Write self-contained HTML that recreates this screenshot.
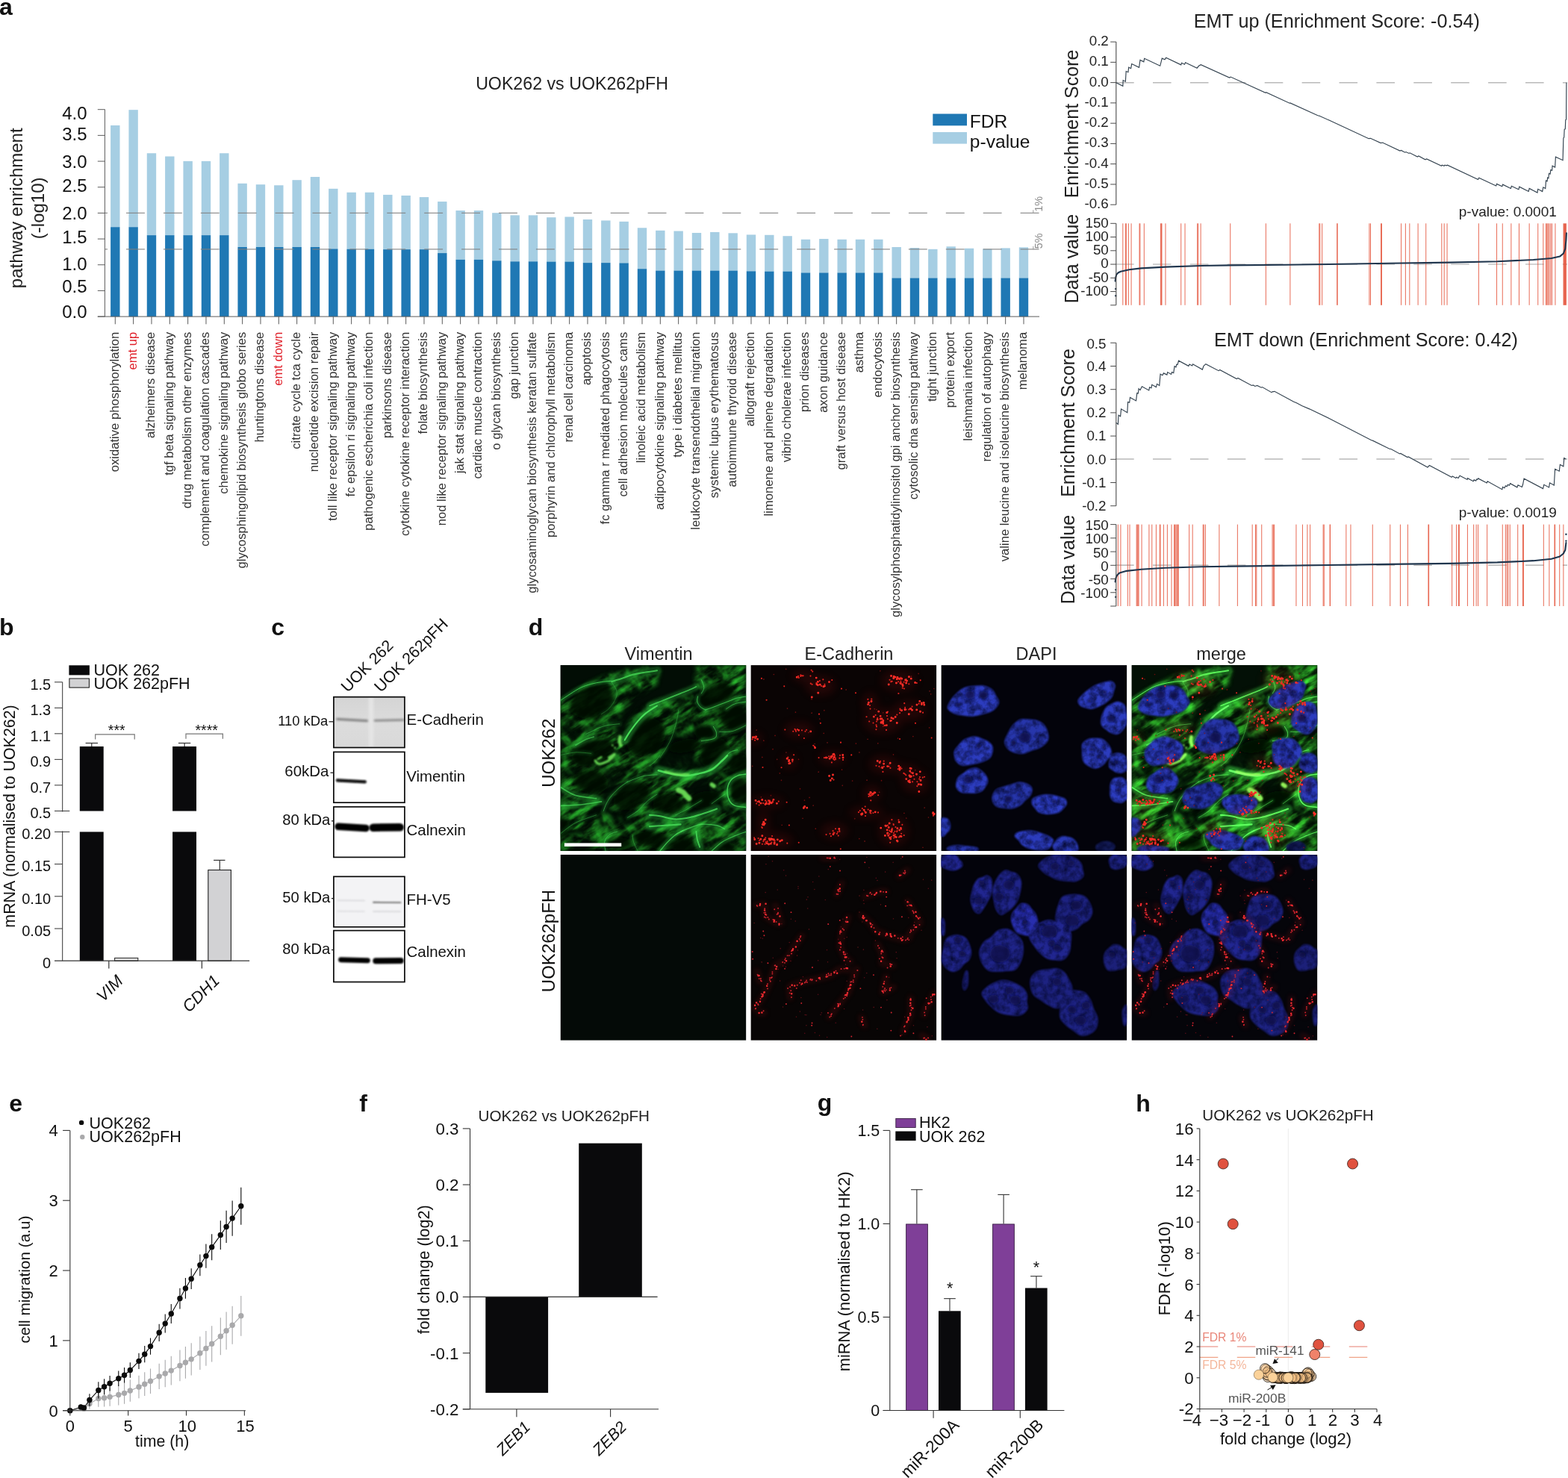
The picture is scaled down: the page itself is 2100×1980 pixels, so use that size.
<!DOCTYPE html>
<html lang="en">
<head>
<meta charset="utf-8">
<title>Figure</title>
<style>
html,body{margin:0;padding:0;background:#fff;}
body{width:2100px;height:1980px;overflow:hidden;font-family:"Liberation Sans",Arial,Helvetica,sans-serif;}
svg{display:block;}
svg text{font-family:"Liberation Sans",Arial,Helvetica,sans-serif;}
</style>
</head>
<body>
<svg width="2100" height="1980" viewBox="0 0 2100 1980">
<rect x="0" y="0" width="2100" height="1980" fill="#ffffff"/>
<!-- panel_a -->
<g>
<defs><clipPath id="aclip"><rect x="140.4" y="100" width="1300" height="300"/></clipPath></defs>
<text x="-1" y="20" font-size="32" fill="#111" font-weight="bold" >a</text>
<text x="766" y="119.7" font-size="23.2" fill="#222" text-anchor="middle" >UOK262 vs UOK262pFH</text>
<text transform="translate(30 278.8) rotate(-90)" font-size="24" fill="#222" text-anchor="middle" >pathway enrichment</text>
<text transform="translate(58.8 278.8) rotate(-90)" font-size="24" fill="#222" text-anchor="middle" >(-log10)</text>
<text x="116.6" y="160" font-size="24" fill="#111" text-anchor="end" >4.0</text>
<text x="116.6" y="187.7" font-size="24" fill="#111" text-anchor="end" >3.5</text>
<text x="116.6" y="225" font-size="24" fill="#111" text-anchor="end" >3.0</text>
<text x="116.6" y="256.8" font-size="24" fill="#111" text-anchor="end" >2.5</text>
<text x="116.6" y="294.2" font-size="24" fill="#111" text-anchor="end" >2.0</text>
<text x="116.6" y="326" font-size="24" fill="#111" text-anchor="end" >1.5</text>
<text x="116.6" y="361.5" font-size="24" fill="#111" text-anchor="end" >1.0</text>
<text x="116.6" y="391.7" font-size="24" fill="#111" text-anchor="end" >0.5</text>
<text x="116.6" y="426" font-size="24" fill="#111" text-anchor="end" >0.0</text>
<rect x="148.1" y="167.96" width="12.4" height="136.57" fill="#a6cee3" />
<rect x="148.1" y="304.23" width="12.4" height="119.87" fill="#1f78b4" />
<rect x="172.43" y="147.18" width="12.4" height="157.34" fill="#a6cee3" />
<rect x="172.43" y="304.23" width="12.4" height="119.87" fill="#1f78b4" />
<rect x="196.77" y="205.28" width="12.4" height="110.16" fill="#a6cee3" />
<rect x="196.77" y="315.14" width="12.4" height="108.96" fill="#1f78b4" />
<rect x="221.1" y="209.51" width="12.4" height="105.93" fill="#a6cee3" />
<rect x="221.1" y="315.14" width="12.4" height="108.96" fill="#1f78b4" />
<rect x="245.44" y="215.85" width="12.4" height="99.6" fill="#a6cee3" />
<rect x="245.44" y="315.14" width="12.4" height="108.96" fill="#1f78b4" />
<rect x="269.77" y="215.85" width="12.4" height="99.6" fill="#a6cee3" />
<rect x="269.77" y="315.14" width="12.4" height="108.96" fill="#1f78b4" />
<rect x="294.1" y="205.28" width="12.4" height="110.16" fill="#a6cee3" />
<rect x="294.1" y="315.14" width="12.4" height="108.96" fill="#1f78b4" />
<rect x="318.44" y="245.77" width="12.4" height="85.51" fill="#a6cee3" />
<rect x="318.44" y="330.99" width="12.4" height="93.11" fill="#1f78b4" />
<rect x="342.77" y="247.18" width="12.4" height="84.1" fill="#a6cee3" />
<rect x="342.77" y="330.99" width="12.4" height="93.11" fill="#1f78b4" />
<rect x="367.11" y="248.24" width="12.4" height="83.05" fill="#a6cee3" />
<rect x="367.11" y="330.99" width="12.4" height="93.11" fill="#1f78b4" />
<rect x="391.44" y="241.2" width="12.4" height="90.09" fill="#a6cee3" />
<rect x="391.44" y="330.99" width="12.4" height="93.11" fill="#1f78b4" />
<rect x="415.77" y="236.97" width="12.4" height="94.31" fill="#a6cee3" />
<rect x="415.77" y="330.99" width="12.4" height="93.11" fill="#1f78b4" />
<rect x="440.11" y="252.82" width="12.4" height="80.93" fill="#a6cee3" />
<rect x="440.11" y="333.45" width="12.4" height="90.65" fill="#1f78b4" />
<rect x="464.44" y="257.75" width="12.4" height="76.36" fill="#a6cee3" />
<rect x="464.44" y="333.8" width="12.4" height="90.3" fill="#1f78b4" />
<rect x="488.78" y="257.75" width="12.4" height="76.36" fill="#a6cee3" />
<rect x="488.78" y="333.8" width="12.4" height="90.3" fill="#1f78b4" />
<rect x="513.11" y="260.92" width="12.4" height="73.54" fill="#a6cee3" />
<rect x="513.11" y="334.15" width="12.4" height="89.95" fill="#1f78b4" />
<rect x="537.44" y="261.97" width="12.4" height="72.48" fill="#a6cee3" />
<rect x="537.44" y="334.15" width="12.4" height="89.95" fill="#1f78b4" />
<rect x="561.78" y="264.08" width="12.4" height="70.37" fill="#a6cee3" />
<rect x="561.78" y="334.15" width="12.4" height="89.95" fill="#1f78b4" />
<rect x="586.11" y="270.07" width="12.4" height="69.31" fill="#a6cee3" />
<rect x="586.11" y="339.08" width="12.4" height="85.02" fill="#1f78b4" />
<rect x="610.45" y="282.04" width="12.4" height="66.15" fill="#a6cee3" />
<rect x="610.45" y="347.89" width="12.4" height="76.21" fill="#1f78b4" />
<rect x="634.78" y="282.04" width="12.4" height="66.15" fill="#a6cee3" />
<rect x="634.78" y="347.89" width="12.4" height="76.21" fill="#1f78b4" />
<rect x="659.11" y="285.21" width="12.4" height="64.38" fill="#a6cee3" />
<rect x="659.11" y="349.3" width="12.4" height="74.8" fill="#1f78b4" />
<rect x="683.45" y="288.38" width="12.4" height="62.27" fill="#a6cee3" />
<rect x="683.45" y="350.35" width="12.4" height="73.75" fill="#1f78b4" />
<rect x="707.78" y="288.38" width="12.4" height="62.27" fill="#a6cee3" />
<rect x="707.78" y="350.35" width="12.4" height="73.75" fill="#1f78b4" />
<rect x="732.12" y="291.2" width="12.4" height="59.81" fill="#a6cee3" />
<rect x="732.12" y="350.7" width="12.4" height="73.4" fill="#1f78b4" />
<rect x="756.45" y="290.49" width="12.4" height="60.51" fill="#a6cee3" />
<rect x="756.45" y="350.7" width="12.4" height="73.4" fill="#1f78b4" />
<rect x="780.78" y="294.01" width="12.4" height="58.4" fill="#a6cee3" />
<rect x="780.78" y="352.11" width="12.4" height="71.99" fill="#1f78b4" />
<rect x="805.12" y="295.42" width="12.4" height="56.99" fill="#a6cee3" />
<rect x="805.12" y="352.11" width="12.4" height="71.99" fill="#1f78b4" />
<rect x="829.45" y="296.83" width="12.4" height="55.93" fill="#a6cee3" />
<rect x="829.45" y="352.46" width="12.4" height="71.64" fill="#1f78b4" />
<rect x="853.79" y="305.28" width="12.4" height="55.23" fill="#a6cee3" />
<rect x="853.79" y="360.21" width="12.4" height="63.89" fill="#1f78b4" />
<rect x="878.12" y="308.8" width="12.4" height="54.17" fill="#a6cee3" />
<rect x="878.12" y="362.68" width="12.4" height="61.42" fill="#1f78b4" />
<rect x="902.45" y="309.51" width="12.4" height="53.47" fill="#a6cee3" />
<rect x="902.45" y="362.68" width="12.4" height="61.42" fill="#1f78b4" />
<rect x="926.79" y="311.97" width="12.4" height="51" fill="#a6cee3" />
<rect x="926.79" y="362.68" width="12.4" height="61.42" fill="#1f78b4" />
<rect x="951.12" y="310.92" width="12.4" height="52.06" fill="#a6cee3" />
<rect x="951.12" y="362.68" width="12.4" height="61.42" fill="#1f78b4" />
<rect x="975.46" y="312.32" width="12.4" height="50.65" fill="#a6cee3" />
<rect x="975.46" y="362.68" width="12.4" height="61.42" fill="#1f78b4" />
<rect x="999.79" y="314.44" width="12.4" height="49.24" fill="#a6cee3" />
<rect x="999.79" y="363.38" width="12.4" height="60.72" fill="#1f78b4" />
<rect x="1024.12" y="314.79" width="12.4" height="49.24" fill="#a6cee3" />
<rect x="1024.12" y="363.73" width="12.4" height="60.37" fill="#1f78b4" />
<rect x="1048.46" y="316.2" width="12.4" height="47.84" fill="#a6cee3" />
<rect x="1048.46" y="363.73" width="12.4" height="60.37" fill="#1f78b4" />
<rect x="1072.79" y="320.77" width="12.4" height="45.02" fill="#a6cee3" />
<rect x="1072.79" y="365.49" width="12.4" height="58.61" fill="#1f78b4" />
<rect x="1097.13" y="320.07" width="12.4" height="45.72" fill="#a6cee3" />
<rect x="1097.13" y="365.49" width="12.4" height="58.61" fill="#1f78b4" />
<rect x="1121.46" y="320.77" width="12.4" height="45.02" fill="#a6cee3" />
<rect x="1121.46" y="365.49" width="12.4" height="58.61" fill="#1f78b4" />
<rect x="1145.79" y="320.77" width="12.4" height="45.02" fill="#a6cee3" />
<rect x="1145.79" y="365.49" width="12.4" height="58.61" fill="#1f78b4" />
<rect x="1170.13" y="320.77" width="12.4" height="45.02" fill="#a6cee3" />
<rect x="1170.13" y="365.49" width="12.4" height="58.61" fill="#1f78b4" />
<rect x="1194.46" y="330.99" width="12.4" height="41.85" fill="#a6cee3" />
<rect x="1194.46" y="372.54" width="12.4" height="51.56" fill="#1f78b4" />
<rect x="1218.8" y="332.04" width="12.4" height="40.79" fill="#a6cee3" />
<rect x="1218.8" y="372.54" width="12.4" height="51.56" fill="#1f78b4" />
<rect x="1243.13" y="333.8" width="12.4" height="39.03" fill="#a6cee3" />
<rect x="1243.13" y="372.54" width="12.4" height="51.56" fill="#1f78b4" />
<rect x="1267.46" y="330.28" width="12.4" height="42.55" fill="#a6cee3" />
<rect x="1267.46" y="372.54" width="12.4" height="51.56" fill="#1f78b4" />
<rect x="1291.8" y="332.75" width="12.4" height="40.09" fill="#a6cee3" />
<rect x="1291.8" y="372.54" width="12.4" height="51.56" fill="#1f78b4" />
<rect x="1316.13" y="333.45" width="12.4" height="39.38" fill="#a6cee3" />
<rect x="1316.13" y="372.54" width="12.4" height="51.56" fill="#1f78b4" />
<rect x="1340.47" y="332.39" width="12.4" height="40.44" fill="#a6cee3" />
<rect x="1340.47" y="372.54" width="12.4" height="51.56" fill="#1f78b4" />
<rect x="1364.8" y="331.34" width="12.4" height="41.5" fill="#a6cee3" />
<rect x="1364.8" y="372.54" width="12.4" height="51.56" fill="#1f78b4" />
<line x1="119.1" y1="285.4" x2="1392.6" y2="285.4" stroke="#808080" stroke-width="1.1" stroke-dasharray="24.9 25" opacity="0.85" clip-path="url(#aclip)"/>
<line x1="1383.8" y1="281.4" x2="1383.8" y2="285.9" stroke="#999" stroke-width="1" />
<line x1="119.1" y1="333.88" x2="1392.6" y2="333.88" stroke="#808080" stroke-width="1.1" stroke-dasharray="24.9 25" opacity="0.85" clip-path="url(#aclip)"/>
<line x1="1383.8" y1="329.88" x2="1383.8" y2="334.38" stroke="#999" stroke-width="1" />
<line x1="140.4" y1="146.5" x2="140.4" y2="424.1" stroke="#5c5c5c" stroke-width="1" />
<line x1="130.8" y1="424.1" x2="140.4" y2="424.1" stroke="#5c5c5c" stroke-width="1" />
<line x1="130.8" y1="389.43" x2="140.4" y2="389.43" stroke="#5c5c5c" stroke-width="1" />
<line x1="130.8" y1="354.75" x2="140.4" y2="354.75" stroke="#5c5c5c" stroke-width="1" />
<line x1="130.8" y1="320.08" x2="140.4" y2="320.08" stroke="#5c5c5c" stroke-width="1" />
<line x1="130.8" y1="285.4" x2="140.4" y2="285.4" stroke="#5c5c5c" stroke-width="1" />
<line x1="130.8" y1="250.73" x2="140.4" y2="250.73" stroke="#5c5c5c" stroke-width="1" />
<line x1="130.8" y1="216.05" x2="140.4" y2="216.05" stroke="#5c5c5c" stroke-width="1" />
<line x1="130.8" y1="181.38" x2="140.4" y2="181.38" stroke="#5c5c5c" stroke-width="1" />
<line x1="130.8" y1="146.7" x2="140.4" y2="146.7" stroke="#5c5c5c" stroke-width="1" />
<line x1="130.8" y1="424.1" x2="1392" y2="424.1" stroke="#5c5c5c" stroke-width="1" />
<line x1="154.3" y1="424.1" x2="154.3" y2="434.3" stroke="#5c5c5c" stroke-width="1" />
<line x1="178.63" y1="424.1" x2="178.63" y2="434.3" stroke="#5c5c5c" stroke-width="1" />
<line x1="202.97" y1="424.1" x2="202.97" y2="434.3" stroke="#5c5c5c" stroke-width="1" />
<line x1="227.3" y1="424.1" x2="227.3" y2="434.3" stroke="#5c5c5c" stroke-width="1" />
<line x1="251.64" y1="424.1" x2="251.64" y2="434.3" stroke="#5c5c5c" stroke-width="1" />
<line x1="275.97" y1="424.1" x2="275.97" y2="434.3" stroke="#5c5c5c" stroke-width="1" />
<line x1="300.3" y1="424.1" x2="300.3" y2="434.3" stroke="#5c5c5c" stroke-width="1" />
<line x1="324.64" y1="424.1" x2="324.64" y2="434.3" stroke="#5c5c5c" stroke-width="1" />
<line x1="348.97" y1="424.1" x2="348.97" y2="434.3" stroke="#5c5c5c" stroke-width="1" />
<line x1="373.31" y1="424.1" x2="373.31" y2="434.3" stroke="#5c5c5c" stroke-width="1" />
<line x1="397.64" y1="424.1" x2="397.64" y2="434.3" stroke="#5c5c5c" stroke-width="1" />
<line x1="421.97" y1="424.1" x2="421.97" y2="434.3" stroke="#5c5c5c" stroke-width="1" />
<line x1="446.31" y1="424.1" x2="446.31" y2="434.3" stroke="#5c5c5c" stroke-width="1" />
<line x1="470.64" y1="424.1" x2="470.64" y2="434.3" stroke="#5c5c5c" stroke-width="1" />
<line x1="494.98" y1="424.1" x2="494.98" y2="434.3" stroke="#5c5c5c" stroke-width="1" />
<line x1="519.31" y1="424.1" x2="519.31" y2="434.3" stroke="#5c5c5c" stroke-width="1" />
<line x1="543.64" y1="424.1" x2="543.64" y2="434.3" stroke="#5c5c5c" stroke-width="1" />
<line x1="567.98" y1="424.1" x2="567.98" y2="434.3" stroke="#5c5c5c" stroke-width="1" />
<line x1="592.31" y1="424.1" x2="592.31" y2="434.3" stroke="#5c5c5c" stroke-width="1" />
<line x1="616.65" y1="424.1" x2="616.65" y2="434.3" stroke="#5c5c5c" stroke-width="1" />
<line x1="640.98" y1="424.1" x2="640.98" y2="434.3" stroke="#5c5c5c" stroke-width="1" />
<line x1="665.31" y1="424.1" x2="665.31" y2="434.3" stroke="#5c5c5c" stroke-width="1" />
<line x1="689.65" y1="424.1" x2="689.65" y2="434.3" stroke="#5c5c5c" stroke-width="1" />
<line x1="713.98" y1="424.1" x2="713.98" y2="434.3" stroke="#5c5c5c" stroke-width="1" />
<line x1="738.32" y1="424.1" x2="738.32" y2="434.3" stroke="#5c5c5c" stroke-width="1" />
<line x1="762.65" y1="424.1" x2="762.65" y2="434.3" stroke="#5c5c5c" stroke-width="1" />
<line x1="786.98" y1="424.1" x2="786.98" y2="434.3" stroke="#5c5c5c" stroke-width="1" />
<line x1="811.32" y1="424.1" x2="811.32" y2="434.3" stroke="#5c5c5c" stroke-width="1" />
<line x1="835.65" y1="424.1" x2="835.65" y2="434.3" stroke="#5c5c5c" stroke-width="1" />
<line x1="859.99" y1="424.1" x2="859.99" y2="434.3" stroke="#5c5c5c" stroke-width="1" />
<line x1="884.32" y1="424.1" x2="884.32" y2="434.3" stroke="#5c5c5c" stroke-width="1" />
<line x1="908.65" y1="424.1" x2="908.65" y2="434.3" stroke="#5c5c5c" stroke-width="1" />
<line x1="932.99" y1="424.1" x2="932.99" y2="434.3" stroke="#5c5c5c" stroke-width="1" />
<line x1="957.32" y1="424.1" x2="957.32" y2="434.3" stroke="#5c5c5c" stroke-width="1" />
<line x1="981.66" y1="424.1" x2="981.66" y2="434.3" stroke="#5c5c5c" stroke-width="1" />
<line x1="1005.99" y1="424.1" x2="1005.99" y2="434.3" stroke="#5c5c5c" stroke-width="1" />
<line x1="1030.32" y1="424.1" x2="1030.32" y2="434.3" stroke="#5c5c5c" stroke-width="1" />
<line x1="1054.66" y1="424.1" x2="1054.66" y2="434.3" stroke="#5c5c5c" stroke-width="1" />
<line x1="1078.99" y1="424.1" x2="1078.99" y2="434.3" stroke="#5c5c5c" stroke-width="1" />
<line x1="1103.33" y1="424.1" x2="1103.33" y2="434.3" stroke="#5c5c5c" stroke-width="1" />
<line x1="1127.66" y1="424.1" x2="1127.66" y2="434.3" stroke="#5c5c5c" stroke-width="1" />
<line x1="1151.99" y1="424.1" x2="1151.99" y2="434.3" stroke="#5c5c5c" stroke-width="1" />
<line x1="1176.33" y1="424.1" x2="1176.33" y2="434.3" stroke="#5c5c5c" stroke-width="1" />
<line x1="1200.66" y1="424.1" x2="1200.66" y2="434.3" stroke="#5c5c5c" stroke-width="1" />
<line x1="1225" y1="424.1" x2="1225" y2="434.3" stroke="#5c5c5c" stroke-width="1" />
<line x1="1249.33" y1="424.1" x2="1249.33" y2="434.3" stroke="#5c5c5c" stroke-width="1" />
<line x1="1273.66" y1="424.1" x2="1273.66" y2="434.3" stroke="#5c5c5c" stroke-width="1" />
<line x1="1298" y1="424.1" x2="1298" y2="434.3" stroke="#5c5c5c" stroke-width="1" />
<line x1="1322.33" y1="424.1" x2="1322.33" y2="434.3" stroke="#5c5c5c" stroke-width="1" />
<line x1="1346.67" y1="424.1" x2="1346.67" y2="434.3" stroke="#5c5c5c" stroke-width="1" />
<line x1="1371" y1="424.1" x2="1371" y2="434.3" stroke="#5c5c5c" stroke-width="1" />
<rect x="1249.3" y="152.5" width="45.7" height="15.8" fill="#1f78b4" />
<rect x="1249.3" y="177" width="45.7" height="15.6" fill="#a6cee3" />
<text x="1298.8" y="171.2" font-size="24.6" fill="#111" >FDR</text>
<text x="1298.8" y="197.5" font-size="24.6" fill="#111" >p-value</text>
<text transform="translate(1396 283.6) rotate(-90)" font-size="14.3" fill="#8c8c8c" >1%</text>
<text transform="translate(1396 333.2) rotate(-90)" font-size="14.3" fill="#8c8c8c" >5%</text>
<text transform="translate(158.6 444.8) rotate(-90)" font-size="16.63" fill="#333" text-anchor="end" >oxidative phosphorylation</text>
<text transform="translate(182.93 444.8) rotate(-90)" font-size="16.63" fill="#e0202a" text-anchor="end" >emt up</text>
<text transform="translate(207.27 444.8) rotate(-90)" font-size="16.63" fill="#333" text-anchor="end" >alzheimers disease</text>
<text transform="translate(231.6 444.8) rotate(-90)" font-size="16.63" fill="#333" text-anchor="end" >tgf beta signaling pathway</text>
<text transform="translate(255.94 444.8) rotate(-90)" font-size="16.63" fill="#333" text-anchor="end" >drug metabolism other enzymes</text>
<text transform="translate(280.27 444.8) rotate(-90)" font-size="16.63" fill="#333" text-anchor="end" >complement and coagulation cascades</text>
<text transform="translate(304.6 444.8) rotate(-90)" font-size="16.63" fill="#333" text-anchor="end" >chemokine signaling pathway</text>
<text transform="translate(328.94 444.8) rotate(-90)" font-size="16.63" fill="#333" text-anchor="end" >glycosphingolipid biosynthesis globo series</text>
<text transform="translate(353.27 444.8) rotate(-90)" font-size="16.63" fill="#333" text-anchor="end" >huntingtons disease</text>
<text transform="translate(377.61 444.8) rotate(-90)" font-size="16.63" fill="#e0202a" text-anchor="end" >emt down</text>
<text transform="translate(401.94 444.8) rotate(-90)" font-size="16.63" fill="#333" text-anchor="end" >citrate cycle tca cycle</text>
<text transform="translate(426.27 444.8) rotate(-90)" font-size="16.63" fill="#333" text-anchor="end" >nucleotide excision repair</text>
<text transform="translate(450.61 444.8) rotate(-90)" font-size="16.63" fill="#333" text-anchor="end" >toll like receptor signaling pathway</text>
<text transform="translate(474.94 444.8) rotate(-90)" font-size="16.63" fill="#333" text-anchor="end" >fc epsilon ri signaling pathway</text>
<text transform="translate(499.28 444.8) rotate(-90)" font-size="16.63" fill="#333" text-anchor="end" >pathogenic escherichia coli infection</text>
<text transform="translate(523.61 444.8) rotate(-90)" font-size="16.63" fill="#333" text-anchor="end" >parkinsons disease</text>
<text transform="translate(547.94 444.8) rotate(-90)" font-size="16.63" fill="#333" text-anchor="end" >cytokine cytokine receptor interaction</text>
<text transform="translate(572.28 444.8) rotate(-90)" font-size="16.63" fill="#333" text-anchor="end" >folate biosynthesis</text>
<text transform="translate(596.61 444.8) rotate(-90)" font-size="16.63" fill="#333" text-anchor="end" >nod like receptor signaling pathway</text>
<text transform="translate(620.95 444.8) rotate(-90)" font-size="16.63" fill="#333" text-anchor="end" >jak stat signaling pathway</text>
<text transform="translate(645.28 444.8) rotate(-90)" font-size="16.63" fill="#333" text-anchor="end" >cardiac muscle contraction</text>
<text transform="translate(669.61 444.8) rotate(-90)" font-size="16.63" fill="#333" text-anchor="end" >o glycan biosynthesis</text>
<text transform="translate(693.95 444.8) rotate(-90)" font-size="16.63" fill="#333" text-anchor="end" >gap junction</text>
<text transform="translate(718.28 444.8) rotate(-90)" font-size="16.63" fill="#333" text-anchor="end" >glycosaminoglycan biosynthesis keratan sulfate</text>
<text transform="translate(742.62 444.8) rotate(-90)" font-size="16.63" fill="#333" text-anchor="end" >porphyrin and chlorophyll metabolism</text>
<text transform="translate(766.95 444.8) rotate(-90)" font-size="16.63" fill="#333" text-anchor="end" >renal cell carcinoma</text>
<text transform="translate(791.28 444.8) rotate(-90)" font-size="16.63" fill="#333" text-anchor="end" >apoptosis</text>
<text transform="translate(815.62 444.8) rotate(-90)" font-size="16.63" fill="#333" text-anchor="end" >fc gamma r mediated phagocytosis</text>
<text transform="translate(839.95 444.8) rotate(-90)" font-size="16.63" fill="#333" text-anchor="end" >cell adhesion molecules cams</text>
<text transform="translate(864.29 444.8) rotate(-90)" font-size="16.63" fill="#333" text-anchor="end" >linoleic acid metabolism</text>
<text transform="translate(888.62 444.8) rotate(-90)" font-size="16.63" fill="#333" text-anchor="end" >adipocytokine signaling pathway</text>
<text transform="translate(912.95 444.8) rotate(-90)" font-size="16.63" fill="#333" text-anchor="end" >type i diabetes mellitus</text>
<text transform="translate(937.29 444.8) rotate(-90)" font-size="16.63" fill="#333" text-anchor="end" >leukocyte transendothelial migration</text>
<text transform="translate(961.62 444.8) rotate(-90)" font-size="16.63" fill="#333" text-anchor="end" >systemic lupus erythematosus</text>
<text transform="translate(985.96 444.8) rotate(-90)" font-size="16.63" fill="#333" text-anchor="end" >autoimmune thyroid disease</text>
<text transform="translate(1010.29 444.8) rotate(-90)" font-size="16.63" fill="#333" text-anchor="end" >allograft rejection</text>
<text transform="translate(1034.62 444.8) rotate(-90)" font-size="16.63" fill="#333" text-anchor="end" >limonene and pinene degradation</text>
<text transform="translate(1058.96 444.8) rotate(-90)" font-size="16.63" fill="#333" text-anchor="end" >vibrio cholerae infection</text>
<text transform="translate(1083.29 444.8) rotate(-90)" font-size="16.63" fill="#333" text-anchor="end" >prion diseases</text>
<text transform="translate(1107.63 444.8) rotate(-90)" font-size="16.63" fill="#333" text-anchor="end" >axon guidance</text>
<text transform="translate(1131.96 444.8) rotate(-90)" font-size="16.63" fill="#333" text-anchor="end" >graft versus host disease</text>
<text transform="translate(1156.29 444.8) rotate(-90)" font-size="16.63" fill="#333" text-anchor="end" >asthma</text>
<text transform="translate(1180.63 444.8) rotate(-90)" font-size="16.63" fill="#333" text-anchor="end" >endocytosis</text>
<text transform="translate(1204.96 444.8) rotate(-90)" font-size="16.63" fill="#333" text-anchor="end" >glycosylphosphatidylinositol gpi anchor biosynthesis</text>
<text transform="translate(1229.3 444.8) rotate(-90)" font-size="16.63" fill="#333" text-anchor="end" >cytosolic dna sensing pathway</text>
<text transform="translate(1253.63 444.8) rotate(-90)" font-size="16.63" fill="#333" text-anchor="end" >tight junction</text>
<text transform="translate(1277.96 444.8) rotate(-90)" font-size="16.63" fill="#333" text-anchor="end" >protein export</text>
<text transform="translate(1302.3 444.8) rotate(-90)" font-size="16.63" fill="#333" text-anchor="end" >leishmania infection</text>
<text transform="translate(1326.63 444.8) rotate(-90)" font-size="16.63" fill="#333" text-anchor="end" >regulation of autophagy</text>
<text transform="translate(1350.97 444.8) rotate(-90)" font-size="16.63" fill="#333" text-anchor="end" >valine leucine and isoleucine biosynthesis</text>
<text transform="translate(1375.3 444.8) rotate(-90)" font-size="16.63" fill="#333" text-anchor="end" >melanoma</text>
</g>
<!-- panel_gsea -->
<g>
<text x="1790.3" y="37.3" font-size="25.2" fill="#222" text-anchor="middle" >EMT up (Enrichment Score: -0.54)</text>
<line x1="1494.1" y1="110.66" x2="2099" y2="110.66" stroke="#b9b9b9" stroke-width="1.5" stroke-dasharray="24.6 25.3"/>
<line x1="1494.8" y1="56.1" x2="1494.8" y2="274.2" stroke="#4a4a4a" stroke-width="1.1" />
<line x1="1487.2" y1="56.1" x2="1494.8" y2="56.1" stroke="#4a4a4a" stroke-width="1" />
<text x="1484.8" y="61.1" font-size="18.8" fill="#222" text-anchor="end" >0.2</text>
<line x1="1487.2" y1="83.36" x2="1494.8" y2="83.36" stroke="#4a4a4a" stroke-width="1" />
<text x="1484.8" y="88.36" font-size="18.8" fill="#222" text-anchor="end" >0.1</text>
<line x1="1487.2" y1="110.62" x2="1494.8" y2="110.62" stroke="#4a4a4a" stroke-width="1" />
<text x="1484.8" y="115.62" font-size="18.8" fill="#222" text-anchor="end" >0.0</text>
<line x1="1487.2" y1="137.89" x2="1494.8" y2="137.89" stroke="#4a4a4a" stroke-width="1" />
<text x="1484.8" y="142.89" font-size="18.8" fill="#222" text-anchor="end" >-0.1</text>
<line x1="1487.2" y1="165.15" x2="1494.8" y2="165.15" stroke="#4a4a4a" stroke-width="1" />
<text x="1484.8" y="170.15" font-size="18.8" fill="#222" text-anchor="end" >-0.2</text>
<line x1="1487.2" y1="192.41" x2="1494.8" y2="192.41" stroke="#4a4a4a" stroke-width="1" />
<text x="1484.8" y="197.41" font-size="18.8" fill="#222" text-anchor="end" >-0.3</text>
<line x1="1487.2" y1="219.67" x2="1494.8" y2="219.67" stroke="#4a4a4a" stroke-width="1" />
<text x="1484.8" y="224.67" font-size="18.8" fill="#222" text-anchor="end" >-0.4</text>
<line x1="1487.2" y1="246.94" x2="1494.8" y2="246.94" stroke="#4a4a4a" stroke-width="1" />
<text x="1484.8" y="251.94" font-size="18.8" fill="#222" text-anchor="end" >-0.5</text>
<line x1="1487.2" y1="274.2" x2="1494.8" y2="274.2" stroke="#4a4a4a" stroke-width="1" />
<text x="1484.8" y="279.2" font-size="18.8" fill="#222" text-anchor="end" >-0.6</text>
<text transform="translate(1444.3 166) rotate(-90)" font-size="25" fill="#222" text-anchor="middle" >Enrichment Score</text>
<path d="M1494.81 110.66 L1503.82 115.33 L1504.14 107.61 L1507.36 109.22 L1508.17 95.53 L1510.91 96.66 L1511.71 90.22 L1514.61 91.67 L1515.73 85.55 L1525.55 90.38 L1527 80.4 L1531.83 82.82 L1532.64 78.31 L1553.72 88.29 L1556.3 78.15 L1560 79.76 L1561.61 77.34 L1581.73 86.84 L1582.54 84.27 L1586.56 86.2 L1587.53 83.78 L1603.14 91.19 L1605.55 88.29 L1608.29 86.68 L1646.6 104.06 L1648.21 103.1 L1694.89 124.35 L1695.69 123.7 L1727.08 138.19 L1727.89 137.87 L1764.91 154.77 L1766.52 155.09 L1780.04 161.05 L1833.12 185.67 L1835.53 185.35 L1849.22 191.63 L1851.63 190.99 L1874.97 202.09 L1876.58 201.45 L1881.73 204.19 L1883.02 203.54 L1887.04 205.47 L1888.17 204.83 L1898.31 209.98 L1899.92 209.01 L1908.77 213.84 L1910.7 212.88 L1930.5 222.37 L1931.31 221.09 L1934.21 222.21 L1935.01 221.09 L1936.94 221.89 L1938.55 221.25 L1979.6 240.4 L1980.72 238.31 L2003.74 248.93 L2004.55 246.36 L2011.79 249.74 L2012.6 247.16 L2023.38 252.47 L2024.35 249.26 L2034 253.76 L2034.81 250.22 L2047.2 256.5 L2048.17 252.47 L2058.95 258.11 L2059.76 253.28 L2065.71 256.5 L2066.84 250.87 L2069.74 252.47 L2070.54 242.01 L2072.15 242.82 L2072.64 237.99 L2073.92 238.79 L2074.57 232.35 L2076.18 233.16 L2076.82 227.53 L2078.59 228.33 L2079.07 222.21 L2082.62 223.98 L2083.42 210.14 L2093.08 214.65 L2093.88 184.87 L2094.69 184.06 L2095.17 173.28 L2096.3 172.8 L2096.78 160.72 L2097.59 159.92 L2097.91 110.82" fill="none" stroke="#33424f" stroke-width="1.15" stroke-linejoin="miter"/>
<text x="2084.8" y="289.5" font-size="19" fill="#222" text-anchor="end" >p-value: 0.0001</text>
<line x1="1494.1" y1="354" x2="2099" y2="354" stroke="#a8a8a8" stroke-width="1.1" stroke-dasharray="24.6 25.3"/>
<rect x="2075.37" y="299.3" width="4.02" height="109.5" fill="#e34a31" opacity="0.5"/>
<rect x="2093.56" y="299.3" width="4.35" height="109.5" fill="#e34a31" opacity="0.85"/>
<path d="M1503.82 299.3V408.8M1507.36 299.3V408.8M1508.33 299.3V408.8M1511.39 299.3V408.8M1515.09 299.3V408.8M1526.04 299.3V408.8M1526.84 299.3V408.8M1532.31 299.3V408.8M1554.37 299.3V408.8M1555.33 299.3V408.8M1555.98 299.3V408.8M1560.97 299.3V408.8M1581.73 299.3V408.8M1587.04 299.3V408.8M1603.62 299.3V408.8M1604.75 299.3V408.8M1608.13 299.3V408.8M1647.73 299.3V408.8M1695.37 299.3V408.8M1727.89 299.3V408.8M1766.84 299.3V408.8M1767.81 299.3V408.8M1770.7 299.3V408.8M1790.99 299.3V408.8M1790.95 299.3V408.8M1833.92 299.3V408.8M1835.53 299.3V408.8M1849.54 299.3V408.8M1850.5 299.3V408.8M1876.58 299.3V408.8M1882.37 299.3V408.8M1887.85 299.3V408.8M1899.11 299.3V408.8M1909.74 299.3V408.8M1930.82 299.3V408.8M1934.21 299.3V408.8M1938.07 299.3V408.8M1980.4 299.3V408.8M2004.55 299.3V408.8M2012.27 299.3V408.8M2023.86 299.3V408.8M2034.49 299.3V408.8M2048.17 299.3V408.8M2059.76 299.3V408.8M2066.84 299.3V408.8M2070.54 299.3V408.8M2071.83 299.3V408.8M2072.96 299.3V408.8M2074.25 299.3V408.8M2082.94 299.3V408.8" fill="none" stroke="#e34a31" stroke-width="0.85" opacity="0.97"/>
<path d="M1493.68 376.58 L1494.16 371.75 L1495.29 367.73 L1497.71 365.31 L1500.93 363.7 L1512.19 361.29 L1528.29 359.36 L1560.48 357.59 L1608.77 355.98 L1647.4 355.33 L1721.45 354.69 L1780.04 354.04 L1860.48 352.76 L1940.97 351.63 L2005.35 350.18 L2053.64 347.93 L2077.79 346 L2089.05 343.58 L2093.88 339.56 L2096.3 333.12 L2097.42 321.85 L2097.91 312.19" fill="none" stroke="#20364e" stroke-width="2.1" stroke-linejoin="round" stroke-linecap="round"/>
<circle cx="1494.2" cy="387.04" r="1.2" fill="#20364e" />
<circle cx="1494.2" cy="396.22" r="1.2" fill="#20364e" />
<line x1="1494.8" y1="299.3" x2="1494.8" y2="408.8" stroke="#4a4a4a" stroke-width="1.1" />
<line x1="1487.2" y1="299.3" x2="1494.8" y2="299.3" stroke="#4a4a4a" stroke-width="1" />
<text x="1484.8" y="304.6" font-size="18.8" fill="#222" text-anchor="end" >150</text>
<line x1="1487.2" y1="317.55" x2="1494.8" y2="317.55" stroke="#4a4a4a" stroke-width="1" />
<text x="1484.8" y="322.85" font-size="18.8" fill="#222" text-anchor="end" >100</text>
<line x1="1487.2" y1="335.8" x2="1494.8" y2="335.8" stroke="#4a4a4a" stroke-width="1" />
<text x="1484.8" y="341.1" font-size="18.8" fill="#222" text-anchor="end" >50</text>
<line x1="1487.2" y1="354.05" x2="1494.8" y2="354.05" stroke="#4a4a4a" stroke-width="1" />
<text x="1484.8" y="359.35" font-size="18.8" fill="#222" text-anchor="end" >0</text>
<line x1="1487.2" y1="372.3" x2="1494.8" y2="372.3" stroke="#4a4a4a" stroke-width="1" />
<text x="1484.8" y="377.6" font-size="18.8" fill="#222" text-anchor="end" >-50</text>
<line x1="1487.2" y1="390.55" x2="1494.8" y2="390.55" stroke="#4a4a4a" stroke-width="1" />
<text x="1484.8" y="395.85" font-size="18.8" fill="#222" text-anchor="end" >-100</text>
<line x1="1487.2" y1="408.8" x2="1494.8" y2="408.8" stroke="#4a4a4a" stroke-width="1" />
<text transform="translate(1444.3 346.5) rotate(-90)" font-size="25" fill="#222" text-anchor="middle" >Data value</text>
<text x="1829.5" y="464.3" font-size="25.2" fill="#222" text-anchor="middle" >EMT down (Enrichment Score: 0.42)</text>
<line x1="1494.1" y1="615" x2="2099" y2="615" stroke="#b9b9b9" stroke-width="1.5" stroke-dasharray="24.6 25.3"/>
<line x1="1494.8" y1="459.3" x2="1494.8" y2="677.7" stroke="#4a4a4a" stroke-width="1.1" />
<line x1="1487.2" y1="459.3" x2="1494.8" y2="459.3" stroke="#4a4a4a" stroke-width="1" />
<text x="1481.5" y="467.3" font-size="18.8" fill="#222" text-anchor="end" >0.5</text>
<line x1="1487.2" y1="490.5" x2="1494.8" y2="490.5" stroke="#4a4a4a" stroke-width="1" />
<text x="1481.5" y="496.8" font-size="18.8" fill="#222" text-anchor="end" >0.4</text>
<line x1="1487.2" y1="521.7" x2="1494.8" y2="521.7" stroke="#4a4a4a" stroke-width="1" />
<text x="1481.5" y="528" font-size="18.8" fill="#222" text-anchor="end" >0.3</text>
<line x1="1487.2" y1="552.9" x2="1494.8" y2="552.9" stroke="#4a4a4a" stroke-width="1" />
<text x="1481.5" y="559.2" font-size="18.8" fill="#222" text-anchor="end" >0.2</text>
<line x1="1487.2" y1="584.1" x2="1494.8" y2="584.1" stroke="#4a4a4a" stroke-width="1" />
<text x="1481.5" y="590.4" font-size="18.8" fill="#222" text-anchor="end" >0.1</text>
<line x1="1487.2" y1="615.3" x2="1494.8" y2="615.3" stroke="#4a4a4a" stroke-width="1" />
<text x="1481.5" y="621.6" font-size="18.8" fill="#222" text-anchor="end" >0.0</text>
<line x1="1487.2" y1="646.5" x2="1494.8" y2="646.5" stroke="#4a4a4a" stroke-width="1" />
<text x="1481.5" y="652.8" font-size="18.8" fill="#222" text-anchor="end" >-0.1</text>
<line x1="1487.2" y1="677.7" x2="1494.8" y2="677.7" stroke="#4a4a4a" stroke-width="1" />
<text x="1481.5" y="684" font-size="18.8" fill="#222" text-anchor="end" >-0.2</text>
<text transform="translate(1438.6 566.5) rotate(-90)" font-size="25" fill="#222" text-anchor="middle" >Enrichment Score</text>
<path d="M1494.81 566.36 L1497.38 568.29 L1498.03 556.22 L1500.6 557.83 L1501.57 547.85 L1509.78 552.68 L1510.58 538.51 L1512.68 539.32 L1513.48 532.39 L1521.53 536.9 L1522.82 526.6 L1524.27 527.08 L1525.07 520.8 L1527 522.58 L1529.42 517.75 L1538.75 522.9 L1539.56 518.87 L1541.97 519.68 L1542.78 515.33 L1548.41 518.55 L1549.54 514.37 L1552.76 516.46 L1554.04 501.17 L1556.94 502.78 L1558.39 499.88 L1562.9 502.13 L1563.7 498.59 L1568.53 501.49 L1569.5 498.59 L1571.75 499.56 L1573.04 490.7 L1574.97 491.83 L1575.77 488.29 L1577.06 488.61 L1578.51 483.14 L1591.87 490.38 L1593 487.97 L1596.7 489.9 L1597.51 487.81 L1610.38 495.05 L1611.99 490.22 L1614.89 487.65 L1632.11 496.66 L1633.72 495.53 L1656.26 507.61 L1657.87 506.48 L1676.38 516.46 L1678.31 515.98 L1680.89 517.42 L1683.62 516.46 L1689.26 519.2 L1690.54 518.55 L1702.94 525.63 L1704.06 524.83 L1706.96 524.35 L1732.72 538.19 L1735.94 539.48 L1743.98 543.82 L1753.64 547.85 L1780.04 560.4 L1837.14 590.02 L1838.27 590.18 L1861.29 601.45 L1862.9 601.45 L1874.65 607.89 L1875.77 607.4 L1884.95 612.56 L1886.24 611.91 L1911.99 625.92 L1914.41 623.5 L1944.19 639.28 L1945.31 637.99 L1949.82 640.56 L1950.62 639.28 L1953.04 640.4 L1955.13 637.18 L1965.11 642.49 L1965.59 640.72 L1973.16 644.75 L1974.12 642.82 L1976.7 644.1 L1977.51 642.01 L1978.79 642.49 L1979.6 640.89 L1991.19 647 L1992.15 644.75 L2011.79 655.69 L2012.6 652.47 L2015.01 653.76 L2016.3 650.87 L2018.23 651.83 L2019.36 649.26 L2021.45 650.22 L2022.58 647.65 L2031.91 652.8 L2033.04 649.74 L2038.35 652.47 L2039.48 649.26 L2041.09 641.21 L2066.52 654.57 L2067.81 649.26 L2074.57 652.96 L2075.53 646.84 L2081.33 650.06 L2082.62 628.33 L2088.25 631.23 L2089.38 622.37 L2093.88 624.79 L2094.85 613.52 L2097.1 614.97" fill="none" stroke="#33424f" stroke-width="1.15" stroke-linejoin="miter"/>
<text x="2084.8" y="692.8" font-size="19" fill="#222" text-anchor="end" >p-value: 0.0019</text>
<line x1="1494.1" y1="757.1" x2="2099" y2="757.1" stroke="#a8a8a8" stroke-width="1.1" stroke-dasharray="24.6 25.3"/>
<path d="M1497.38 702.6V812M1500.93 702.6V812M1510.26 702.6V812M1513 702.6V812M1522.17 702.6V812M1523.14 702.6V812M1524.1 702.6V812M1525.07 702.6V812M1529.09 702.6V812M1538.91 702.6V812M1542.78 702.6V812M1548.41 702.6V812M1553.24 702.6V812M1554.04 702.6V812M1558.39 702.6V812M1563.38 702.6V812M1569.01 702.6V812M1572.56 702.6V812M1573.68 702.6V812M1574.97 702.6V812M1576.1 702.6V812M1577.38 702.6V812M1578.19 702.6V812M1592.68 702.6V812M1597.18 702.6V812M1611.19 702.6V812M1612.31 702.6V812M1614.41 702.6V812M1632.92 702.6V812M1657.38 702.6V812M1677.18 702.6V812M1681.53 702.6V812M1682.82 702.6V812M1689.74 702.6V812M1704.06 702.6V812M1705.35 702.6V812M1706.64 702.6V812M1735.94 702.6V812M1744.47 702.6V812M1750.91 702.6V812M1754.61 702.6V812M1772.15 702.6V812M1773.28 702.6V812M1781.33 702.6V812M1781.29 702.6V812M1802.86 702.6V812M1808.97 702.6V812M1838.27 702.6V812M1861.77 702.6V812M1875.45 702.6V812M1885.43 702.6V812M1912.96 702.6V812M1913.6 702.6V812M1944.67 702.6V812M1950.62 702.6V812M1953.52 702.6V812M1954.33 702.6V812M1965.43 702.6V812M1973.64 702.6V812M1977.18 702.6V812M1979.6 702.6V812M1991.67 702.6V812M2012.27 702.6V812M2016.3 702.6V812M2018.23 702.6V812M2019.84 702.6V812M2022.25 702.6V812M2032.72 702.6V812M2039.48 702.6V812M2040.44 702.6V812M2067.32 702.6V812M2074.89 702.6V812M2081.97 702.6V812M2082.62 702.6V812M2088.73 702.6V812M2093.88 702.6V812" fill="none" stroke="#e34a31" stroke-width="0.85" opacity="0.97"/>
<path d="M1493.68 779.34 L1494.16 775.31 L1495.29 772.09 L1496.9 769.68 L1499.32 767.59 L1508.97 764.85 L1528.29 762.76 L1560.48 760.82 L1608.77 759.22 L1673.16 758.41 L1780.04 756.96 L1860.48 755.84 L1940.97 754.87 L2005.35 753.42 L2053.64 751.17 L2077.79 748.75 L2089.05 745.53 L2093.88 741.51 L2096.3 736.68 L2097.42 727.02" fill="none" stroke="#20364e" stroke-width="2.1" stroke-linejoin="round" stroke-linecap="round"/>
<circle cx="1494.2" cy="790.12" r="1.2" fill="#20364e" />
<circle cx="1494.2" cy="799.78" r="1.2" fill="#20364e" />
<circle cx="2097.42" cy="724.61" r="1.2" fill="#20364e" />
<circle cx="2097.42" cy="715.75" r="1.2" fill="#20364e" />
<line x1="1494.8" y1="702.6" x2="1494.8" y2="812" stroke="#4a4a4a" stroke-width="1.1" />
<line x1="1487.2" y1="702.6" x2="1494.8" y2="702.6" stroke="#4a4a4a" stroke-width="1" />
<text x="1484.8" y="710.2" font-size="18.8" fill="#222" text-anchor="end" >150</text>
<line x1="1487.2" y1="720.83" x2="1494.8" y2="720.83" stroke="#4a4a4a" stroke-width="1" />
<text x="1484.8" y="728.43" font-size="18.8" fill="#222" text-anchor="end" >100</text>
<line x1="1487.2" y1="739.07" x2="1494.8" y2="739.07" stroke="#4a4a4a" stroke-width="1" />
<text x="1484.8" y="746.67" font-size="18.8" fill="#222" text-anchor="end" >50</text>
<line x1="1487.2" y1="757.3" x2="1494.8" y2="757.3" stroke="#4a4a4a" stroke-width="1" />
<text x="1484.8" y="764.9" font-size="18.8" fill="#222" text-anchor="end" >0</text>
<line x1="1487.2" y1="775.53" x2="1494.8" y2="775.53" stroke="#4a4a4a" stroke-width="1" />
<text x="1484.8" y="783.13" font-size="18.8" fill="#222" text-anchor="end" >-50</text>
<line x1="1487.2" y1="793.77" x2="1494.8" y2="793.77" stroke="#4a4a4a" stroke-width="1" />
<text x="1484.8" y="801.37" font-size="18.8" fill="#222" text-anchor="end" >-100</text>
<line x1="1487.2" y1="812" x2="1494.8" y2="812" stroke="#4a4a4a" stroke-width="1" />
<text transform="translate(1438.6 749.5) rotate(-90)" font-size="25" fill="#222" text-anchor="middle" >Data value</text>
</g>
<!-- panel_b -->
<g>
<text x="-1" y="851" font-size="32" fill="#111" font-weight="bold" >b</text>
<rect x="92.4" y="891.3" width="27.5" height="13.1" fill="#0a0a0c" />
<rect x="92.9" y="909" width="26.5" height="12.1" fill="#d2d2d4" stroke="#111" stroke-width="1" />
<text x="125.6" y="904.6" font-size="21.5" fill="#111" >UOK 262</text>
<text x="125.6" y="923.2" font-size="21.5" fill="#111" >UOK 262pFH</text>
<line x1="83.7" y1="913.8" x2="83.7" y2="1087.5" stroke="#333" stroke-width="1" />
<line x1="73" y1="913.8" x2="83.7" y2="913.8" stroke="#333" stroke-width="1" />
<text x="68.2" y="923.5" font-size="20" fill="#111" text-anchor="end" >1.5</text>
<line x1="73" y1="948.32" x2="83.7" y2="948.32" stroke="#333" stroke-width="1" />
<text x="68.2" y="958.02" font-size="20" fill="#111" text-anchor="end" >1.3</text>
<line x1="73" y1="982.84" x2="83.7" y2="982.84" stroke="#333" stroke-width="1" />
<text x="68.2" y="992.54" font-size="20" fill="#111" text-anchor="end" >1.1</text>
<line x1="73" y1="1017.36" x2="83.7" y2="1017.36" stroke="#333" stroke-width="1" />
<text x="68.2" y="1027.06" font-size="20" fill="#111" text-anchor="end" >0.9</text>
<line x1="73" y1="1051.88" x2="83.7" y2="1051.88" stroke="#333" stroke-width="1" />
<text x="68.2" y="1061.58" font-size="20" fill="#111" text-anchor="end" >0.7</text>
<line x1="73" y1="1086.4" x2="93.3" y2="1086.4" stroke="#333" stroke-width="1" />
<text x="68.2" y="1096.1" font-size="20" fill="#111" text-anchor="end" >0.5</text>
<line x1="83.7" y1="1113.4" x2="83.7" y2="1287.2" stroke="#333" stroke-width="1" />
<line x1="73" y1="1114.4" x2="93.3" y2="1114.4" stroke="#333" stroke-width="1" />
<text x="68.2" y="1124.1" font-size="20" fill="#111" text-anchor="end" >0.20</text>
<line x1="73" y1="1157.6" x2="83.7" y2="1157.6" stroke="#333" stroke-width="1" />
<text x="68.2" y="1167.3" font-size="20" fill="#111" text-anchor="end" >0.15</text>
<line x1="73" y1="1200.8" x2="83.7" y2="1200.8" stroke="#333" stroke-width="1" />
<text x="68.2" y="1210.5" font-size="20" fill="#111" text-anchor="end" >0.10</text>
<line x1="73" y1="1244" x2="83.7" y2="1244" stroke="#333" stroke-width="1" />
<text x="68.2" y="1253.7" font-size="20" fill="#111" text-anchor="end" >0.05</text>
<text x="68.2" y="1296.9" font-size="20" fill="#111" text-anchor="end" >0</text>
<rect x="106.8" y="1000" width="31.9" height="86.5" fill="#0a0a0c" />
<rect x="106.8" y="1114.4" width="31.9" height="172.8" fill="#0a0a0c" />
<line x1="122.8" y1="995.5" x2="122.8" y2="1000" stroke="#333" stroke-width="1.2" />
<line x1="114.6" y1="995.5" x2="131" y2="995.5" stroke="#333" stroke-width="1.2" />
<rect x="231.1" y="1000" width="31.9" height="86.5" fill="#0a0a0c" />
<rect x="231.1" y="1114.4" width="31.9" height="172.8" fill="#0a0a0c" />
<line x1="247.1" y1="995.5" x2="247.1" y2="1000" stroke="#333" stroke-width="1.2" />
<line x1="238.9" y1="995.5" x2="255.3" y2="995.5" stroke="#333" stroke-width="1.2" />
<rect x="153.6" y="1283.4" width="31.2" height="3.8" fill="#e4e4e4" stroke="#222" stroke-width="1" />
<line x1="294.3" y1="1152.4" x2="294.3" y2="1165" stroke="#333" stroke-width="1.2" />
<line x1="286.1" y1="1152.4" x2="301.5" y2="1152.4" stroke="#333" stroke-width="1.2" />
<rect x="278.8" y="1165.5" width="30.6" height="121.7" fill="#d2d2d4" stroke="#222" stroke-width="1.1" />
<line x1="73" y1="1287.2" x2="334.1" y2="1287.2" stroke="#333" stroke-width="1.2" />
<line x1="145.8" y1="1287.2" x2="145.8" y2="1297.5" stroke="#333" stroke-width="1.2" />
<line x1="270.4" y1="1287.2" x2="270.4" y2="1297.5" stroke="#333" stroke-width="1.2" />
<path d="M127.7 990.4V983.9H180.2V990.4" fill="none" stroke="#777" stroke-width="1.2" />
<path d="M249 989.7V983.1H298.4V989.7" fill="none" stroke="#777" stroke-width="1.2" />
<text x="156.2" y="985.3" font-size="19.5" fill="#111" text-anchor="middle" >***</text>
<text x="276.7" y="985.3" font-size="19.5" fill="#111" text-anchor="middle" >****</text>
<text transform="translate(166 1315.5) rotate(-45)" font-size="22" fill="#111" text-anchor="end" font-style="italic" >VIM</text>
<text transform="translate(295.5 1315) rotate(-45)" font-size="22" fill="#111" text-anchor="end" font-style="italic" >CDH1</text>
<text transform="translate(20.3 1093.5) rotate(-90)" font-size="21.4" fill="#111" text-anchor="middle" >mRNA (normalised to UOK262)</text>
</g>
<!-- panel_c -->
<g>
<defs><filter id="bl1" filterUnits="userSpaceOnUse" x="440" y="925" width="110" height="400"><feGaussianBlur stdDeviation="0.9"/></filter><filter id="bl2" filterUnits="userSpaceOnUse" x="440" y="925" width="110" height="400"><feGaussianBlur stdDeviation="1.4"/></filter><linearGradient id="gbox1" x1="0" y1="0" x2="0" y2="1"><stop offset="0" stop-color="#d4d4d4"/><stop offset="0.5" stop-color="#dcdcdc"/><stop offset="1" stop-color="#d9d9d9"/></linearGradient></defs>
<text x="363.2" y="851" font-size="32" fill="#111" font-weight="bold" >c</text>
<text transform="translate(465.5 928.5) rotate(-45)" font-size="21.5" fill="#111" >UOK 262</text>
<text transform="translate(510 928.5) rotate(-45)" font-size="21.5" fill="#111" >UOK 262pFH</text>
<rect x="446.9" y="933.7" width="95" height="67.8" fill="url(#gbox1)" />
<rect x="446.9" y="1007.4" width="95" height="67.8" fill="#fff" />
<rect x="446.9" y="1080.9" width="95" height="67.5" fill="#fff" />
<rect x="446.9" y="1174.3" width="95" height="67.5" fill="#f3f3f5" />
<rect x="446.9" y="1246.6" width="95" height="68.9" fill="#fff" />
<rect x="493.6" y="934" width="6.5" height="67" fill="#e6e6e6" filter="url(#bl2)" opacity="0.9"/>
<path d="M451.43 963.3 L491.67 965.55" fill="none" stroke="#727272" stroke-width="2.8" filter="url(#bl2)" stroke-linecap="round"/>
<path d="M501.97 965.23 L540.6 964.43" fill="none" stroke="#7c7c7c" stroke-width="2.6" filter="url(#bl2)" stroke-linecap="round"/>
<path d="M451.75 1045.39 L488.77 1047.32" fill="none" stroke="#080808" stroke-width="4.2" filter="url(#bl1)" stroke-linecap="round"/>
<path d="M453.04 1107.34 L490.06 1109.44" fill="none" stroke="#050505" stroke-width="9.5" filter="url(#bl1)" stroke-linecap="round"/>
<path d="M499.72 1108.63 L535.77 1108.31" fill="none" stroke="#050505" stroke-width="10.5" filter="url(#bl1)" stroke-linecap="round"/>
<path d="M500.04 1208.75 L536.74 1209.07" fill="none" stroke="#6a6a6a" stroke-width="1.8" filter="url(#bl1)" stroke-linecap="round"/>
<path d="M451.75 1206.18 L488.77 1206.5" fill="none" stroke="#d5d5d8" stroke-width="1.6" filter="url(#bl1)"/>
<path d="M451.75 1220.66 L488.77 1220.99" fill="none" stroke="#dcdcdf" stroke-width="1.6" filter="url(#bl1)"/>
<path d="M499.24 1220.99 L536.74 1221.31" fill="none" stroke="#d4d4d7" stroke-width="1.6" filter="url(#bl1)"/>
<path d="M456.58 1285.69 L492.31 1286.66" fill="none" stroke="#050505" stroke-width="7" filter="url(#bl1)" stroke-linecap="round"/>
<path d="M503.26 1287.3 L536.74 1286.98" fill="none" stroke="#050505" stroke-width="8" filter="url(#bl1)" stroke-linecap="round"/>
<rect x="446.9" y="933.7" width="95" height="67.8" fill="none" stroke="#0a0a0a" stroke-width="1.7" />
<rect x="446.9" y="1007.4" width="95" height="67.8" fill="none" stroke="#0a0a0a" stroke-width="1.7" />
<rect x="446.9" y="1080.9" width="95" height="67.5" fill="none" stroke="#0a0a0a" stroke-width="1.7" />
<rect x="446.9" y="1174.3" width="95" height="67.5" fill="none" stroke="#0a0a0a" stroke-width="1.7" />
<rect x="446.9" y="1246.6" width="95" height="68.9" fill="none" stroke="#0a0a0a" stroke-width="1.7" />
<text x="439.3" y="971.6" font-size="18.4" fill="#111" text-anchor="end" >110 kDa</text>
<text x="440.3" y="1040.3" font-size="20.4" fill="#111" text-anchor="end" >60kDa</text>
<text x="442.3" y="1105.4" font-size="20.2" fill="#111" text-anchor="end" >80 kDa</text>
<text x="442.3" y="1209.2" font-size="20.2" fill="#111" text-anchor="end" >50 kDa</text>
<text x="442.3" y="1278.1" font-size="20.2" fill="#111" text-anchor="end" >80 kDa</text>
<line x1="440.5" y1="966.8" x2="446.5" y2="966.8" stroke="#222" stroke-width="1.3" />
<line x1="442.5" y1="1035.2" x2="446.5" y2="1035.2" stroke="#222" stroke-width="1.3" />
<line x1="444" y1="1099.8" x2="446.5" y2="1099.8" stroke="#222" stroke-width="1.3" />
<line x1="444" y1="1203.6" x2="446.5" y2="1203.6" stroke="#222" stroke-width="1.3" />
<line x1="444" y1="1272.5" x2="446.5" y2="1272.5" stroke="#222" stroke-width="1.3" />
<text x="544.6" y="970.5" font-size="20.4" fill="#111" >E-Cadherin</text>
<text x="544.2" y="1046.9" font-size="20.4" fill="#111" >Vimentin</text>
<text x="544.6" y="1119" font-size="20.4" fill="#111" >Calnexin</text>
<text x="544.6" y="1212" font-size="20.4" fill="#111" >FH-V5</text>
<text x="544.6" y="1282.4" font-size="20.4" fill="#111" >Calnexin</text>
</g>
<!-- panel_d -->
<g>
<defs><filter id="dblur05" x="-5%" y="-5%" width="110%" height="110%"><feGaussianBlur stdDeviation="0.45"/></filter><filter id="dblur1" x="-10%" y="-10%" width="120%" height="120%"><feGaussianBlur stdDeviation="1"/></filter><filter id="gbright" x="0" y="0" width="100%" height="100%" color-interpolation-filters="sRGB"><feComponentTransfer><feFuncR type="linear" slope="1.5"/><feFuncG type="linear" slope="1.3"/><feFuncB type="linear" slope="1.2"/></feComponentTransfer></filter><filter id="dblur05b" x="-10%" y="-10%" width="120%" height="120%"><feGaussianBlur stdDeviation="0.7"/></filter><filter id="dblur2" x="-10%" y="-10%" width="120%" height="120%"><feGaussianBlur stdDeviation="1.6"/></filter><filter id="dblur3" x="-10%" y="-10%" width="120%" height="120%"><feGaussianBlur stdDeviation="3"/></filter><filter id="dblur6" x="-10%" y="-10%" width="120%" height="120%"><feGaussianBlur stdDeviation="6"/></filter><filter id="fib" x="-10%" y="-10%" width="120%" height="120%" color-interpolation-filters="sRGB"><feGaussianBlur in="SourceAlpha" stdDeviation="3" result="a"/><feTurbulence type="fractalNoise" baseFrequency="0.03 0.1" numOctaves="4" seed="7" result="n"/><feColorMatrix in="n" type="matrix" values="0 0.45 0 0 -0.14  0 1.9 0 0 -0.58  0 0.5 0 0 -0.16  0 2.8 0 0 -0.7" result="g"/><feComposite in="g" in2="a" operator="in"/></filter><filter id="fib2" x="-10%" y="-10%" width="120%" height="120%" color-interpolation-filters="sRGB"><feGaussianBlur in="SourceAlpha" stdDeviation="3" result="a"/><feTurbulence type="fractalNoise" baseFrequency="0.05 0.07" numOctaves="3" seed="21" result="n"/><feColorMatrix in="n" type="matrix" values="0 0.3 0 0 -0.08  0 1.5 0 0 -0.45  0 0.35 0 0 -0.1  0 2.4 0 0 -0.7" result="g"/><feComposite in="g" in2="a" operator="in"/></filter><filter id="nucf" x="-5%" y="-5%" width="110%" height="110%" color-interpolation-filters="sRGB"><feGaussianBlur in="SourceGraphic" stdDeviation="1.1" result="b"/><feTurbulence type="fractalNoise" baseFrequency="0.11" numOctaves="3" seed="4" result="t"/><feColorMatrix in="t" type="matrix" values="0 0 0 0 0  0 0 0 0 0  0 0 0 0 0  1.6 0 0 0 -0.55" result="ta"/><feFlood flood-color="#05082e" result="fl"/><feComposite in="fl" in2="ta" operator="in" result="sh"/><feComposite in="sh" in2="b" operator="in" result="sh2"/><feMerge><feMergeNode in="b"/><feMergeNode in="sh2"/></feMerge></filter><clipPath id="imgclip"><rect x="0" y="0" width="248.9" height="248.9"/></clipPath><g id="grn"><rect x="0" y="0" width="248.9" height="248.9" fill="#020d05"/><g transform="rotate(-32 124 124)" opacity="0.72"><g filter="url(#fib)"><g transform="rotate(32 124 124)" fill="#fff"><path d="M0 49.27 L25.65 29.1 L64.55 13.26 L104.89 4.61 L133.7 1.73 L127.94 24.78 L102.01 43.51 L81.84 63.68 L61.66 78.09 L32.85 80.97 L0 75.21Z"/><path d="M81.84 101.14 L93.36 75.21 L109.21 56.48 L133.7 46.39 L159.64 49.27 L155.31 82.41 L140.91 111.23 L126.5 132.84 L112.09 144.36 L90.48 150.13 L70.31 147.25 L58.78 132.84 L70.31 118.43Z"/><path d="M181.25 0.29 L248.96 0.29 L248.96 98.26 L220.15 95.38 L205.74 80.97 L181.25 80.97 L155.31 95.38 L156.76 63.68 L181.25 36.31Z"/><path d="M0 78.09 L32.85 80.97 L70.31 80.97 L81.84 101.14 L70.31 118.43 L50.14 132.84 L18.44 125.64 L0 118.43Z"/><path d="M176.93 104.02 L198.54 95.38 L248.96 101.14 L248.96 147.25 L205.74 141.48 L184.13 132.84Z"/><path d="M0 140.04 L25.65 135.72 L58.78 135.72 L64.55 161.65 L51.58 178.94 L18.44 180.38 L0 173.18Z"/><path d="M70.31 161.65 L90.48 150.13 L133.7 141.48 L205.74 138.6 L205.74 150.13 L174.04 161.65 L176.93 183.27 L169.72 197.67 L133.7 204.88 L90.48 202 L64.55 190.47Z"/><path d="M208.62 144.36 L248.96 144.36 L248.96 204.88 L227.35 197.67 L214.39 176.06Z"/><path d="M0 178.94 L50.14 180.38 L51.58 219.28 L90.48 204.88 L169.72 199.11 L212.95 193.35 L248.96 207.76 L248.96 248.1 L0 248.1Z"/><path d="M0 118.43 L18.44 125.64 L25.65 135.72 L0 140.04Z"/></g></g></g><g transform="rotate(50 124 124)" opacity="0.8"><g filter="url(#fib2)"><g transform="rotate(-50 124 124)" fill="#fff"><path d="M48.06 18.32 L68.87 9.31 L96.62 3.06 L129.5 0.98 L129.5 28.04 L103.56 32.2 L86.21 37.75 L75.81 33.59 L68.87 23.18Z" fill-opacity="0.8"/><path d="M0.89 68.27 L27.25 68.27 L55 68.27 L82.74 59.25 L86.21 68.27 L68.87 82.14 L48.06 92.55 L27.25 96.02 L0.89 89.08Z" fill-opacity="0.45"/><path d="M0.89 93.94 L13.37 96.02 L22.39 102.96 L20.31 113.36 L9.91 118.22 L0.89 109.89Z" fill-opacity="1"/><path d="M0.89 116.83 L27.25 109.89 L61.93 116.83 L61.93 128.9 L0.89 128.9Z" fill-opacity="0.35"/><path d="M68.87 113.36 L86.21 109.89 L129.5 120.3 L129.5 128.9 L65.4 128.9Z" fill-opacity="0.5"/><path d="M103.56 61.33 L129.5 50.93 L129.5 64.8 L110.49 75.21 L96.62 89.08 L89.68 89.08Z" fill-opacity="0.9"/><path d="M180.55 0.98 L223.56 0.98 L227.72 12.77 L216.62 21.1 L206.21 33.59 L188.87 37.75 L181.93 32.2 L180.55 16.24Z" fill-opacity="0.9"/><path d="M119.5 58.56 L147.25 43.99 L175 32.2 L181.93 28.73 L181.93 40.52 L161.12 54.4 L140.31 64.8 L119.5 68.27Z" fill-opacity="0.6"/><path d="M161.12 68.27 L181.93 61.33 L194.42 59.95 L220.09 53.01 L249.5 43.99 L249.5 48.85 L223.56 57.86 L215.23 68.27 L209.68 78.68 L208.99 92.55 L202.74 82.14 L181.93 84.23 L177.08 96.02 L152.8 94.63 L155.57 78.68Z" fill-opacity="0.7"/><path d="M240.9 101.57 L249.5 100.18 L249.5 118.22 L242.98 116.83 L238.82 109.89Z" fill-opacity="0.9"/><path d="M119.5 0.98 L131.99 0.98 L126.44 16.24 L119.5 19.71Z" fill-opacity="0.5"/><path d="M68.87 118.9 L129.5 118.9 L129.5 143.18 L89.68 148.04 L68.87 139.71Z" fill-opacity="0.55"/><path d="M0.89 118.9 L41.12 118.9 L44.59 136.24 L20.31 146.65 L0.89 143.18Z" fill-opacity="0.4"/><path d="M0.89 160.52 L20.31 173.01 L49.45 177.86 L55 184.8 L27.25 188.27 L0.89 192.43Z" fill-opacity="0.7"/><path d="M0.89 192.43 L27.25 195.21 L51.53 198.68 L20.31 212.55 L0.89 222.96Z" fill-opacity="0.35"/><path d="M52.22 198.68 L65.4 198.68 L68.87 209.08 L82.74 204.23 L75.81 217.41 L55 219.49 L49.45 214.63Z" fill-opacity="0.9"/><path d="M96.62 200.76 L129.5 196.59 L129.5 204.23 L96.62 206.31Z" fill-opacity="0.9"/><path d="M79.28 216.02 L129.5 211.86 L129.5 219.49 L82.74 222.96Z" fill-opacity="1"/><path d="M0.89 228.51 L58.46 220.87 L61.93 227.12 L58.46 236.83 L27.25 236.83 L0.89 240.99Z" fill-opacity="0.7"/><path d="M61.93 222.96 L96.62 222.96 L95.23 229.89 L65.4 233.36Z" fill-opacity="0.5"/><path d="M140.31 122.37 L188.87 122.37 L188.87 136.24 L140.31 136.24Z" fill-opacity="0.3"/><path d="M206.21 139.71 L223.56 146.65 L222.17 167.46 L227.02 184.8 L249.5 191.74 L249.5 202.14 L223.56 195.21 L209.68 181.33 L202.74 167.46Z" fill-opacity="0.5"/><path d="M119.5 198.68 L154.19 204.23 L195.81 195.21 L209.68 191.74 L195.81 205.61 L161.12 216.02 L119.5 219.49Z" fill-opacity="0.8"/><path d="M181.93 219.49 L209.68 214.63 L223.56 219.49 L223.56 248.9 L188.87 248.9 L181.93 233.36Z" fill-opacity="0.6"/><path d="M233.96 204.23 L249.5 204.23 L249.5 211.86 L237.43 211.16Z" fill-opacity="0.9"/><path d="M223.56 226.42 L249.5 221.57 L249.5 248.9 L209.68 248.9Z" fill-opacity="0.5"/></g></g></g><g fill="#020d03" opacity="0.9" filter="url(#dblur3)"><path d="M71.95 40.97C72.54 44.07 73.8 47.01 73.08 50.19C72.36 53.36 70.41 57.07 67.64 60.01C64.86 62.95 60.66 65.78 56.42 67.84C52.18 69.89 46.82 71.91 42.2 72.33C37.57 72.76 32.72 71.54 28.67 70.38C24.63 69.22 20.76 67.59 17.92 65.38C15.09 63.17 12.18 60.19 11.67 57.12C11.17 54.05 13.33 50.18 14.9 46.96C16.47 43.73 18.39 40.69 21.07 37.77C23.76 34.85 27 31.58 31 29.44C35.01 27.31 40.27 25.74 45.1 24.97C49.93 24.19 55.9 23.68 59.97 24.78C64.05 25.89 67.57 28.92 69.57 31.61C71.56 34.31 71.37 37.88 71.95 40.97Z"/><path d="M230.18 28.6C231.63 30.31 233.65 32.17 233.7 34.61C233.75 37.04 232.34 40.41 230.48 43.21C228.62 46.01 225.65 49.19 222.55 51.39C219.46 53.6 215.28 55.47 211.9 56.45C208.52 57.43 205.38 57.11 202.26 57.28C199.14 57.45 195.8 58.03 193.16 57.46C190.52 56.89 187.67 55.69 186.43 53.86C185.18 52.03 185.3 49.11 185.67 46.48C186.05 43.85 186.83 40.8 188.67 38.11C190.51 35.41 193.67 32.54 196.69 30.32C199.71 28.11 203.35 26.22 206.79 24.81C210.23 23.41 214.28 21.97 217.32 21.89C220.35 21.81 222.86 23.23 225.01 24.34C227.15 25.46 228.73 26.89 230.18 28.6Z"/><path d="M251.65 70.89C251.79 73.9 251.45 77.45 250.23 80.14C249.01 82.83 246.59 85.1 244.35 87.03C242.11 88.95 239.52 90.98 236.81 91.7C234.09 92.42 230.62 92.35 228.06 91.34C225.5 90.33 223.46 87.64 221.47 85.64C219.48 83.64 217.52 81.78 216.13 79.32C214.73 76.86 213.4 73.86 213.1 70.89C212.79 67.91 213.23 64.41 214.29 61.49C215.34 58.58 217.11 55.12 219.43 53.38C221.75 51.64 225.38 51.21 228.19 51.05C231.01 50.89 233.66 51.74 236.31 52.41C238.96 53.08 241.92 53.47 244.1 55.08C246.29 56.68 248.17 59.42 249.42 62.05C250.68 64.69 251.52 67.87 251.65 70.89Z"/><path d="M137.26 79.27C139.27 81.85 140.86 85.25 141.23 88.69C141.61 92.12 140.82 96.16 139.52 99.88C138.22 103.59 136.34 107.92 133.44 110.96C130.54 113.99 126.06 116.34 122.1 118.08C118.15 119.82 113.8 121.03 109.71 121.38C105.62 121.74 100.65 121.85 97.54 120.23C94.43 118.6 92.5 114.72 91.05 111.63C89.59 108.54 89.08 105.14 88.81 101.69C88.54 98.25 88.3 94.54 89.43 90.96C90.55 87.38 92.84 83.56 95.56 80.2C98.28 76.84 101.85 72.79 105.76 70.81C109.66 68.83 115.08 67.9 118.98 68.31C122.88 68.71 126.11 71.4 129.16 73.23C132.2 75.05 135.25 76.69 137.26 79.27Z"/><path d="M72.4 107.65C72.58 110.25 70.98 113.32 69.4 115.95C67.83 118.58 65.7 121.23 62.95 123.43C60.2 125.64 56.56 127.4 52.89 129.18C49.22 130.96 45.2 133.11 40.94 134.1C36.68 135.1 30.99 135.87 27.33 135.16C23.67 134.46 21.01 131.9 18.97 129.87C16.92 127.85 15.54 125.47 15.07 123.02C14.6 120.56 14.87 117.72 16.13 115.15C17.4 112.57 19.98 109.96 22.65 107.56C25.32 105.17 28.44 102.44 32.15 100.78C35.85 99.12 40.72 98.09 44.87 97.6C49.01 97.12 53.1 97.39 57.01 97.86C60.92 98.32 65.76 98.74 68.33 100.38C70.89 102.01 72.22 105.06 72.4 107.65Z"/><path d="M228.58 111.26C229.29 113.84 228.78 117.08 227.97 119.78C227.16 122.48 225.58 125.15 223.7 127.46C221.82 129.77 219.44 132.2 216.7 133.65C213.96 135.09 210.52 135.72 207.26 136.14C204 136.56 200.21 137.01 197.15 136.17C194.08 135.34 190.59 133.4 188.89 131.11C187.19 128.81 187.2 125.21 186.95 122.41C186.7 119.62 186.77 116.97 187.4 114.33C188.03 111.69 189.04 108.92 190.74 106.56C192.43 104.2 194.84 101.92 197.57 100.18C200.3 98.43 203.87 96.38 207.09 96.1C210.31 95.81 214.11 97.1 216.88 98.46C219.64 99.82 221.73 102.13 223.68 104.26C225.63 106.39 227.87 108.67 228.58 111.26Z"/><path d="M252.95 131.4C253.06 133.39 253.2 135.77 252.28 137.52C251.36 139.26 249.29 140.91 247.43 141.86C245.58 142.82 243.22 142.94 241.16 143.23C239.1 143.53 237.07 143.9 235.06 143.63C233.05 143.36 230.93 142.64 229.11 141.61C227.29 140.58 225.32 139.17 224.15 137.47C222.99 135.77 221.95 133.35 222.12 131.4C222.29 129.45 223.95 127.41 225.18 125.77C226.4 124.14 227.85 122.78 229.47 121.6C231.1 120.41 232.96 119.14 234.94 118.69C236.91 118.23 239.26 118.5 241.33 118.88C243.41 119.26 245.68 119.85 247.4 120.97C249.12 122.08 250.71 123.82 251.64 125.56C252.56 127.29 252.85 129.4 252.95 131.4Z"/><path d="M64.15 155.89C64.44 158.35 63.77 161.32 62.36 163.59C60.94 165.87 58.32 168.03 55.67 169.52C53.02 171.01 49.56 172.31 46.45 172.55C43.34 172.78 39.97 171.64 37.02 170.91C34.07 170.17 31.47 169.37 28.75 168.14C26.03 166.92 22.45 165.61 20.7 163.57C18.94 161.53 18.2 158.45 18.21 155.89C18.22 153.34 19.17 150.44 20.76 148.23C22.34 146.03 25.03 143.94 27.72 142.65C30.41 141.35 33.8 140.97 36.9 140.46C40 139.95 43.29 139.22 46.35 139.59C49.41 139.95 52.88 141.12 55.26 142.66C57.64 144.2 59.14 146.62 60.63 148.83C62.11 151.03 63.86 153.43 64.15 155.89Z"/><path d="M119.45 165.65C120.42 167.97 120.75 171.03 119.79 173.66C118.83 176.3 115.98 178.97 113.7 181.46C111.42 183.96 109.2 186.58 106.11 188.63C103.02 190.68 98.95 192.83 95.17 193.76C91.39 194.69 86.96 194.71 83.45 194.19C79.95 193.68 76.12 192.51 74.11 190.67C72.11 188.82 71.72 185.67 71.41 183.14C71.1 180.61 71.76 178.14 72.26 175.49C72.76 172.84 72.65 169.84 74.43 167.25C76.21 164.66 79.62 161.86 82.96 159.94C86.29 158.02 90.61 156.5 94.44 155.74C98.27 154.98 102.7 154.71 105.96 155.38C109.22 156.05 111.74 158.03 113.99 159.74C116.24 161.45 118.49 163.33 119.45 165.65Z"/><path d="M167.04 186.15C167.3 188.21 166.02 190.66 164.56 192.58C163.11 194.51 160.8 196.27 158.31 197.69C155.82 199.11 152.76 200.61 149.63 201.1C146.5 201.6 142.71 201.21 139.54 200.65C136.38 200.09 133.03 199.12 130.64 197.74C128.26 196.35 126.24 194.27 125.23 192.34C124.21 190.41 124.64 188.24 124.55 186.15C124.45 184.05 123.81 181.84 124.66 179.78C125.52 177.71 127.23 175.2 129.68 173.75C132.13 172.3 136.04 171.46 139.35 171.09C142.66 170.71 146.51 170.78 149.53 171.49C152.54 172.2 155.18 173.89 157.43 175.35C159.67 176.8 161.38 178.42 162.98 180.22C164.58 182.02 166.78 184.09 167.04 186.15Z"/><path d="M253.47 167.42C253.71 170.11 253.34 173.29 252.6 175.99C251.86 178.68 250.66 181.79 249.03 183.6C247.4 185.41 244.89 186.66 242.84 186.83C240.79 187 238.65 185.5 236.73 184.63C234.81 183.77 232.93 183.13 231.31 181.64C229.7 180.15 227.99 178.05 227.05 175.68C226.12 173.31 225.79 170.23 225.7 167.42C225.62 164.61 225.71 161.35 226.55 158.82C227.4 156.29 229.11 153.95 230.76 152.24C232.41 150.54 234.45 149.3 236.46 148.59C238.47 147.89 240.93 147.23 242.84 148C244.75 148.76 246.52 151.21 247.9 153.17C249.28 155.14 250.22 157.43 251.15 159.81C252.08 162.18 253.23 164.72 253.47 167.42Z"/><path d="M11.75 216.4C11.74 218.33 11.7 220.32 11.27 222.15C10.83 223.97 10.12 226.08 9.13 227.35C8.15 228.63 6.66 229.42 5.35 229.8C4.05 230.18 2.5 230.25 1.3 229.64C0.1 229.02 -0.99 227.45 -1.85 226.11C-2.7 224.76 -3.2 223.19 -3.84 221.57C-4.48 219.96 -5.46 218.28 -5.67 216.4C-5.88 214.53 -5.65 212.12 -5.11 210.32C-4.56 208.53 -3.48 206.82 -2.41 205.64C-1.34 204.45 0.04 203.44 1.3 203.19C2.57 202.93 3.96 203.59 5.18 204.11C6.41 204.64 7.63 205.27 8.66 206.35C9.68 207.44 10.81 208.94 11.32 210.62C11.84 212.29 11.76 214.48 11.75 216.4Z"/><path d="M152.89 239.32C152.87 241.12 152.73 243.25 150.79 244.53C148.86 245.81 144.93 246.79 141.27 247C137.61 247.21 132.82 246.3 128.86 245.79C124.89 245.29 121.18 244.86 117.48 243.95C113.78 243.04 109.8 241.81 106.65 240.33C103.5 238.86 100.48 236.95 98.58 235.09C96.68 233.23 94.84 230.84 95.25 229.16C95.67 227.47 98.59 226.04 101.06 224.98C103.53 223.92 106.77 223.28 110.08 222.78C113.39 222.28 117.1 221.69 120.91 221.98C124.71 222.27 129.18 223.44 132.9 224.54C136.62 225.64 140.23 227.03 143.22 228.57C146.22 230.11 149.26 231.96 150.87 233.75C152.48 235.55 152.9 237.52 152.89 239.32Z"/><path d="M182.87 241.62C183.16 243.48 182.74 245.68 181.89 247.54C181.03 249.41 179.64 251.57 177.76 252.82C175.88 254.07 172.96 254.91 170.59 255.04C168.21 255.17 165.74 254.17 163.5 253.59C161.27 253.01 159.03 252.58 157.17 251.54C155.31 250.5 153.39 248.99 152.34 247.33C151.29 245.68 150.96 243.55 150.88 241.62C150.79 239.68 150.88 237.45 151.83 235.7C152.78 233.95 154.71 232.31 156.6 231.11C158.49 229.9 160.83 228.96 163.17 228.46C165.51 227.96 168.4 227.55 170.61 228.1C172.82 228.66 174.82 230.42 176.41 231.8C178 233.17 179.09 234.73 180.16 236.37C181.24 238 182.59 239.75 182.87 241.62Z"/><path d="M50.92 246.66C50.94 247.53 49.24 248.56 47.48 249.27C45.71 249.97 42.78 250.43 40.35 250.89C37.91 251.36 35.56 251.84 32.85 252.07C30.13 252.29 27.03 252.34 24.07 252.24C21.11 252.14 17.7 251.94 15.09 251.47C12.49 251 9.59 250.23 8.44 249.42C7.29 248.62 7.86 247.53 8.2 246.66C8.53 245.78 9.2 244.94 10.45 244.17C11.7 243.41 13.43 242.57 15.71 242.07C17.99 241.57 21.25 241.34 24.13 241.16C27.02 240.98 30.17 240.86 33.04 241.01C35.91 241.16 38.95 241.56 41.33 242.07C43.72 242.58 45.73 243.31 47.33 244.07C48.93 244.84 50.89 245.79 50.92 246.66Z"/><path d="M235.4 243.06C235.45 244.04 234.87 245.15 233.9 246.04C232.93 246.92 231.34 247.83 229.57 248.37C227.81 248.92 225.43 249.11 223.31 249.3C221.2 249.48 218.93 249.67 216.89 249.48C214.85 249.3 212.58 248.81 211.06 248.19C209.54 247.56 208.73 246.59 207.79 245.74C206.85 244.88 205.7 244.01 205.43 243.06C205.15 242.11 205.3 240.93 206.14 240.02C206.99 239.12 208.74 238.22 210.51 237.62C212.28 237.01 214.65 236.47 216.76 236.38C218.87 236.29 221.23 236.75 223.18 237.08C225.14 237.41 226.74 237.84 228.48 238.35C230.23 238.86 232.5 239.35 233.65 240.13C234.8 240.92 235.36 242.07 235.4 243.06Z"/><ellipse cx="192.77" cy="89.62" rx="13.69" ry="8.64" transform="rotate(0 192.77 89.62)"/><ellipse cx="194.22" cy="180.38" rx="21.61" ry="11.53" transform="rotate(-10 194.22 180.38)"/><ellipse cx="78.95" cy="239.46" rx="18.73" ry="8.64" transform="rotate(0 78.95 239.46)"/><ellipse cx="166.84" cy="108.35" rx="21.61" ry="8.64" transform="rotate(-10 166.84 108.35)"/></g><g fill="none" stroke="#2fc944" stroke-linecap="round" stroke-linejoin="round" filter="url(#dblur2)"><path d="M0.89 46.77C2.97 45.38 8.98 41.22 13.37 38.44C17.77 35.67 22.62 32.31 27.25 30.12C31.87 27.92 36.5 26.53 41.12 25.26C45.75 23.99 50.37 23.18 55 22.49C59.62 21.79 66.56 21.33 68.87 21.1" stroke-width="6.18" opacity="0.34"/><path d="M68.87 21.79C71.18 21.1 78.12 19.13 82.74 17.63C87.37 16.13 91.99 14.05 96.62 12.77C101.24 11.5 105.01 10.92 110.49 10C115.97 9.07 126.33 7.69 129.5 7.22" stroke-width="11.5" opacity="0.29"/><path d="M68.87 23.18C69.91 24.91 74.19 30.12 75.11 33.59C76.04 37.05 76.04 39.94 74.42 43.99C72.8 48.04 68.64 54.28 65.4 57.86C62.16 61.45 56.73 64.22 55 65.5" stroke-width="4.47" opacity="0.13"/><path d="M34.19 92.55C36.5 91.39 43.43 87.58 48.06 85.61C52.68 83.65 56.73 81.91 61.93 80.76C67.14 79.6 76.39 79.02 79.28 78.68" stroke-width="6.75" opacity="0.17"/><path d="M20.31 107.12C22.62 105.85 30.14 101.34 34.19 99.49C38.23 97.64 42.86 96.6 44.59 96.02" stroke-width="9.6" opacity="0.23"/><path d="M86.21 100.18C87.37 98.33 90.26 93.24 93.15 89.08C96.04 84.92 100.09 79.25 103.56 75.21C107.02 71.16 109.64 68.27 113.96 64.8C118.29 61.33 126.91 56.13 129.5 54.4" stroke-width="11.5" opacity="0.38"/><path d="M0.89 120.3C4.12 119.72 13.61 117.18 20.31 116.83C27.02 116.48 37.65 117.99 41.12 118.22" stroke-width="5.8" opacity="0.15"/><path d="M119.5 54.4C121.81 53.47 128.75 50.7 133.37 48.85C138 47 142.62 45.15 147.25 43.3C151.87 41.45 156.5 39.6 161.12 37.75C165.75 35.9 171.53 33.7 175 32.2C178.46 30.69 180.78 29.31 181.93 28.73" stroke-width="9.6" opacity="0.29"/><path d="M184.01 41.91C183.9 43.07 182.74 46.53 183.32 48.85C183.9 51.16 185.63 53.93 187.48 55.78C189.33 57.63 193.26 59.25 194.42 59.95" stroke-width="5.8" opacity="0.3"/><path d="M194.42 59.95C196.96 59.02 204.83 56.25 209.68 54.4C214.54 52.55 218.93 50.58 223.56 48.85C228.18 47.11 233.11 45.15 237.43 43.99C241.75 42.83 247.49 42.26 249.5 41.91" stroke-width="6.75" opacity="0.27"/><path d="M222.17 58.56C224.13 57.4 229.41 53.24 233.96 51.62C238.52 50 246.91 49.31 249.5 48.85" stroke-width="5.8" opacity="0.27"/><path d="M204.83 82.14C205.52 83.53 208.76 87.81 208.99 90.47C209.22 93.13 209.57 96.25 206.21 98.1C202.86 99.95 191.76 100.99 188.87 101.57" stroke-width="5.8" opacity="0.29"/><path d="M213.15 89.08C216.04 88.97 224.43 89.89 230.49 88.39C236.55 86.88 246.33 81.45 249.5 80.06" stroke-width="5.8" opacity="0.23"/><path d="M158.35 59.95C157.88 62.49 157.08 69.2 155.57 75.21C154.07 81.22 151.53 90.24 149.33 96.02C147.13 101.8 145.05 105.27 142.39 109.89C139.73 114.52 134.88 121.45 133.37 123.77" stroke-width="4.47" opacity="0.15"/><path d="M216.62 128.9C218.35 126.89 223.56 119.42 227.02 116.83C230.49 114.24 235.7 113.94 237.43 113.36" stroke-width="6.75" opacity="0.23"/><path d="M188.87 19.71C189.45 21.45 192.34 27.11 192.34 30.12C192.34 33.12 189.45 36.48 188.87 37.75" stroke-width="5.8" opacity="0.27"/><path d="M89.68 156.36C93.15 155.09 103.86 150.35 110.49 148.73C117.13 147.11 126.33 146.99 129.5 146.65" stroke-width="5.42" opacity="0.23"/><path d="M57.77 195.21C58.46 193.47 60.08 188.27 61.93 184.8C63.78 181.33 65.98 177.86 68.87 174.4C71.76 170.93 75.81 167 79.28 163.99C82.74 160.98 87.95 157.63 89.68 156.36" stroke-width="5.42" opacity="0.23"/><path d="M129.5 173.01C127.49 174.4 121.75 177.63 117.43 181.33C113.11 185.03 108.18 191.39 103.56 195.21C98.93 199.02 91.99 202.72 89.68 204.23" stroke-width="4.85" opacity="0.19"/><path d="M0.89 163.99C4.12 165.72 12.45 171.97 20.31 174.4C28.17 176.82 43.43 177.86 48.06 178.56" stroke-width="9.6" opacity="0.27"/><path d="M0.89 188.27C5.28 188.04 18.23 187.81 27.25 186.88C36.27 185.96 50.37 183.41 55 182.72" stroke-width="9.6" opacity="0.27"/><path d="M0.89 225.04C4.12 222.72 12.45 215.21 20.31 211.16C28.17 207.12 43.43 202.49 48.06 200.76" stroke-width="4.47" opacity="0.17"/><path d="M60.55 248.9C60.31 246.89 58.35 240.46 59.16 236.83C59.97 233.2 62.63 229.43 65.4 227.12C68.18 224.81 74.07 223.65 75.81 222.96" stroke-width="5.42" opacity="0.23"/><path d="M96.62 227.12C96.85 228.74 96.85 233.2 98.01 236.83C99.16 240.46 102.63 246.89 103.56 248.9" stroke-width="4.47" opacity="0.15"/><path d="M131.29 141.1C133.95 141.79 141.12 144.1 147.25 145.26C153.38 146.42 161.7 148.04 168.06 148.04C174.42 148.04 179.62 146.65 185.4 145.26C191.18 143.87 197.54 142.6 202.74 139.71C207.95 136.82 213.15 131.04 216.62 127.92C220.09 124.8 222.4 122.14 223.56 120.98" stroke-width="13.4" opacity="0.36"/><path d="M249.5 145.95C247.49 146.3 241.06 146.53 237.43 148.04C233.8 149.54 230.03 151.74 227.72 154.97C225.41 158.21 223.79 163.07 223.56 167.46C223.32 171.85 224.6 177.86 226.33 181.33C228.06 184.8 230.1 186.77 233.96 188.27C237.82 189.77 246.91 190 249.5 190.35" stroke-width="8.65" opacity="0.32"/><path d="M119.5 200.76C121.81 200.99 127.59 201.22 133.37 202.14C139.15 203.07 147.25 206.08 154.19 206.31C161.12 206.54 168.06 205.03 175 203.53C181.93 202.03 190.03 199.14 195.81 197.29C201.59 195.44 207.37 193.24 209.68 192.43" stroke-width="11.5" opacity="0.3"/><path d="M119.5 216.02C122.97 215.79 133.37 215.09 140.31 214.63C147.25 214.17 157.65 213.47 161.12 213.24" stroke-width="11.5" opacity="0.3"/><path d="M161.12 222.96C163.43 222.03 170.37 219.02 175 217.41C179.62 215.79 183.09 213.71 188.87 213.24C194.65 212.78 204.48 213.59 209.68 214.63C214.88 215.67 218.35 218.68 220.09 219.49" stroke-width="8.65" opacity="0.27"/><path d="M133.37 248.9C135.11 246.89 140.31 240.46 143.78 236.83C147.25 233.2 150.72 229.66 154.19 227.12C157.65 224.57 162.86 222.49 164.59 221.57" stroke-width="7.7" opacity="0.3"/><path d="M181.93 222.96C182.16 224.69 182.51 229.89 183.32 233.36C184.13 236.83 186.21 242.03 186.79 243.77" stroke-width="10.55" opacity="0.3"/><path d="M202.74 248.9C205.06 246.89 211.42 240.23 216.62 236.83C221.82 233.43 228.48 230.82 233.96 228.51C239.44 226.19 246.91 223.88 249.5 222.96" stroke-width="7.7" opacity="0.27"/><path d="M154.19 200.76C156.5 199.6 163.43 196.36 168.06 193.82C172.68 191.28 178.46 187.58 181.93 185.5C185.4 183.41 187.71 182.03 188.87 181.33" stroke-width="4.47" opacity="0.19"/><path d="M202.74 185.5C204.48 184.22 210.26 179.95 213.15 177.86C216.04 175.78 218.93 173.82 220.09 173.01" stroke-width="4.47" opacity="0.19"/><path d="M119.5 134.86C120.66 133.93 124.12 131.62 126.44 129.31C128.75 126.99 132.22 122.37 133.37 120.98" stroke-width="4.47" opacity="0.15"/></g><g fill="none" stroke="#4be35c" stroke-linecap="round" stroke-linejoin="round" filter="url(#dblur05b)"><path d="M0.89 46.77C2.97 45.38 8.98 41.22 13.37 38.44C17.77 35.67 22.62 32.31 27.25 30.12C31.87 27.92 36.5 26.53 41.12 25.26C45.75 23.99 50.37 23.18 55 22.49C59.62 21.79 66.56 21.33 68.87 21.1" stroke-width="0.92" opacity="0.85"/><path d="M68.87 21.79C71.18 21.1 78.12 19.13 82.74 17.63C87.37 16.13 91.99 14.05 96.62 12.77C101.24 11.5 105.01 10.92 110.49 10C115.97 9.07 126.33 7.69 129.5 7.22" stroke-width="2.1" opacity="0.71"/><path d="M68.87 23.18C69.91 24.91 74.19 30.12 75.11 33.59C76.04 37.05 76.04 39.94 74.42 43.99C72.8 48.04 68.64 54.28 65.4 57.86C62.16 61.45 56.73 64.22 55 65.5" stroke-width="0.9" opacity="0.33"/><path d="M34.19 92.55C36.5 91.39 43.43 87.58 48.06 85.61C52.68 83.65 56.73 81.91 61.93 80.76C67.14 79.6 76.39 79.02 79.28 78.68" stroke-width="1.05" opacity="0.43"/><path d="M20.31 107.12C22.62 105.85 30.14 101.34 34.19 99.49C38.23 97.64 42.86 96.6 44.59 96.02" stroke-width="1.68" opacity="0.57"/><path d="M86.21 100.18C87.37 98.33 90.26 93.24 93.15 89.08C96.04 84.92 100.09 79.25 103.56 75.21C107.02 71.16 109.64 68.27 113.96 64.8C118.29 61.33 126.91 56.13 129.5 54.4" stroke-width="2.1" opacity="0.95"/><path d="M0.89 120.3C4.12 119.72 13.61 117.18 20.31 116.83C27.02 116.48 37.65 117.99 41.12 118.22" stroke-width="0.9" opacity="0.38"/><path d="M119.5 54.4C121.81 53.47 128.75 50.7 133.37 48.85C138 47 142.62 45.15 147.25 43.3C151.87 41.45 156.5 39.6 161.12 37.75C165.75 35.9 171.53 33.7 175 32.2C178.46 30.69 180.78 29.31 181.93 28.73" stroke-width="1.68" opacity="0.71"/><path d="M184.01 41.91C183.9 43.07 182.74 46.53 183.32 48.85C183.9 51.16 185.63 53.93 187.48 55.78C189.33 57.63 193.26 59.25 194.42 59.95" stroke-width="0.9" opacity="0.76"/><path d="M194.42 59.95C196.96 59.02 204.83 56.25 209.68 54.4C214.54 52.55 218.93 50.58 223.56 48.85C228.18 47.11 233.11 45.15 237.43 43.99C241.75 42.83 247.49 42.26 249.5 41.91" stroke-width="1.05" opacity="0.66"/><path d="M222.17 58.56C224.13 57.4 229.41 53.24 233.96 51.62C238.52 50 246.91 49.31 249.5 48.85" stroke-width="0.9" opacity="0.66"/><path d="M204.83 82.14C205.52 83.53 208.76 87.81 208.99 90.47C209.22 93.13 209.57 96.25 206.21 98.1C202.86 99.95 191.76 100.99 188.87 101.57" stroke-width="0.9" opacity="0.71"/><path d="M213.15 89.08C216.04 88.97 224.43 89.89 230.49 88.39C236.55 86.88 246.33 81.45 249.5 80.06" stroke-width="0.9" opacity="0.57"/><path d="M158.35 59.95C157.88 62.49 157.08 69.2 155.57 75.21C154.07 81.22 151.53 90.24 149.33 96.02C147.13 101.8 145.05 105.27 142.39 109.89C139.73 114.52 134.88 121.45 133.37 123.77" stroke-width="0.9" opacity="0.38"/><path d="M216.62 128.9C218.35 126.89 223.56 119.42 227.02 116.83C230.49 114.24 235.7 113.94 237.43 113.36" stroke-width="1.05" opacity="0.57"/><path d="M188.87 19.71C189.45 21.45 192.34 27.11 192.34 30.12C192.34 33.12 189.45 36.48 188.87 37.75" stroke-width="0.9" opacity="0.66"/><path d="M89.68 156.36C93.15 155.09 103.86 150.35 110.49 148.73C117.13 147.11 126.33 146.99 129.5 146.65" stroke-width="0.9" opacity="0.57"/><path d="M57.77 195.21C58.46 193.47 60.08 188.27 61.93 184.8C63.78 181.33 65.98 177.86 68.87 174.4C71.76 170.93 75.81 167 79.28 163.99C82.74 160.98 87.95 157.63 89.68 156.36" stroke-width="0.9" opacity="0.57"/><path d="M129.5 173.01C127.49 174.4 121.75 177.63 117.43 181.33C113.11 185.03 108.18 191.39 103.56 195.21C98.93 199.02 91.99 202.72 89.68 204.23" stroke-width="0.9" opacity="0.47"/><path d="M0.89 163.99C4.12 165.72 12.45 171.97 20.31 174.4C28.17 176.82 43.43 177.86 48.06 178.56" stroke-width="1.68" opacity="0.66"/><path d="M0.89 188.27C5.28 188.04 18.23 187.81 27.25 186.88C36.27 185.96 50.37 183.41 55 182.72" stroke-width="1.68" opacity="0.66"/><path d="M0.89 225.04C4.12 222.72 12.45 215.21 20.31 211.16C28.17 207.12 43.43 202.49 48.06 200.76" stroke-width="0.9" opacity="0.43"/><path d="M60.55 248.9C60.31 246.89 58.35 240.46 59.16 236.83C59.97 233.2 62.63 229.43 65.4 227.12C68.18 224.81 74.07 223.65 75.81 222.96" stroke-width="0.9" opacity="0.57"/><path d="M96.62 227.12C96.85 228.74 96.85 233.2 98.01 236.83C99.16 240.46 102.63 246.89 103.56 248.9" stroke-width="0.9" opacity="0.38"/><path d="M131.29 141.1C133.95 141.79 141.12 144.1 147.25 145.26C153.38 146.42 161.7 148.04 168.06 148.04C174.42 148.04 179.62 146.65 185.4 145.26C191.18 143.87 197.54 142.6 202.74 139.71C207.95 136.82 213.15 131.04 216.62 127.92C220.09 124.8 222.4 122.14 223.56 120.98" stroke-width="2.52" opacity="0.9"/><path d="M249.5 145.95C247.49 146.3 241.06 146.53 237.43 148.04C233.8 149.54 230.03 151.74 227.72 154.97C225.41 158.21 223.79 163.07 223.56 167.46C223.32 171.85 224.6 177.86 226.33 181.33C228.06 184.8 230.1 186.77 233.96 188.27C237.82 189.77 246.91 190 249.5 190.35" stroke-width="1.47" opacity="0.81"/><path d="M119.5 200.76C121.81 200.99 127.59 201.22 133.37 202.14C139.15 203.07 147.25 206.08 154.19 206.31C161.12 206.54 168.06 205.03 175 203.53C181.93 202.03 190.03 199.14 195.81 197.29C201.59 195.44 207.37 193.24 209.68 192.43" stroke-width="2.1" opacity="0.76"/><path d="M119.5 216.02C122.97 215.79 133.37 215.09 140.31 214.63C147.25 214.17 157.65 213.47 161.12 213.24" stroke-width="2.1" opacity="0.76"/><path d="M161.12 222.96C163.43 222.03 170.37 219.02 175 217.41C179.62 215.79 183.09 213.71 188.87 213.24C194.65 212.78 204.48 213.59 209.68 214.63C214.88 215.67 218.35 218.68 220.09 219.49" stroke-width="1.47" opacity="0.66"/><path d="M133.37 248.9C135.11 246.89 140.31 240.46 143.78 236.83C147.25 233.2 150.72 229.66 154.19 227.12C157.65 224.57 162.86 222.49 164.59 221.57" stroke-width="1.26" opacity="0.76"/><path d="M181.93 222.96C182.16 224.69 182.51 229.89 183.32 233.36C184.13 236.83 186.21 242.03 186.79 243.77" stroke-width="1.89" opacity="0.76"/><path d="M202.74 248.9C205.06 246.89 211.42 240.23 216.62 236.83C221.82 233.43 228.48 230.82 233.96 228.51C239.44 226.19 246.91 223.88 249.5 222.96" stroke-width="1.26" opacity="0.66"/><path d="M154.19 200.76C156.5 199.6 163.43 196.36 168.06 193.82C172.68 191.28 178.46 187.58 181.93 185.5C185.4 183.41 187.71 182.03 188.87 181.33" stroke-width="0.9" opacity="0.47"/><path d="M202.74 185.5C204.48 184.22 210.26 179.95 213.15 177.86C216.04 175.78 218.93 173.82 220.09 173.01" stroke-width="0.9" opacity="0.47"/><path d="M119.5 134.86C120.66 133.93 124.12 131.62 126.44 129.31C128.75 126.99 132.22 122.37 133.37 120.98" stroke-width="0.9" opacity="0.38"/></g><g fill="none" stroke="#6fe85a" stroke-linecap="round" stroke-linejoin="round" filter="url(#dblur1)" opacity="0.9"><path d="M79.97 96.02C79.85 96.94 79.16 99.72 79.28 101.57C79.39 103.42 80.43 106.19 80.66 107.12" stroke-width="4.8"/><path d="M69.56 107.12L69.91 107.46" stroke-width="2.4"/><path d="M73.03 110.59L73.38 110.93" stroke-width="2.4"/><path d="M65.4 123.77L72.34 119.6" stroke-width="4"/><path d="M46.67 127.92C47.48 128.67 48.98 132.2 51.53 132.43C54.07 132.66 59.04 130.64 61.93 129.31C64.82 127.98 67.25 125.95 68.87 124.45C70.49 122.95 71.18 120.98 71.65 120.29" stroke-width="3.2"/><path d="M50.14 125.84L55 123.06" stroke-width="2.4"/><path d="M140.31 142.49C142.62 143.06 148.98 145.26 154.19 145.95C159.39 146.65 168.64 146.53 171.53 146.65" stroke-width="3.2"/><path d="M158.35 167.46C159.39 167.92 162.97 169.08 164.59 170.23C166.21 171.39 166.79 173.01 168.06 174.4C169.33 175.78 171.53 177.86 172.22 178.56" stroke-width="7.2"/><path d="M202.74 159.83L205.52 161.91" stroke-width="5.6"/></g></g><g id="blu1"><g filter="url(#nucf)"><path d="M73.48 40.56C75.03 43.55 78.17 47.05 77.5 50.43C76.82 53.82 73.17 58.29 69.45 60.87C65.72 63.46 59.67 64.64 55.16 65.94C50.66 67.23 46.54 68.36 42.42 68.66C38.31 68.96 34.53 68.31 30.48 67.75C26.43 67.18 21.77 66.88 18.12 65.25C14.47 63.62 9.48 61.02 8.58 57.95C7.69 54.88 10.72 50.23 12.74 46.84C14.76 43.45 17.61 40.4 20.71 37.6C23.82 34.8 27.35 31.67 31.39 30.02C35.42 28.38 40.5 28.11 44.93 27.72C49.37 27.33 54.11 26.87 58 27.67C61.88 28.46 65.64 30.35 68.22 32.49C70.8 34.64 71.93 37.57 73.48 40.56Z" fill="rgb(44,60,190)"/><path d="M233.23 26.84C233.81 29.14 232.06 32.51 231.29 35.2C230.53 37.9 230.33 40.48 228.64 42.98C226.95 45.49 223.96 48.18 221.14 50.24C218.32 52.31 214.98 53.95 211.72 55.37C208.47 56.79 204.69 58.45 201.63 58.76C198.57 59.08 195.96 58.03 193.36 57.25C190.77 56.46 187.77 55.76 186.07 54.07C184.37 52.38 182.47 49.72 183.18 47.1C183.9 44.47 187.83 40.87 190.38 38.32C192.92 35.76 195.69 33.75 198.46 31.77C201.24 29.78 203.99 27.86 207.05 26.42C210.1 24.98 213.33 23.95 216.8 23.11C220.26 22.27 225.1 20.77 227.84 21.39C230.58 22.01 232.66 24.54 233.23 26.84Z" fill="rgb(44,60,190)"/><path d="M249.3 70.89C249.32 73.61 249.09 76.49 248.2 79.08C247.3 81.67 245.79 84.22 243.92 86.45C242.05 88.67 239.6 91.67 236.97 92.45C234.33 93.23 230.79 92.11 228.11 91.12C225.42 90.12 223.11 88.31 220.84 86.48C218.58 84.66 215.59 82.77 214.5 80.17C213.4 77.57 213.86 73.76 214.29 70.89C214.71 68.01 215.88 65.42 217.04 62.92C218.21 60.42 219.4 57.76 221.28 55.88C223.16 53.99 225.67 52.8 228.31 51.6C230.94 50.4 234.22 48.44 237.1 48.69C239.98 48.93 243.76 50.72 245.6 53.06C247.43 55.4 247.48 59.77 248.1 62.74C248.72 65.71 249.29 68.16 249.3 70.89Z" fill="rgb(44,60,190)"/><path d="M137.44 79.14C139.77 81.54 141.59 84.78 142.58 88.35C143.56 91.92 144.96 96.86 143.35 100.56C141.74 104.25 136.64 108.18 132.9 110.52C129.16 112.86 124.68 113.24 120.9 114.6C117.11 115.95 113.8 118.13 110.19 118.65C106.57 119.17 102.66 118.72 99.22 117.72C95.79 116.72 91.98 115.17 89.57 112.66C87.16 110.16 84.77 106.31 84.77 102.69C84.77 99.08 87.71 94.69 89.55 90.98C91.4 87.27 93.04 83.51 95.84 80.43C98.64 77.35 102.6 73.81 106.34 72.49C110.07 71.18 114.53 72.28 118.25 72.52C121.96 72.77 125.45 72.88 128.65 73.98C131.85 75.09 135.12 76.75 137.44 79.14Z" fill="rgb(39,54,171)"/><path d="M68.94 108.58C69.79 110.75 69.75 113.31 69.17 115.94C68.58 118.58 67.99 122.01 65.42 124.4C62.84 126.79 57.75 128.81 53.69 130.27C49.63 131.74 45.33 132.49 41.04 133.17C36.75 133.86 31.42 135.05 27.96 134.38C24.49 133.7 21.96 131.11 20.26 129.1C18.55 127.09 18.16 124.63 17.72 122.31C17.28 119.98 16.76 117.61 17.62 115.17C18.47 112.72 20.58 110.26 22.84 107.64C25.1 105.01 27.45 101.48 31.16 99.43C34.87 97.39 40.95 95.46 45.11 95.39C49.27 95.31 52.95 97.73 56.11 98.99C59.27 100.24 61.93 101.32 64.07 102.92C66.2 104.52 68.09 106.41 68.94 108.58Z" fill="rgb(44,60,190)"/><path d="M227.29 111.6C228.13 114.1 228.8 117.26 228.04 119.79C227.27 122.33 224.57 124.49 222.7 126.83C220.83 129.17 219.39 131.92 216.82 133.85C214.25 135.78 210.49 138.15 207.27 138.41C204.06 138.67 200.28 136.88 197.54 135.41C194.8 133.95 192.3 131.85 190.85 129.6C189.39 127.34 189.18 124.42 188.83 121.91C188.48 119.39 188.71 117.26 188.73 114.51C188.75 111.77 187.61 108.03 188.96 105.44C190.32 102.84 193.84 100.23 196.86 98.94C199.89 97.66 203.82 97.72 207.1 97.73C210.38 97.75 213.92 97.87 216.57 99.04C219.22 100.22 221.2 102.7 222.99 104.8C224.77 106.89 226.45 109.1 227.29 111.6Z" fill="rgb(44,60,190)"/><path d="M252.14 131.4C252.73 133.22 253.26 135.84 252.5 137.61C251.74 139.39 249.41 140.86 247.57 142.02C245.74 143.19 243.6 144.28 241.5 144.59C239.41 144.9 236.96 144.5 234.99 143.9C233.02 143.29 231.33 142.1 229.69 140.96C228.04 139.82 225.93 138.65 225.1 137.06C224.26 135.47 224.52 133.22 224.67 131.4C224.81 129.57 225.37 127.97 225.97 126.11C226.57 124.26 226.84 121.68 228.28 120.25C229.73 118.82 232.44 117.86 234.64 117.53C236.84 117.2 239.48 117.56 241.49 118.27C243.5 118.97 245.45 120.36 246.7 121.76C247.95 123.17 248.08 125.1 248.99 126.71C249.89 128.31 251.56 129.58 252.14 131.4Z" fill="rgb(41,57,180)"/><path d="M62.8 155.89C62.58 158.2 60.98 160.45 59.66 162.6C58.34 164.74 57.13 167.27 54.88 168.76C52.63 170.25 49.16 171.1 46.15 171.55C43.15 171.99 40.16 171.61 36.87 171.42C33.58 171.22 29.21 171.65 26.42 170.38C23.64 169.1 21.13 166.19 20.14 163.78C19.14 161.36 19.89 158.31 20.46 155.89C21.03 153.47 22.01 151.14 23.57 149.27C25.13 147.4 27.65 146.27 29.84 144.68C32.02 143.09 33.82 140.93 36.68 139.72C39.54 138.51 43.85 136.98 46.99 137.43C50.13 137.87 53.2 140.52 55.53 142.4C57.85 144.28 59.72 146.47 60.93 148.71C62.14 150.96 63.01 153.58 62.8 155.89Z" fill="rgb(44,60,190)"/><path d="M121.9 164.76C122.76 167.24 121.94 170.9 120.45 173.64C118.95 176.37 115.35 178.74 112.91 181.17C110.47 183.61 108.76 186.4 105.8 188.24C102.83 190.09 98.61 191.66 95.14 192.22C91.67 192.78 88.29 191.99 84.95 191.61C81.61 191.23 77.68 191.2 75.08 189.92C72.48 188.63 70.46 186.27 69.34 183.89C68.23 181.51 67.71 178.48 68.37 175.64C69.03 172.8 70.58 169.08 73.32 166.85C76.07 164.62 81.3 163.52 84.84 162.27C88.37 161.02 91.08 160.34 94.51 159.36C97.93 158.38 101.93 156.47 105.38 156.37C108.84 156.27 112.5 157.36 115.25 158.76C118 160.16 121.03 162.28 121.9 164.76Z" fill="rgb(39,54,171)"/><path d="M168.31 186.15C167.85 188.34 165.37 190.42 163.64 192.29C161.9 194.15 160.32 196.15 157.89 197.34C155.46 198.53 152.06 199.06 149.06 199.44C146.06 199.81 142.91 199.94 139.9 199.61C136.89 199.28 133.29 198.72 130.97 197.46C128.65 196.21 127.52 193.99 125.97 192.1C124.42 190.21 122.28 188.32 121.68 186.15C121.08 183.97 120.79 180.91 122.35 179.03C123.92 177.16 128.09 175.87 131.05 174.89C134 173.91 137.11 173.36 140.06 173.16C143.02 172.96 145.94 173.27 148.78 173.68C151.61 174.09 154.14 174.73 157.08 175.64C160.01 176.55 164.52 177.37 166.39 179.12C168.26 180.87 168.76 183.95 168.31 186.15Z" fill="rgb(46,63,199)"/><path d="M255.67 167.42C255.75 170.23 253.99 173.74 252.63 176.01C251.27 178.27 249.21 179.59 247.51 180.99C245.81 182.39 244.22 183.87 242.43 184.41C240.65 184.96 238.73 184.58 236.79 184.26C234.86 183.93 232.55 183.83 230.83 182.47C229.1 181.11 227.22 178.6 226.43 176.09C225.65 173.58 226.1 170.29 226.12 167.42C226.15 164.54 225.83 161.41 226.58 158.84C227.33 156.27 228.91 153.39 230.6 151.98C232.3 150.57 234.79 150.63 236.76 150.38C238.73 150.13 240.64 149.89 242.42 150.49C244.21 151.08 245.83 152.5 247.45 153.95C249.07 155.39 250.79 156.9 252.16 159.14C253.53 161.39 255.59 164.61 255.67 167.42Z" fill="rgb(44,60,190)"/><path d="M12.65 216.4C12.54 218.32 11.75 220.51 10.93 221.91C10.12 223.3 8.73 223.69 7.76 224.77C6.8 225.85 6.22 227.51 5.14 228.38C4.05 229.24 2.52 230.14 1.25 229.96C-0.02 229.78 -1.43 228.56 -2.49 227.32C-3.55 226.07 -4.7 224.31 -5.11 222.49C-5.53 220.67 -5.19 218.29 -4.99 216.4C-4.79 214.52 -4.37 212.91 -3.9 211.19C-3.42 209.48 -3.05 207.25 -2.16 206.12C-1.26 204.98 0.27 204.71 1.49 204.4C2.71 204.1 3.9 204.09 5.16 204.29C6.42 204.49 7.98 204.58 9.06 205.6C10.13 206.62 11 208.62 11.6 210.42C12.2 212.22 12.76 214.49 12.65 216.4Z" fill="rgb(41,57,180)"/><path d="M148.81 238.6C148.22 240.14 148.16 241.58 146.95 243.02C145.74 244.45 144.46 246.45 141.55 247.22C138.64 248 133.68 247.99 129.49 247.67C125.29 247.36 120.05 246.59 116.4 245.32C112.75 244.04 109.65 241.77 107.58 240.04C105.5 238.31 105.46 236.67 103.95 234.95C102.45 233.24 99.14 231.44 98.57 229.74C98.01 228.05 98.77 226.04 100.56 224.78C102.36 223.53 106 222.77 109.36 222.22C112.72 221.67 116.81 221.13 120.75 221.5C124.68 221.86 129.21 223.26 132.99 224.43C136.76 225.6 140.46 226.96 143.38 228.52C146.3 230.07 149.58 232.08 150.48 233.76C151.39 235.44 149.4 237.06 148.81 238.6Z" fill="rgb(44,60,190)"/><path d="M183.33 241.62C183.8 243.61 184.52 246.43 183.45 248.16C182.39 249.89 179.19 251.21 176.95 251.99C174.7 252.77 172.2 252.65 169.97 252.85C167.75 253.05 165.69 253.44 163.62 253.17C161.54 252.89 159.55 252.09 157.52 251.18C155.49 250.26 152.83 249.27 151.46 247.68C150.09 246.08 149.06 243.54 149.3 241.62C149.53 239.69 151.62 237.82 152.89 236.12C154.15 234.42 155.17 232.63 156.9 231.42C158.64 230.22 161.09 229.15 163.29 228.9C165.49 228.64 167.93 229.41 170.11 229.9C172.29 230.4 174.6 230.81 176.36 231.86C178.11 232.9 179.47 234.56 180.63 236.18C181.79 237.81 182.85 239.62 183.33 241.62Z" fill="rgb(41,57,180)"/><path d="M50 246.66C50.07 247.55 49.67 248.61 48.2 249.37C46.72 250.12 43.74 250.77 41.16 251.18C38.57 251.6 35.55 251.68 32.69 251.88C29.83 252.07 26.7 252.48 24 252.33C21.29 252.18 18.47 251.55 16.44 250.99C14.41 250.43 13.29 249.68 11.79 248.96C10.29 248.24 7.9 247.49 7.43 246.66C6.96 245.83 7.71 244.78 8.95 243.97C10.2 243.15 12.39 242.28 14.89 241.77C17.39 241.26 21.04 240.89 23.94 240.91C26.84 240.94 29.65 241.65 32.3 241.94C34.96 242.22 37.29 242.25 39.86 242.6C42.43 242.95 46.05 243.34 47.74 244.02C49.43 244.69 49.92 245.77 50 246.66Z" fill="rgb(39,54,171)"/><path d="M233.4 243.06C233.43 243.93 232.99 244.8 232.39 245.71C231.78 246.61 231.25 247.83 229.77 248.48C228.28 249.13 225.61 249.47 223.47 249.61C221.34 249.75 219.14 249.51 216.97 249.33C214.8 249.15 212.12 249.09 210.47 248.52C208.82 247.95 207.7 246.8 207.09 245.89C206.48 244.98 206.65 243.97 206.82 243.06C206.98 242.15 207.24 241.22 208.07 240.44C208.91 239.66 210.4 239.07 211.83 238.36C213.26 237.65 214.66 236.63 216.67 236.19C218.67 235.74 221.81 235.39 223.88 235.7C225.95 236 227.7 237.22 229.09 238.02C230.47 238.81 231.47 239.61 232.19 240.45C232.91 241.29 233.36 242.18 233.4 243.06Z" fill="rgb(19,27,85)"/></g><g filter="url(#dblur2)"><ellipse cx="38.61" cy="39.91" rx="6.81" ry="5.84" fill="#0b0f4a" opacity="0.8"/><ellipse cx="56.62" cy="39.91" rx="6.05" ry="5.19" fill="#0b0f4a" opacity="0.8"/><ellipse cx="22.76" cy="53.6" rx="3.78" ry="3.24" fill="#0b0f4a" opacity="0.8"/><ellipse cx="218.71" cy="36.31" rx="3.33" ry="2.85" fill="#0b0f4a" opacity="0.8"/><ellipse cx="198.54" cy="47.83" rx="3.03" ry="2.59" fill="#0b0f4a" opacity="0.8"/><ellipse cx="227.35" cy="72.33" rx="5.29" ry="4.54" fill="#0b0f4a" opacity="0.8"/><ellipse cx="112.09" cy="96.82" rx="8.32" ry="7.13" fill="#0b0f4a" opacity="0.8"/><ellipse cx="96.96" cy="104.02" rx="3.78" ry="3.24" fill="#0b0f4a" opacity="0.8"/><ellipse cx="50.14" cy="108.35" rx="3.78" ry="3.24" fill="#0b0f4a" opacity="0.8"/><ellipse cx="40.05" cy="118.43" rx="2.72" ry="2.33" fill="#0b0f4a" opacity="0.8"/><ellipse cx="201.42" cy="112.67" rx="3.33" ry="2.85" fill="#0b0f4a" opacity="0.8"/><ellipse cx="211.5" cy="122.75" rx="3.33" ry="2.85" fill="#0b0f4a" opacity="0.8"/><ellipse cx="217.27" cy="109.79" rx="2.72" ry="2.33" fill="#0b0f4a" opacity="0.8"/><ellipse cx="234.56" cy="129.96" rx="3.03" ry="2.59" fill="#0b0f4a" opacity="0.8"/><ellipse cx="35.73" cy="153.01" rx="6.05" ry="5.19" fill="#0b0f4a" opacity="0.8"/><ellipse cx="51.58" cy="151.57" rx="2.72" ry="2.33" fill="#0b0f4a" opacity="0.8"/><ellipse cx="90.48" cy="178.94" rx="5.29" ry="4.54" fill="#0b0f4a" opacity="0.8"/><ellipse cx="104.89" cy="173.18" rx="2.72" ry="2.33" fill="#0b0f4a" opacity="0.8"/><ellipse cx="135.14" cy="180.38" rx="2.72" ry="2.33" fill="#0b0f4a" opacity="0.8"/><ellipse cx="150.99" cy="182.55" rx="3.33" ry="2.85" fill="#0b0f4a" opacity="0.8"/><ellipse cx="237.44" cy="167.42" rx="3.33" ry="2.85" fill="#0b0f4a" opacity="0.8"/><ellipse cx="119.3" cy="236.57" rx="2.72" ry="2.33" fill="#0b0f4a" opacity="0.8"/><ellipse cx="161.08" cy="246.66" rx="3.78" ry="3.24" fill="#0b0f4a" opacity="0.8"/></g></g><g id="blu2"><g filter="url(#nucf)"><path d="M28.12 10.37C28.79 11.9 29.39 14.08 28.6 15.6C27.8 17.12 25.38 18.52 23.35 19.49C21.31 20.47 18.72 21.33 16.39 21.45C14.06 21.58 11.48 20.82 9.37 20.25C7.27 19.67 5.63 18.85 3.75 18C1.88 17.15 -0.78 16.43 -1.88 15.16C-2.99 13.88 -2.99 11.93 -2.89 10.37C-2.79 8.81 -2.11 7.31 -1.29 5.79C-0.47 4.27 0.3 2.33 2 1.25C3.71 0.16 6.57 -0.44 8.96 -0.73C11.35 -1.03 14.13 -1.04 16.33 -0.53C18.52 -0.03 20.76 1.13 22.13 2.29C23.5 3.46 23.57 5.12 24.57 6.47C25.56 7.82 27.44 8.85 28.12 10.37Z" fill="rgb(33,38,144)"/><path d="M189.87 19.97C190.3 22.83 192.09 26.53 190.66 29.16C189.22 31.8 185.16 34.69 181.24 35.77C177.32 36.85 171.48 35.98 167.14 35.64C162.8 35.3 158.82 34.8 155.21 33.72C151.61 32.63 148.64 30.87 145.5 29.13C142.37 27.4 138.98 25.71 136.41 23.31C133.85 20.91 130.13 17.49 130.12 14.74C130.11 11.99 133.7 9 136.36 6.81C139.02 4.61 142.52 2.99 146.06 1.58C149.6 0.18 153.6 -1.47 157.61 -1.61C161.62 -1.74 166.22 -0.31 170.11 0.8C174 1.91 177.94 3.21 180.93 5.07C183.92 6.94 186.55 9.49 188.04 11.98C189.53 14.46 189.43 17.11 189.87 19.97Z" fill="rgb(29,34,129)"/><path d="M251.23 8.93C250.91 10.37 250.1 11.65 249.24 12.91C248.37 14.17 247.48 15.52 246.05 16.49C244.61 17.45 242.67 18.1 240.62 18.7C238.58 19.3 236 20.27 233.79 20.11C231.59 19.95 228.78 18.93 227.41 17.74C226.03 16.54 226.05 14.41 225.56 12.94C225.06 11.47 224.5 10.29 224.44 8.93C224.38 7.58 224.52 6.12 225.2 4.81C225.87 3.49 227.02 2.18 228.48 1.07C229.93 -0.05 231.87 -1.51 233.91 -1.88C235.95 -2.24 238.65 -1.63 240.72 -1.13C242.79 -0.63 244.59 0.22 246.33 1.13C248.07 2.03 250.35 3 251.17 4.3C251.99 5.6 251.56 7.5 251.23 8.93Z" fill="rgb(29,34,129)"/><path d="M66.55 54.88C65.53 58.07 63.7 60.62 62.24 63.33C60.78 66.04 59.56 68.53 57.78 71.12C55.99 73.7 53.62 77.95 51.53 78.85C49.44 79.75 46.93 78.11 45.22 76.52C43.51 74.94 42.25 72.06 41.26 69.33C40.26 66.59 39.29 63.41 39.26 60.1C39.24 56.79 40.29 52.9 41.1 49.47C41.91 46.03 42.71 42.37 44.11 39.49C45.51 36.6 47.57 33.74 49.48 32.16C51.39 30.58 53.44 30.75 55.57 30.02C57.7 29.29 60.23 27.31 62.25 27.8C64.27 28.29 66.68 30.24 67.69 32.96C68.71 35.69 68.51 40.5 68.32 44.16C68.13 47.81 67.56 51.68 66.55 54.88Z" fill="rgb(33,38,144)"/><path d="M106.06 50.89C105.09 55.43 103.57 59.66 101.85 63.02C100.12 66.38 97.85 68.81 95.69 71.04C93.53 73.27 91.44 74.76 88.9 76.4C86.36 78.05 83.03 81.39 80.45 80.91C77.86 80.43 75.07 76.85 73.38 73.51C71.7 70.18 71.07 65.22 70.34 60.91C69.6 56.59 68.54 51.95 68.97 47.64C69.39 43.34 71.23 38.71 72.88 35.07C74.53 31.43 76.64 28.2 78.87 25.79C81.09 23.38 83.78 21.12 86.23 20.61C88.68 20.11 91.03 21.97 93.59 22.78C96.14 23.59 99.21 23.32 101.55 25.49C103.89 27.65 106.89 31.53 107.64 35.77C108.4 40 107.03 46.35 106.06 50.89Z" fill="rgb(31,36,136)"/><path d="M129.54 88.18C130 91.3 130.45 95.1 129.71 98.35C128.96 101.61 127.37 105.99 125.09 107.73C122.81 109.47 118.79 108.89 116.02 108.82C113.25 108.75 110.91 108.04 108.45 107.31C105.99 106.59 103.23 106.18 101.26 104.48C99.28 102.78 97.87 99.84 96.6 97.13C95.33 94.41 93.84 91.29 93.62 88.18C93.4 85.06 94.07 81.27 95.28 78.46C96.49 75.64 98.79 73.51 100.87 71.28C102.94 69.06 105.15 65.91 107.71 65.12C110.26 64.33 113.83 65.17 116.21 66.54C118.59 67.9 120.18 71.13 121.98 73.3C123.77 75.47 125.71 77.1 126.97 79.58C128.23 82.06 129.09 85.05 129.54 88.18Z" fill="rgb(40,46,174)"/><path d="M202.88 76.65C202.63 80.38 200.39 84.75 198.11 87.47C195.83 90.19 191.9 90.92 189.19 92.96C186.49 95.01 184.87 98.1 181.89 99.71C178.91 101.32 174.83 102.92 171.34 102.62C167.84 102.32 163.91 100.25 160.94 97.91C157.97 95.58 154.66 92.15 153.51 88.61C152.36 85.06 153.45 80.33 154.04 76.65C154.64 72.97 155.76 69.84 157.07 66.51C158.38 63.18 159.43 58.86 161.9 56.67C164.38 54.48 168.56 53.96 171.91 53.36C175.26 52.75 178.56 52.65 182 53.06C185.45 53.47 189.65 53.83 192.58 55.83C195.51 57.83 197.88 61.6 199.59 65.07C201.31 68.54 203.13 72.92 202.88 76.65Z" fill="rgb(29,34,129)"/><path d="M174 104.69C175.37 108.57 174.24 113.51 173.92 117.81C173.6 122.11 173.68 126.7 172.09 130.49C170.5 134.28 167.71 138.72 164.38 140.55C161.06 142.38 156.02 141.71 152.15 141.45C148.27 141.19 144.46 140.58 141.13 138.99C137.81 137.39 134.95 134.61 132.19 131.89C129.43 129.17 126.99 126.36 124.59 122.67C122.19 118.98 118.05 114.06 117.77 109.76C117.5 105.47 120.27 100.09 122.91 96.9C125.56 93.71 130.12 92.22 133.66 90.63C137.2 89.04 140.62 87.48 144.16 87.35C147.71 87.22 151.33 88.66 154.91 89.85C158.5 91.05 162.49 92.03 165.67 94.5C168.85 96.97 172.63 100.8 174 104.69Z" fill="rgb(33,38,144)"/><path d="M110.3 129.96C110.01 134.47 108.82 139.01 107.06 143.04C105.29 147.06 103 151.92 99.73 154.12C96.45 156.32 91.33 155.78 87.4 156.22C83.47 156.66 80.2 156.92 76.16 156.76C72.11 156.6 66.79 157.31 63.11 155.24C59.44 153.17 56.13 148.55 54.11 144.33C52.1 140.12 50.55 134.5 51.03 129.96C51.51 125.42 54.33 120.4 57.01 117.08C59.69 113.77 63.98 112.65 67.11 110.08C70.25 107.5 72.29 103.44 75.83 101.63C79.37 99.81 84.38 98.48 88.36 99.18C92.34 99.88 96.31 103.02 99.71 105.82C103.11 108.62 107.01 111.96 108.78 115.99C110.54 120.01 110.59 125.45 110.3 129.96Z" fill="rgb(31,36,136)"/><path d="M40.7 131.4C40.56 134.8 39.17 138.76 37.47 141.38C35.77 144 32.72 145.01 30.52 147.12C28.32 149.24 26.87 152.44 24.27 154.08C21.68 155.71 17.96 157.32 14.94 156.93C11.91 156.54 8.53 154.16 6.12 151.73C3.72 149.31 1.26 145.79 0.5 142.4C-0.26 139.01 0.99 134.74 1.56 131.4C2.12 128.05 3 125.5 3.91 122.33C4.82 119.16 5.12 114.79 7.03 112.4C8.93 110.01 12.44 108.74 15.35 107.98C18.25 107.22 21.46 107.24 24.44 107.85C27.43 108.45 30.96 109.44 33.26 111.62C35.57 113.81 37.04 117.66 38.28 120.95C39.52 124.25 40.84 127.99 40.7 131.4Z" fill="rgb(31,36,136)"/><path d="M252.97 138.6C252.85 141.46 251.36 144.63 249.95 146.98C248.55 149.34 246.58 151.57 244.53 152.75C242.49 153.92 239.91 153.55 237.67 154.04C235.44 154.52 233.55 155.52 231.11 155.66C228.68 155.81 225.15 156.29 223.07 154.89C220.99 153.49 219.57 149.98 218.64 147.27C217.71 144.55 217.3 141.4 217.47 138.6C217.63 135.8 218.38 132.74 219.62 130.47C220.87 128.2 223.06 126.63 224.93 124.96C226.81 123.29 228.69 121.11 230.89 120.44C233.09 119.76 235.92 120.15 238.13 120.91C240.34 121.68 242.05 123.54 244.14 125.02C246.23 126.51 249.2 127.57 250.67 129.83C252.14 132.09 253.09 135.74 252.97 138.6Z" fill="rgb(28,32,121)"/><path d="M175.81 177.5C176.24 181.13 175.28 185.26 173.84 188.94C172.4 192.61 170.28 196.71 167.16 199.56C164.05 202.4 159.3 205.74 155.15 205.98C151.01 206.22 145.98 202.84 142.3 201C138.62 199.15 136.16 197.02 133.08 194.9C130 192.78 126.08 191.19 123.84 188.29C121.6 185.39 120.29 181.38 119.66 177.5C119.03 173.63 118.45 168.65 120.07 165.04C121.69 161.43 125.7 157.74 129.39 155.83C133.08 153.93 138.04 154.24 142.21 153.63C146.37 153.02 150.52 151.51 154.38 152.16C158.24 152.8 162.57 155 165.39 157.51C168.2 160.01 169.54 163.87 171.28 167.2C173.02 170.54 175.38 173.88 175.81 177.5Z" fill="rgb(29,34,129)"/><path d="M114.96 196.73C115.02 199.86 117.26 203.82 115.92 206.84C114.59 209.87 111.06 213.51 106.95 214.89C102.83 216.27 96.26 215.69 91.23 215.12C86.2 214.56 80.82 213.41 76.78 211.51C72.73 209.62 69.82 206.4 66.96 203.77C64.11 201.14 61.76 198.7 59.64 195.74C57.53 192.78 54.1 189.04 54.28 186.03C54.45 183.03 57.95 180.1 60.67 177.71C63.38 175.32 66.69 173.3 70.56 171.68C74.42 170.05 79.16 167.93 83.85 167.96C88.53 167.98 94.26 170.03 98.68 171.84C103.09 173.65 107.54 176.12 110.35 178.83C113.16 181.54 114.8 185.1 115.56 188.08C116.33 191.06 114.9 193.61 114.96 196.73Z" fill="rgb(31,36,136)"/><path d="M204.5 206.62C206.07 210.66 209.52 214.93 210.04 219.39C210.56 223.84 209.65 229.75 207.63 233.36C205.62 236.97 201.44 239.55 197.93 241.04C194.41 242.54 190.09 243.24 186.53 242.34C182.97 241.44 179.7 237.84 176.55 235.62C173.4 233.4 170.51 231.83 167.63 229.01C164.76 226.2 160.65 222.72 159.28 218.74C157.91 214.75 158.82 209.44 159.4 205.11C159.98 200.77 160.94 196.4 162.77 192.74C164.59 189.08 167.19 184.96 170.35 183.15C173.51 181.34 177.99 181.57 181.74 181.87C185.49 182.18 189.71 182.76 192.86 184.97C196 187.19 198.67 191.55 200.61 195.16C202.55 198.77 202.93 202.58 204.5 206.62Z" fill="rgb(29,34,129)"/><path d="M36.61 169.19C36.47 171.36 36.21 174.24 35.78 175.96C35.35 177.68 34.57 178.6 34.02 179.51C33.47 180.41 32.98 180.97 32.47 181.38C31.96 181.79 31.42 182.2 30.95 181.97C30.47 181.74 30.01 181.05 29.59 180.01C29.18 178.97 28.58 177.66 28.48 175.74C28.37 173.83 28.66 170.66 28.98 168.52C29.3 166.38 29.95 164.66 30.4 162.92C30.84 161.18 31.19 159.32 31.66 158.08C32.14 156.84 32.73 155.95 33.26 155.46C33.79 154.97 34.35 154.84 34.84 155.13C35.34 155.42 35.95 155.93 36.25 157.23C36.54 158.52 36.56 160.94 36.62 162.93C36.68 164.92 36.75 167.02 36.61 169.19Z" fill="rgb(28,32,121)"/><path d="M5.38 96.82C5.41 98.8 5.56 101.06 5.38 102.91C5.21 104.76 4.79 106.92 4.33 107.91C3.87 108.91 3.17 108.78 2.64 108.86C2.1 108.94 1.6 108.89 1.14 108.4C0.68 107.9 0.28 106.88 -0.13 105.88C-0.55 104.88 -0.98 103.91 -1.35 102.4C-1.71 100.89 -2.27 98.75 -2.32 96.82C-2.36 94.89 -1.94 92.42 -1.6 90.81C-1.26 89.19 -0.73 88.13 -0.28 87.11C0.17 86.08 0.62 84.98 1.1 84.65C1.58 84.32 2.11 84.78 2.61 85.13C3.11 85.47 3.67 85.76 4.1 86.75C4.54 87.73 4.99 89.37 5.2 91.04C5.42 92.72 5.35 94.84 5.38 96.82Z" fill="rgb(31,36,136)"/><path d="M251.17 214.96C250.99 217.06 250.47 218.58 250.16 220.35C249.86 222.13 249.75 224.19 249.35 225.6C248.95 227 248.34 228.13 247.75 228.78C247.16 229.42 246.45 229.75 245.81 229.48C245.17 229.2 244.38 228.49 243.9 227.1C243.42 225.71 243.2 223.19 242.94 221.16C242.69 219.14 242.39 217.08 242.36 214.96C242.33 212.85 242.42 210.14 242.75 208.46C243.09 206.78 243.86 205.93 244.39 204.87C244.92 203.81 245.36 202.78 245.92 202.12C246.49 201.46 247.14 200.78 247.77 200.92C248.39 201.06 249.09 201.82 249.67 202.96C250.26 204.1 251.05 205.75 251.3 207.75C251.55 209.75 251.36 212.86 251.17 214.96Z" fill="rgb(28,32,121)"/></g><g filter="url(#dblur2)"><ellipse cx="152.43" cy="16.14" rx="6.05" ry="5.19" fill="#0b0f4a" opacity="0.8"/><ellipse cx="174.04" cy="11.81" rx="4.54" ry="3.89" fill="#0b0f4a" opacity="0.8"/><ellipse cx="50.14" cy="62.24" rx="6.05" ry="5.19" fill="#0b0f4a" opacity="0.8"/><ellipse cx="54.46" cy="37.75" rx="3.78" ry="3.24" fill="#0b0f4a" opacity="0.8"/><ellipse cx="90.48" cy="40.63" rx="7.56" ry="6.48" fill="#0b0f4a" opacity="0.8"/><ellipse cx="77.51" cy="56.48" rx="6.81" ry="5.84" fill="#0b0f4a" opacity="0.8"/><ellipse cx="110.65" cy="75.21" rx="3.33" ry="2.85" fill="#0b0f4a" opacity="0.8"/><ellipse cx="112.09" cy="91.06" rx="3.33" ry="2.85" fill="#0b0f4a" opacity="0.8"/><ellipse cx="181.25" cy="68" rx="7.56" ry="6.48" fill="#0b0f4a" opacity="0.8"/><ellipse cx="175.49" cy="88.18" rx="9.08" ry="7.78" fill="#0b0f4a" opacity="0.8"/><ellipse cx="145.23" cy="102.58" rx="10.59" ry="9.08" fill="#0b0f4a" opacity="0.8"/><ellipse cx="148.11" cy="118.43" rx="4.54" ry="3.89" fill="#0b0f4a" opacity="0.8"/><ellipse cx="155.31" cy="125.64" rx="5.29" ry="4.54" fill="#0b0f4a" opacity="0.8"/><ellipse cx="78.95" cy="132.84" rx="13.62" ry="11.67" fill="#0b0f4a" opacity="0.8"/><ellipse cx="22.76" cy="114.11" rx="5.29" ry="4.54" fill="#0b0f4a" opacity="0.8"/><ellipse cx="8.36" cy="119.87" rx="4.54" ry="3.89" fill="#0b0f4a" opacity="0.8"/><ellipse cx="28.53" cy="132.84" rx="4.24" ry="3.63" fill="#0b0f4a" opacity="0.8"/><ellipse cx="228.79" cy="134.28" rx="4.54" ry="3.89" fill="#0b0f4a" opacity="0.8"/><ellipse cx="155.31" cy="170.3" rx="6.05" ry="5.19" fill="#0b0f4a" opacity="0.8"/><ellipse cx="70.31" cy="193.35" rx="6.81" ry="5.84" fill="#0b0f4a" opacity="0.8"/><ellipse cx="91.92" cy="181.82" rx="6.05" ry="5.19" fill="#0b0f4a" opacity="0.8"/><ellipse cx="99.12" cy="194.79" rx="7.56" ry="6.48" fill="#0b0f4a" opacity="0.8"/><ellipse cx="175.49" cy="207.76" rx="6.05" ry="5.19" fill="#0b0f4a" opacity="0.8"/><ellipse cx="194.22" cy="202" rx="6.05" ry="5.19" fill="#0b0f4a" opacity="0.8"/><ellipse cx="187.01" cy="222.17" rx="7.56" ry="6.48" fill="#0b0f4a" opacity="0.8"/></g></g><g id="red1"><g fill="#a01212" opacity="0.17" filter="url(#dblur6)"><ellipse cx="198.54" cy="20.46" rx="23.6" ry="14.24"/><ellipse cx="93.36" cy="27.66" rx="19.86" ry="13.3"/><ellipse cx="70.31" cy="14.7" rx="14.24" ry="7.68"/><ellipse cx="176.93" cy="75.21" rx="25.48" ry="16.11"/><ellipse cx="212.95" cy="60.8" rx="21.73" ry="13.3"/><ellipse cx="159.64" cy="50.72" rx="9.56" ry="14.24"/><ellipse cx="109.21" cy="124.19" rx="17.98" ry="9.56"/><ellipse cx="51.58" cy="128.52" rx="10.49" ry="10.49"/><ellipse cx="64.55" cy="86.73" rx="19.86" ry="10.49"/><ellipse cx="5.47" cy="98.26" rx="10.49" ry="7.68"/><ellipse cx="176.93" cy="132.84" rx="17.98" ry="11.43"/><ellipse cx="198.54" cy="138.6" rx="12.36" ry="6.75"/><ellipse cx="214.39" cy="151.57" rx="12.36" ry="17.98"/><ellipse cx="227.35" cy="157.33" rx="9.56" ry="14.24"/><ellipse cx="162.52" cy="171.74" rx="11.43" ry="10.49"/><ellipse cx="21.32" cy="183.27" rx="23.6" ry="7.68"/><ellipse cx="155.31" cy="197.67" rx="23.6" ry="7.68"/><ellipse cx="191.33" cy="222.17" rx="19.86" ry="19.86"/><ellipse cx="112.09" cy="222.17" rx="17.98" ry="10.49"/><ellipse cx="25.65" cy="235.13" rx="31.09" ry="11.43"/><ellipse cx="17" cy="210.64" rx="7.68" ry="14.24"/></g><g filter="url(#dblur05)"><path d="M85.72 105.42h0M38.93 144.69h0M173.77 137.48h0M173.48 7.64h0M97.85 91.22h0M17.41 101.03h0M15.38 123.36h0M145.48 116.84h0M81.72 64.05h0M7.76 87h0M220.39 140.54h0M66.14 165.61h0M47.55 116.92h0M152.68 235.8h0M90.81 143.1h0M232.79 190.93h0M155.64 154.04h0M102.64 103.77h0M69.63 205.17h0M217.44 95.52h0M224.76 11.34h0M35.27 126.18h0M77.58 90.26h0M241.26 38.7h0M49.13 57.96h0M168.57 59.44h0M2.23 135.18h0M98.47 60.61h0M122.89 161.23h0M136.24 154.91h0M139.33 205.54h0M239.27 83.68h0M86.9 219.06h0M78.74 177.33h0M172.3 170.14h0M238.06 203.89h0M41.05 154.23h0M122.16 140.08h0M92.5 71.97h0M185.42 132.77h0M60.05 63.05h0M81.59 45.54h0M127.82 32.86h0M17.49 18.82h0M27.04 174.6h0M29.62 112.59h0M191.09 119.72h0M41.81 214.15h0M215.02 15.09h0M64.18 126.27h0M197.05 98.07h0M177.34 63.67h0M177.28 82.05h0M83.76 187.94h0M208.38 204.91h0M140.97 105h0M175.13 154.57h0M205.51 198.22h0M32.67 94.32h0M165.93 58.58h0M47.22 5.36h0M145.4 232.45h0M239.66 34.75h0M170.39 104.69h0M156.65 99.16h0M230.58 244.16h0M13.93 176.68h0M30.99 12.38h0M72.05 181.08h0M245.34 31.42h0" stroke="#8c1616" stroke-width="1.7" stroke-linecap="round" fill="none" opacity="0.75"/><path d="M187.87 22.25h0M188.4 21.67h0M202.7 25.68h0M211.91 25.13h0M222.43 23.97h0M189.38 21.61h0M186.16 19.64h0M227.31 20.23h0M197.73 22.22h0M203.33 30.57h0M205.23 22.68h0M201 21.45h0M200.14 24.13h0M200.98 16.64h0M200.67 25.08h0M196.02 18.76h0M200.08 24.04h0M191.78 17.73h0M208.23 19.07h0M203.82 27.71h0M205.57 31.45h0M196.65 16.94h0M80.37 24.56h0M108.86 19.92h0M94.68 27.84h0M88 23.89h0M82.19 25.63h0M92.46 20.89h0M99.08 25.6h0M96.95 19.25h0M67.01 13.32h0M68.8 14.18h0M80.09 14.52h0M64.39 16.78h0M70.31 14.21h0M66.89 14.87h0M63.75 14.74h0M183.5 72.1h0M180.14 80.79h0M158.82 75.44h0M179.13 80.8h0M168.65 75.39h0M174.88 75.56h0M169.81 70.83h0M167.23 66.88h0M174.39 71.82h0M177.53 75.94h0M168.61 82.28h0M164.16 77.45h0M168.11 80.24h0M183.54 62.45h0M173.18 72.15h0M182.6 67.98h0M181.59 86.8h0M188.61 74.23h0M167.99 86.21h0M200.07 58.48h0M200.31 60.08h0M205.83 51.03h0M206.48 60.2h0M206.75 56.74h0M225.27 51.56h0M208.19 59.51h0M216.16 55.48h0M211.89 59.3h0M195.92 66.44h0M199.62 64.04h0M231.48 49.91h0M159.63 53.87h0M156.95 45.73h0M161.9 45.45h0M160.13 58.48h0M161.36 49.16h0M112.49 121.67h0M113.73 126.2h0M113.43 124.4h0M98.54 124.03h0M110.59 124.67h0M110.92 125.91h0M123.64 126.78h0M109.73 121.74h0M102.52 123.91h0M119.03 124.55h0M112.13 126.97h0M108.1 124.16h0M112.37 120.09h0M104.77 122.14h0M91.16 123.98h0M108.49 130.29h0M119.6 120.74h0M49.37 125.04h0M41.19 137.16h0M49.96 123.4h0M55.92 129.14h0M64.46 93.62h0M45.93 86.33h0M74.71 86.6h0M73.09 88.7h0M60.27 87.07h0M62.65 86.03h0M56.88 88.59h0M60.66 88.68h0M59.14 85.77h0M68.56 87.23h0M5.46 97.62h0M6.64 98h0M2.21 99.23h0M5.63 100.67h0M4.87 96.07h0M168.11 134.7h0M178.29 128.52h0M187.04 137.78h0M173.68 128.62h0M177.04 142.8h0M176.05 136.56h0M185.08 135.61h0M172.76 130.31h0M178.35 136.01h0M200.55 136.54h0M199.93 137.19h0M202.05 138.51h0M197.32 139.13h0M199.99 138.91h0M216.71 156.23h0M213.06 153.93h0M206.34 145.58h0M218.03 148.04h0M207.87 147.15h0M219.11 152.63h0M204.98 144.78h0M214.87 149.4h0M212.92 148.93h0M214.85 143.91h0M211.55 155.11h0M225.84 152.43h0M226.56 149.99h0M222.96 162.07h0M230.39 150.48h0M232.69 149.63h0M223.04 156.21h0M226.86 159.52h0M157.95 172.82h0M163.05 174.01h0M162.09 173.65h0M160.82 175.44h0M159.77 172.06h0M165.32 170.25h0M170.76 174.1h0M159.24 174.31h0M160.85 181.27h0M162.56 172.21h0M158.12 175.83h0M161.31 173.95h0M8.98 182.98h0M21.38 183.16h0M11.6 183.54h0M23.54 181.27h0M27.94 184.04h0M19.54 181.44h0M28.19 184.49h0M37.37 182.5h0M29.78 183.42h0M22.21 185.81h0M48.22 183.67h0M16.78 184.95h0M21.09 184.59h0M11.28 187.46h0M20.04 181.51h0M7.75 185.44h0M29.4 182.27h0M146.36 194.97h0M164.09 197.87h0M170.61 197.28h0M147.84 199.32h0M157.26 193.42h0M149.47 192h0M160.97 198.41h0M152.77 196h0M159.96 197.5h0M144.55 196.99h0M153.59 202h0M193.99 216.92h0M191.87 231.46h0M195.74 223.06h0M185.8 221.48h0M189.43 218.66h0M183.57 214.51h0M191.42 213.94h0M182.9 225.88h0M188.99 207.04h0M201.74 225.69h0M191.57 224.84h0M201.66 219.96h0M191.14 212.94h0M205.32 227.97h0M185.99 226.2h0M193.05 222.68h0M188.36 230h0M186.8 237.65h0M187.02 222.92h0M196.12 222.03h0M203 213.73h0M198.62 230.42h0M193.53 226.91h0M113.63 219.2h0M107.53 229.05h0M118.88 221.8h0M110.2 221.98h0M111.05 224.52h0M116.53 223.52h0M112.22 224.73h0M117.35 228.39h0M118.99 222.91h0M101.16 227h0M115.54 225.82h0M106.19 225.75h0M11.61 234.69h0M19.86 231.17h0M28.66 228.93h0M10.2 231.91h0M16.98 236.13h0M48.92 238.56h0M19.13 239.7h0M35.42 239.74h0M20.18 237.01h0M38.95 236.22h0M32.26 234.96h0M64.34 237.67h0M17.27 234.28h0M15.53 239.71h0M4.77 231.12h0M28.02 237.51h0M20.99 238.76h0M22.22 236.06h0M16.27 212.74h0M14.85 216.89h0M16.38 211.96h0M15.45 217.91h0M18.1 211.33h0M243.82 198.88h0M244.48 201.66h0M111.08 153.52h0M83.84 107.61h0M85.5 108.93h0M82.83 8.49h0M134.87 120.3h0M93.45 77.72h0M198.04 207.39h0M71.49 97.92h0M153.29 189.44h0M242.24 97.35h0M171.97 135.7h0M197.96 37.97h0M44.88 28.23h0M230.63 63.56h0M121.58 31.48h0M81.26 6.71h0M140.59 37.18h0M155.13 69.11h0M57.73 120.09h0M91.6 65.57h0M14.55 17.77h0M220.61 77.76h0M21.2 46.69h0M120.39 246.2h0M51.52 214.39h0M120.59 103.53h0M199.64 98.97h0M16.12 136.83h0" stroke="#e3221f" stroke-width="2.1" stroke-linecap="round" fill="none" opacity="1"/><path d="M199.57 18.42h0M191.7 15.05h0M209.18 21.01h0M200.92 23.75h0M193.5 15.98h0M196.55 16.47h0M184.86 25.85h0M214.85 18.06h0M207.24 19.87h0M188.14 14.46h0M198.76 18.08h0M203.44 25.93h0M203.69 27.64h0M195.85 18.6h0M195.06 23.96h0M208.26 23.83h0M202.24 18.21h0M212.03 15.68h0M191.28 17.45h0M220.23 23.39h0M88.48 25.59h0M92.86 26.05h0M90.36 37.22h0M98.98 28.02h0M97.49 28.67h0M89.96 26.65h0M89.95 22.28h0M87.81 17.01h0M81.89 42.83h0M105.09 22.51h0M61.86 16.08h0M176.87 76.04h0M174.13 71.85h0M188.51 70.66h0M193.74 69.34h0M169.74 72.79h0M171.31 62.03h0M181.99 80.51h0M187.3 74.52h0M195.86 77.42h0M173.75 68.24h0M177.41 74.16h0M177.34 78.26h0M175.59 71.81h0M164.91 69.07h0M182.31 63.56h0M190.81 71.56h0M174.63 77.09h0M227.14 62.21h0M214.45 58.25h0M213.97 58.47h0M216.14 60.22h0M206.58 59.41h0M222.54 53.06h0M202.14 60.68h0M222.32 59.8h0M211.87 65.7h0M228.94 50.92h0M226.35 48.28h0M231.8 50.38h0M232.36 53.11h0M228.97 52.45h0M157.15 52.5h0M158.03 50.2h0M161.62 48.34h0M111.8 123.23h0M108.49 122.07h0M123.35 120.34h0M107.6 122.54h0M101.02 123.86h0M123.68 123.81h0M105.75 125.22h0M111.25 119.18h0M110.38 119.5h0M51.37 127.32h0M51.13 128.61h0M48.73 125.12h0M55.99 126.92h0M51.45 131.73h0M52.61 131.41h0M80.34 88.78h0M64.2 87.24h0M7.23 95.8h0M2.99 96.72h0M9.15 99.04h0M176.29 137.54h0M186.79 131.14h0M172.7 130.46h0M169.82 128.41h0M178.23 132.14h0M183.26 135.51h0M199.36 138.07h0M199.49 140.22h0M198.32 135.03h0M208.39 152.48h0M214.64 149.08h0M213.53 149.34h0M213.43 141.93h0M213.22 156.79h0M222.1 146.2h0M211.95 156.19h0M211.28 155.4h0M217.02 144.59h0M214.85 138.51h0M214.78 148.99h0M213.7 138.04h0M212.62 147.74h0M224.8 159.68h0M226.88 142.76h0M228.28 160.13h0M225.44 169.47h0M227.64 154.38h0M164.18 172.08h0M160.42 170.47h0M166.46 170.77h0M160.88 170.59h0M20.21 185.7h0M30.53 180.24h0M19.6 186.39h0M6.61 181.24h0M35.04 185.27h0M11.07 182.61h0M25.03 181.78h0M24.56 185.91h0M13.6 185h0M25.34 183.86h0M15.32 180.47h0M26.6 184.03h0M27.66 184.69h0M149.42 198.84h0M154.01 197.43h0M148.39 200.08h0M160.77 195.25h0M149.15 199.54h0M151.74 194h0M166.83 196.73h0M149.06 199.37h0M160.18 195.22h0M194.87 230.43h0M201.04 218.28h0M185.79 211.9h0M180.55 215.14h0M193.83 229.78h0M184.34 228.23h0M186.29 231.06h0M184.84 217.44h0M198.71 210.25h0M182.75 220.75h0M196.51 218.62h0M181.59 215.32h0M189.08 220.66h0M183.37 224.92h0M191.75 228.25h0M179.97 228.28h0M201.63 229.51h0M174.31 218.07h0M191.56 228.18h0M199.32 221.02h0M195.9 234.98h0M196.61 235.88h0M200.35 229.26h0M188.61 223.14h0M187.39 232.68h0M118.42 219.36h0M110.57 226.63h0M35.16 240.64h0M18.87 233.49h0M26.86 239.25h0M13.4 233.11h0M30.87 233.52h0M39.48 235.6h0M5.37 233.44h0M31.87 237.58h0M24.18 239.87h0M28.77 233.16h0M26.61 233.9h0M25.54 234.13h0M30.71 233.88h0M21.93 238.71h0M24.79 232.57h0M35.95 233.74h0M41.86 234.56h0M11.52 238.09h0M7.75 239.41h0M27.27 232.7h0M31.73 239.25h0M15.45 228.72h0M15.97 213.53h0M17.64 214.02h0M19.79 207.16h0M17.34 210.11h0M18.87 212.25h0M245.99 199.39h0M245.29 199.97h0M244.27 197.54h0M108.9 151.74h0M106.84 154.38h0M110.11 146.97h0M105.22 148.33h0M86.13 110.68h0M75.36 191.04h0M71.27 190.49h0M70.98 191.5h0M72.3 189.46h0" stroke="#ff2d28" stroke-width="2.9" stroke-linecap="round" fill="none" opacity="1"/></g></g><g id="red2"><g fill="none" stroke="#981218" stroke-width="7" stroke-linecap="round" stroke-linejoin="round" opacity="0.22" filter="url(#dblur3)"><path d="M6.92 68 L18.44 66.56 L19.88 82.41 L35.73 92.5 L41.49 91.06"/><path d="M32.85 68 L38.61 83.85"/><path d="M68.87 108.35 L58.78 122.75 L47.26 141.48 L32.85 148.69 L25.65 170.3 L15.56 191.91 L4.03 206.32"/><path d="M53.02 176.06 L71.75 170.3 L90.48 165.98 L107.77 161.65 L119.3 153.01 L130.82 154.45"/><path d="M130.82 83.85 L122.18 102.58 L119.3 122.75 L127.94 140.04 L133.7 142.92"/><path d="M148.11 80.97 L159.64 91.06 L168.28 102.58 L184.13 108.35 L205.74 114.11 L212.95 111.23"/><path d="M152.43 56.48 L174.04 49.27 L181.25 49.27"/><path d="M198.54 29.1 L210.06 20.46"/><path d="M169.72 119.87 L176.93 134.28 L175.49 145.81 L191.33 148.69"/><path d="M142.35 153.01 L130.82 184.71 L119.3 199.11 L104.89 217.84"/><path d="M181.25 163.09 L176.93 184.71 L191.33 177.5"/><path d="M214.39 191.91 L214.39 213.52 L205.74 235.13 L204.3 238.01"/><path d="M246.08 184.71 L234.56 206.32 L231.68 214.96"/><path d="M148.11 217.84 L152.43 229.37"/><path d="M11.24 212.08 L18.44 212.08"/><path d="M8.36 155.89 L12.68 170.3"/><path d="M210.06 62.24 L220.15 79.53 L227.35 91.06 L212.95 105.46"/><path d="M51.58 177.5 L53.02 191.91"/><path d="M96.24 4.61 L113.53 4.61"/><path d="M228.79 242.34 L237.44 246.66"/><path d="M114.97 53.6 L122.18 37.75"/></g><g filter="url(#dblur05)"><path d="M236.56 230.94h0M36.85 153.55h0M54 86.41h0M76.6 56.83h0M145.64 55.22h0M83.27 36.53h0M67.47 191.66h0M72.3 239.38h0M29.11 8.78h0M63 128.07h0M78.04 100.02h0M185.18 164.29h0M61.1 217.37h0M90.33 141.8h0M90.22 187.35h0M143.62 124.04h0M44.27 20.86h0M65.92 210.19h0M228.63 101.35h0M19.78 50.71h0M231.06 33.43h0M103.94 19.75h0M123.49 86.41h0M242.9 242.8h0M125.21 206.58h0M167.03 115.27h0M190.73 10.4h0M43.19 204.08h0M128.75 169.36h0M150.16 208.09h0M63.63 45.34h0M72.82 214.57h0M125.43 188.99h0M191.08 85.9h0M182.51 194.75h0M126.89 130.79h0M117.31 113.41h0M53.58 142.51h0M211.79 64.37h0M104.27 93.41h0M74.56 228.86h0M180.29 23.19h0M128.52 87.56h0M91.47 29.03h0M149.52 90.03h0M167.92 31.45h0M128.8 110.62h0M158.54 17.32h0M194.91 130.75h0M63.61 42.89h0M201.27 5.13h0M145.6 77.19h0M86.01 238.64h0M35.87 47.15h0M4.78 91.56h0M20.56 12.81h0M169.39 233.34h0M43.22 149.14h0M237.93 45.35h0M39.91 125.73h0M14.73 144.02h0M206.23 217.51h0M29.88 138.32h0M125.43 112.44h0M47.03 150.34h0M39.3 169.08h0M23.81 2.24h0M211.4 84.52h0M102.09 127.68h0M119.28 6.29h0M202.52 241.59h0M76.32 72.13h0M70.07 163.69h0M131.11 138.9h0M151.7 65.54h0M129.32 132.39h0M155.34 158.69h0M242.31 34.26h0M127.02 147.22h0M41.47 92.74h0M62.18 135.25h0M174.06 66.94h0M115.25 52.65h0M102.3 244.58h0M219.32 90.64h0M85.45 46.55h0M218.06 228.79h0M13.3 111.6h0M99.96 60.56h0M164.8 204.52h0M92.16 242.39h0M151.12 61.29h0M169.55 34.65h0M103.11 143.84h0M47.2 28.13h0M94.88 211.86h0M51.84 117.69h0M151.42 47.5h0M93.66 214.31h0M195.65 138.84h0M155.4 3.58h0M59.85 89.1h0M15.98 112.3h0M152.24 164.91h0M150.99 127.27h0M207.21 61.23h0M74.9 60.24h0M74.45 214.81h0M113.89 225.34h0M120.99 96.86h0" stroke="#7c1620" stroke-width="1.6" stroke-linecap="round" fill="none" opacity="0.7"/><path d="M8.27 68.04h0M8.95 69.02h0M17.96 77.97h0M18.42 83.61h0M18.78 72.38h0M19.7 77.48h0M20.23 84.47h0M24.39 86.53h0M30.04 87.06h0M22.97 84.03h0M20.98 80.81h0M34.17 90.02h0M38.05 94.31h0M36.68 77.81h0M31.85 73.33h0M36.68 71.95h0M35.11 79.94h0M36.61 79.22h0M35.76 79.66h0M66.98 109.05h0M62.28 116.2h0M65.22 113.08h0M66.48 110.55h0M66.36 115.42h0M49.24 135.26h0M55.79 128h0M46.58 138.96h0M51.51 135.19h0M56.45 128.12h0M54.55 129.26h0M54.66 132.57h0M32.85 148.28h0M42.81 144.03h0M45.86 140.84h0M45.57 144.95h0M32.17 148.64h0M29.04 157.19h0M25.55 165.4h0M29.04 159.55h0M25.53 167.73h0M28.48 164.28h0M26.46 169.82h0M27.45 165.09h0M22.6 179.5h0M14.34 186.5h0M17.77 184.54h0M22.58 173.27h0M10.21 201.26h0M9.66 200.06h0M13.18 193.14h0M6.73 206.1h0M6.31 206.52h0M67.74 174.11h0M67.31 168.28h0M62.37 174.79h0M65.74 171.73h0M73.66 170.44h0M80.33 166.82h0M74.71 168.54h0M82.45 167.32h0M72.39 171.66h0M87.95 168.96h0M75.52 171h0M81.86 168.32h0M79.84 167.64h0M104.86 161.65h0M104.08 159.29h0M92.92 166.88h0M102.97 163.29h0M107.82 159.64h0M114.08 155.77h0M107.5 161.5h0M111.79 157.07h0M127.99 152.26h0M121.18 153.15h0M125.32 152.68h0M127.24 89.6h0M128 90.36h0M129.53 90.21h0M123.18 99.31h0M124.76 100.88h0M120.6 124.1h0M119.2 118.72h0M120.92 120.13h0M119.46 105.95h0M121.32 103.6h0M118 118.24h0M119.94 116.98h0M119.51 127.57h0M126.94 133.36h0M126.25 134.23h0M126.33 137.64h0M124.65 133.36h0M133.15 142.9h0M125.18 141.89h0M152.37 84.42h0M163.01 93.98h0M159.95 91.45h0M165.07 98.22h0M172.95 104.22h0M181.62 107.52h0M181.99 105.49h0M182.93 107.42h0M180.72 108.62h0M203.74 114.11h0M197.36 111.94h0M203.4 110.3h0M209.7 113.47h0M210.54 111.94h0M211.81 114.2h0M160.38 50.68h0M159.87 51.48h0M162.11 53.09h0M156.95 55.34h0M168.71 51.49h0M155.48 54.87h0M167.38 52.66h0M177.69 49.97h0M206.26 25.51h0M206.48 21.57h0M201.26 27.61h0M207.08 23.9h0M204.75 24.63h0M174.86 132.61h0M174.94 130.14h0M172.09 125.1h0M170.59 122.11h0M177.03 130.38h0M176.56 137.7h0M177.23 138.14h0M176 137.33h0M176.92 138.33h0M189.01 147.25h0M187.33 146.98h0M186.71 146.38h0M183.18 151.64h0M188.65 147.01h0M138.68 161.37h0M137.49 170.71h0M133.84 170.53h0M133.41 173.97h0M142.9 155.08h0M137.37 168.38h0M138.9 163.72h0M143.06 155.06h0M132.76 175.65h0M130.57 181.82h0M135.37 170.19h0M128.8 189.39h0M124.37 192.88h0M119.78 200.6h0M126.5 191.5h0M119.8 199.62h0M105.82 217.53h0M107.58 216.43h0M108.5 213.23h0M112.4 205.95h0M107.78 214.36h0M116.98 203.6h0M117.62 200.05h0M116.67 199.69h0M117.42 201.64h0M179.65 179.05h0M176.85 176.95h0M181.91 163.56h0M176.86 183.65h0M175.81 182.58h0M178.98 181.39h0M178.99 169.98h0M188.1 178.19h0M186.32 179.14h0M180.1 182.95h0M181.41 181.18h0M177.7 184.99h0M214.52 201.61h0M214.24 192.76h0M215.39 204.71h0M213.87 193.97h0M213.23 202.58h0M215.09 208.42h0M206.32 229.56h0M214.35 214.79h0M205.55 230.66h0M209.81 222.96h0M213.27 215.57h0M206.47 235.75h0M241.63 194.08h0M240 198.95h0M234.43 206.65h0M238.54 199.92h0M241.3 190.7h0M243.48 188.9h0M234.39 204.13h0M233.22 215.36h0M232.73 211.48h0M149.99 220.93h0M150.55 227.8h0M150.35 228.32h0M149.58 217.94h0M17.14 209.3h0M14.51 169.5h0M13.42 168.6h0M11.35 166.19h0M9.12 160.72h0M209.8 68.43h0M212.48 67.58h0M216.92 75.27h0M218.35 78.38h0M218 76.74h0M215.68 68.55h0M223.27 83.95h0M226.68 84.35h0M213.44 104.2h0M218.85 94.61h0M214.89 102.59h0M214.51 101.07h0M220.03 97.28h0M217.86 100.76h0M226.18 93.95h0M53.85 182.24h0M52.73 177.25h0M54.53 191.11h0M52.24 185.47h0M49.68 179.17h0M112.09 3.54h0M103.61 4.51h0M106.69 4.91h0M111.59 4.45h0M102.15 4.43h0M112.89 4.77h0M237.67 245.63h0M231.77 245.84h0M232.68 245.5h0M116.85 53.01h0M119.22 46.2h0M115.15 52.79h0M117.55 49.42h0M119.67 49.06h0M152.91 10.43h0M119.39 88.14h0M120.35 101.71h0M164.55 161.18h0M2.28 130.13h0M103.76 93.1h0M47.51 200.12h0M45.81 65.38h0M82.13 225.62h0M119.45 40.07h0M54.1 77.24h0M203.29 2.94h0M61.35 178.98h0M23.02 145.41h0M207.5 114.67h0M172.49 139.46h0M218.01 239.36h0M146.99 179.26h0M174.57 204.7h0M101.63 160.87h0M103.57 211.99h0M202.53 83.37h0M134.95 243.64h0M181.79 56.7h0M119.64 21.54h0M67.9 198.99h0M45.71 152.75h0M187.93 235.69h0M106.41 15.95h0M105.2 161.48h0M188.33 211.67h0M18.04 108.31h0M180.74 68.8h0M200.64 242.58h0M82.6 151.03h0M13.44 166.13h0M235.26 192.28h0M81.76 228.83h0M2.75 139.87h0M16.86 102.58h0" stroke="#d2242e" stroke-width="1.9" stroke-linecap="round" fill="none" opacity="1"/><path d="M20.17 65.8h0M12.33 67.89h0M12.7 66.05h0M18.67 74.68h0M19.83 80.1h0M31.25 89.95h0M31.66 87.97h0M38.14 92.89h0M39.09 82.52h0M60.48 123.57h0M62.16 115.77h0M55.74 128.09h0M56.66 126.47h0M34.74 150.19h0M47.64 142.28h0M34.02 152.99h0M18.43 184.35h0M16.21 187.37h0M21.79 175.88h0M15.02 190.34h0M16.18 189.26h0M17.99 184.71h0M5.66 201.73h0M12.57 196.77h0M7.68 198.36h0M55.34 174.96h0M68.89 172.88h0M58.86 175.53h0M91.47 165.36h0M101.34 163.58h0M92.31 164.98h0M115.73 158.77h0M112.05 158.02h0M129.54 152.28h0M128.24 152.18h0M129.77 90.18h0M119.9 103.53h0M128.62 84.18h0M120.24 118.86h0M128 137.41h0M126.49 137.36h0M124.5 130.56h0M150.64 81.98h0M155.22 88.24h0M151.16 85.43h0M154.82 88.43h0M150.05 84.44h0M166.84 103.25h0M160.64 92.65h0M161.57 96.66h0M182.29 106.09h0M172 106.68h0M188.42 109.92h0M187.14 106.27h0M202.51 114.87h0M201.16 112.23h0M192.93 108.57h0M187.51 108.97h0M168.49 51.11h0M165.88 53.89h0M181.48 50.17h0M173.92 49.46h0M199.55 27.75h0M175.82 128.78h0M174.68 142.73h0M187.33 149.53h0M134.07 174.71h0M133.03 178.87h0M131.07 179.84h0M128.96 187.34h0M129.58 185.21h0M126.97 188.05h0M117.44 202.62h0M176.96 183.12h0M178.34 172.9h0M186.45 181.69h0M216.99 205.97h0M213.89 198.84h0M214.22 194.58h0M211.14 221.3h0M209.13 224.41h0M213.7 212.92h0M210.87 218.38h0M211.03 218.75h0M206.8 237.16h0M246.05 187.23h0M242.24 197.24h0M243.92 187.24h0M238.13 199.2h0M148.88 223.87h0M11.23 211.98h0M14.99 211.59h0M10.12 162.11h0M11.2 162.19h0M210.16 63.4h0M214.57 67.93h0M221.04 76.83h0M221.7 82.47h0M224.74 85.63h0M221.65 96.98h0M54.78 186.27h0M106.21 4.81h0M234.99 247.9h0M119.37 45.41h0M117.13 47.46h0" stroke="#f62c30" stroke-width="2.5" stroke-linecap="round" fill="none" opacity="1"/></g></g></defs>
<text x="707.8" y="851.2" font-size="32" fill="#111" font-weight="bold" >d</text>
<text x="882" y="884" font-size="23.5" fill="#222" text-anchor="middle" >Vimentin</text>
<text x="1137" y="884" font-size="23.5" fill="#222" text-anchor="middle" >E-Cadherin</text>
<text x="1388" y="884" font-size="23.5" fill="#222" text-anchor="middle" >DAPI</text>
<text x="1635.6" y="884" font-size="23.5" fill="#222" text-anchor="middle" >merge</text>
<text transform="translate(742.6 1008.7) rotate(-90)" font-size="24" fill="#111" text-anchor="middle" >UOK262</text>
<text transform="translate(742.6 1260.5) rotate(-90)" font-size="24" fill="#111" text-anchor="middle" >UOK262pFH</text>
<g transform="translate(750.5 891.1)" clip-path="url(#imgclip)"><rect x="0" y="0" width="248.9" height="248.9" fill="#020a03"/><use href="#grn"/></g>
<g transform="translate(1005.4 891.1)" clip-path="url(#imgclip)"><rect x="0" y="0" width="248.9" height="248.9" fill="#0a0404"/><use href="#red1"/></g>
<g transform="translate(1260.4 891.1)" clip-path="url(#imgclip)"><rect x="0" y="0" width="248.9" height="248.9" fill="#03030b"/><use href="#blu1"/></g>
<g transform="translate(1515.5 891.1)" clip-path="url(#imgclip)"><rect x="0" y="0" width="248.9" height="248.9" fill="#020a03"/><use href="#grn" filter="url(#gbright)"/><use href="#blu1"/><use href="#red1"/></g>
<g transform="translate(750.5 1144.9)" clip-path="url(#imgclip)"><rect x="0" y="0" width="248.9" height="248.9" fill="#040a07"/></g>
<g transform="translate(1005.4 1144.9)" clip-path="url(#imgclip)"><rect x="0" y="0" width="248.9" height="248.9" fill="#080505"/><use href="#red2"/></g>
<g transform="translate(1260.4 1144.9)" clip-path="url(#imgclip)"><rect x="0" y="0" width="248.9" height="248.9" fill="#03030b"/><use href="#blu2"/></g>
<g transform="translate(1515.5 1144.9)" clip-path="url(#imgclip)"><rect x="0" y="0" width="248.9" height="248.9" fill="#05050a"/><use href="#blu2"/><use href="#red2"/></g>
<rect x="755.9" y="1129.4" width="76.3" height="4.6" fill="#fff" />
</g>
<!-- panel_e -->
<g>
<text x="12.3" y="1489.2" font-size="32" fill="#111" font-weight="bold" >e</text>
<path d="M112.41 1884.12V1889.67M119.91 1873.57V1887.45M131.84 1862.47V1884.67M139.61 1861.08V1884.39M147.11 1858.86V1883.84M158.77 1854.7V1882.45M166.54 1851.92V1880.79M174.31 1848.31V1877.73M185.97 1842.76V1873.29M193.74 1838.32V1869.96M201.51 1833.6V1866.91M213.17 1826.66V1861.08M221.22 1821.67V1858.3M229.27 1816.67V1855.53M240.93 1808.62V1850.25M248.42 1803.9V1846.65M256.19 1799.18V1842.48M267.85 1790.58V1834.99M275.9 1783.08V1829.71M283.67 1776.14V1824.44M295.33 1765.32V1815.28M303.1 1757.55V1808.06M311.15 1749.78V1800.85M322.81 1735.9V1789.75" fill="none" stroke="#a9a9ab" stroke-width="1.1" />
<path d="M93.82 1889.67 L112.41 1886.89 L119.91 1880.51 L131.84 1873.57 L139.61 1872.74 L147.11 1871.35 L158.77 1868.57 L166.54 1866.35 L174.31 1863.02 L185.97 1858.03 L193.74 1854.14 L201.51 1850.25 L213.17 1843.87 L221.22 1839.98 L229.27 1836.1 L240.93 1829.44 L248.42 1825.27 L256.19 1820.83 L267.85 1812.78 L275.9 1806.4 L283.67 1800.29 L295.33 1790.3 L303.1 1782.81 L311.15 1775.31 L322.81 1762.82" fill="none" stroke="#a9a9ab" stroke-width="1.1" />
<circle cx="93.82" cy="1889.67" r="3.7" fill="#a9a9ab" />
<circle cx="112.41" cy="1886.89" r="3.7" fill="#a9a9ab" />
<circle cx="119.91" cy="1880.51" r="3.7" fill="#a9a9ab" />
<circle cx="131.84" cy="1873.57" r="3.7" fill="#a9a9ab" />
<circle cx="139.61" cy="1872.74" r="3.7" fill="#a9a9ab" />
<circle cx="147.11" cy="1871.35" r="3.7" fill="#a9a9ab" />
<circle cx="158.77" cy="1868.57" r="3.7" fill="#a9a9ab" />
<circle cx="166.54" cy="1866.35" r="3.7" fill="#a9a9ab" />
<circle cx="174.31" cy="1863.02" r="3.7" fill="#a9a9ab" />
<circle cx="185.97" cy="1858.03" r="3.7" fill="#a9a9ab" />
<circle cx="193.74" cy="1854.14" r="3.7" fill="#a9a9ab" />
<circle cx="201.51" cy="1850.25" r="3.7" fill="#a9a9ab" />
<circle cx="213.17" cy="1843.87" r="3.7" fill="#a9a9ab" />
<circle cx="221.22" cy="1839.98" r="3.7" fill="#a9a9ab" />
<circle cx="229.27" cy="1836.1" r="3.7" fill="#a9a9ab" />
<circle cx="240.93" cy="1829.44" r="3.7" fill="#a9a9ab" />
<circle cx="248.42" cy="1825.27" r="3.7" fill="#a9a9ab" />
<circle cx="256.19" cy="1820.83" r="3.7" fill="#a9a9ab" />
<circle cx="267.85" cy="1812.78" r="3.7" fill="#a9a9ab" />
<circle cx="275.9" cy="1806.4" r="3.7" fill="#a9a9ab" />
<circle cx="283.67" cy="1800.29" r="3.7" fill="#a9a9ab" />
<circle cx="295.33" cy="1790.3" r="3.7" fill="#a9a9ab" />
<circle cx="303.1" cy="1782.81" r="3.7" fill="#a9a9ab" />
<circle cx="311.15" cy="1775.31" r="3.7" fill="#a9a9ab" />
<circle cx="322.81" cy="1762.82" r="3.7" fill="#a9a9ab" />
<path d="M108.25 1881.62V1888.28M112.41 1882.73V1889.39M119.91 1867.19V1883.84M131.84 1851.36V1873.57M139.61 1847.2V1868.3M147.11 1843.04V1863.58M158.77 1836.38V1856.92M166.54 1831.94V1852.47M174.31 1825.27V1845.81M185.97 1812.78V1833.88M193.74 1803.07V1825.27M201.51 1792.52V1814.73M213.17 1773.65V1796.96M221.22 1760.6V1785.58M229.27 1747V1773.09M240.93 1725.63V1753.38M248.42 1712.03V1739.78M256.19 1699.26V1727.02M267.85 1680.39V1709.25M275.9 1666.51V1698.7M283.67 1653.18V1688.16M295.33 1635.14V1674M303.1 1621.82V1665.12M311.15 1608.5V1655.68M322.81 1590.73V1640.69" fill="none" stroke="#0a0a0a" stroke-width="1.1" />
<path d="M93.82 1889.67 L108.25 1884.95 L112.41 1886.06 L119.91 1875.51 L131.84 1862.47 L139.61 1857.75 L147.11 1853.31 L158.77 1846.65 L166.54 1842.21 L174.31 1835.54 L185.97 1823.33 L193.74 1814.17 L201.51 1803.62 L213.17 1785.3 L221.22 1773.09 L229.27 1760.05 L240.93 1739.51 L248.42 1725.91 L256.19 1713.14 L267.85 1694.82 L275.9 1682.61 L283.67 1670.67 L295.33 1654.57 L303.1 1643.47 L311.15 1632.09 L322.81 1615.71" fill="none" stroke="#0a0a0a" stroke-width="1.1" />
<circle cx="93.82" cy="1889.67" r="3.7" fill="#0a0a0a" />
<circle cx="108.25" cy="1884.95" r="3.7" fill="#0a0a0a" />
<circle cx="112.41" cy="1886.06" r="3.7" fill="#0a0a0a" />
<circle cx="119.91" cy="1875.51" r="3.7" fill="#0a0a0a" />
<circle cx="131.84" cy="1862.47" r="3.7" fill="#0a0a0a" />
<circle cx="139.61" cy="1857.75" r="3.7" fill="#0a0a0a" />
<circle cx="147.11" cy="1853.31" r="3.7" fill="#0a0a0a" />
<circle cx="158.77" cy="1846.65" r="3.7" fill="#0a0a0a" />
<circle cx="166.54" cy="1842.21" r="3.7" fill="#0a0a0a" />
<circle cx="174.31" cy="1835.54" r="3.7" fill="#0a0a0a" />
<circle cx="185.97" cy="1823.33" r="3.7" fill="#0a0a0a" />
<circle cx="193.74" cy="1814.17" r="3.7" fill="#0a0a0a" />
<circle cx="201.51" cy="1803.62" r="3.7" fill="#0a0a0a" />
<circle cx="213.17" cy="1785.3" r="3.7" fill="#0a0a0a" />
<circle cx="221.22" cy="1773.09" r="3.7" fill="#0a0a0a" />
<circle cx="229.27" cy="1760.05" r="3.7" fill="#0a0a0a" />
<circle cx="240.93" cy="1739.51" r="3.7" fill="#0a0a0a" />
<circle cx="248.42" cy="1725.91" r="3.7" fill="#0a0a0a" />
<circle cx="256.19" cy="1713.14" r="3.7" fill="#0a0a0a" />
<circle cx="267.85" cy="1694.82" r="3.7" fill="#0a0a0a" />
<circle cx="275.9" cy="1682.61" r="3.7" fill="#0a0a0a" />
<circle cx="283.67" cy="1670.67" r="3.7" fill="#0a0a0a" />
<circle cx="295.33" cy="1654.57" r="3.7" fill="#0a0a0a" />
<circle cx="303.1" cy="1643.47" r="3.7" fill="#0a0a0a" />
<circle cx="311.15" cy="1632.09" r="3.7" fill="#0a0a0a" />
<circle cx="322.81" cy="1615.71" r="3.7" fill="#0a0a0a" />
<line x1="93.8" y1="1514.4" x2="93.8" y2="1889.7" stroke="#333" stroke-width="1.1" />
<line x1="84.1" y1="1514.4" x2="93.8" y2="1514.4" stroke="#333" stroke-width="1.1" />
<text x="77.8" y="1522.4" font-size="22" fill="#111" text-anchor="end" >4</text>
<line x1="84.1" y1="1608.22" x2="93.8" y2="1608.22" stroke="#333" stroke-width="1.1" />
<text x="77.8" y="1616.22" font-size="22" fill="#111" text-anchor="end" >3</text>
<line x1="84.1" y1="1702.04" x2="93.8" y2="1702.04" stroke="#333" stroke-width="1.1" />
<text x="77.8" y="1710.04" font-size="22" fill="#111" text-anchor="end" >2</text>
<line x1="84.1" y1="1795.86" x2="93.8" y2="1795.86" stroke="#333" stroke-width="1.1" />
<text x="77.8" y="1803.86" font-size="22" fill="#111" text-anchor="end" >1</text>
<line x1="84.1" y1="1889.68" x2="93.8" y2="1889.68" stroke="#333" stroke-width="1.1" />
<text x="77.8" y="1897.68" font-size="22" fill="#111" text-anchor="end" >0</text>
<line x1="84.1" y1="1889.7" x2="328.9" y2="1889.7" stroke="#333" stroke-width="1.1" />
<line x1="93.8" y1="1889.7" x2="93.8" y2="1896.5" stroke="#333" stroke-width="1.1" />
<text x="93.8" y="1917.6" font-size="22" fill="#111" text-anchor="middle" >0</text>
<line x1="171.65" y1="1889.7" x2="171.65" y2="1896.5" stroke="#333" stroke-width="1.1" />
<text x="171.65" y="1917.6" font-size="22" fill="#111" text-anchor="middle" >5</text>
<line x1="249.5" y1="1889.7" x2="249.5" y2="1896.5" stroke="#333" stroke-width="1.1" />
<text x="250.7" y="1917.6" font-size="22" fill="#111" text-anchor="middle" >10</text>
<line x1="327.35" y1="1889.7" x2="327.35" y2="1896.5" stroke="#333" stroke-width="1.1" />
<text x="328.55" y="1917.6" font-size="22" fill="#111" text-anchor="middle" >15</text>
<circle cx="109.1" cy="1503.9" r="3.2" fill="#0a0a0a" />
<circle cx="110.3" cy="1523.3" r="3.2" fill="#a9a9ab" />
<text x="119.6" y="1512.2" font-size="21.5" fill="#111" >UOK262</text>
<text x="119.6" y="1529.6" font-size="21.5" fill="#111" >UOK262pFH</text>
<text x="217.2" y="1938.4" font-size="21.3" fill="#111" text-anchor="middle" >time (h)</text>
<text transform="translate(39.5 1714) rotate(-90)" font-size="20.8" fill="#111" text-anchor="middle" >cell migration (a.u)</text>
</g>
<!-- panel_f -->
<g>
<text x="481.3" y="1489.2" font-size="32" fill="#111" font-weight="bold" >f</text>
<text x="755.3" y="1502.2" font-size="20.65" fill="#222" text-anchor="middle" >UOK262 vs UOK262pFH</text>
<rect x="650.3" y="1737.4" width="83.8" height="128.5" fill="#0a0a0c" />
<rect x="775.2" y="1531.6" width="84.6" height="205.8" fill="#0a0a0c" />
<line x1="629.5" y1="1511.9" x2="629.5" y2="1887.8" stroke="#333" stroke-width="1.1" />
<line x1="619.8" y1="1511.9" x2="629.5" y2="1511.9" stroke="#333" stroke-width="1.1" />
<text x="614.5" y="1519.9" font-size="22.3" fill="#111" text-anchor="end" >0.3</text>
<line x1="619.8" y1="1587.08" x2="629.5" y2="1587.08" stroke="#333" stroke-width="1.1" />
<text x="614.5" y="1595.08" font-size="22.3" fill="#111" text-anchor="end" >0.2</text>
<line x1="619.8" y1="1662.26" x2="629.5" y2="1662.26" stroke="#333" stroke-width="1.1" />
<text x="614.5" y="1670.26" font-size="22.3" fill="#111" text-anchor="end" >0.1</text>
<line x1="619.8" y1="1737.44" x2="629.5" y2="1737.44" stroke="#333" stroke-width="1.1" />
<text x="614.5" y="1745.44" font-size="22.3" fill="#111" text-anchor="end" >0.0</text>
<line x1="619.8" y1="1812.62" x2="629.5" y2="1812.62" stroke="#333" stroke-width="1.1" />
<text x="614.5" y="1820.62" font-size="22.3" fill="#111" text-anchor="end" >-0.1</text>
<line x1="619.8" y1="1887.8" x2="629.5" y2="1887.8" stroke="#333" stroke-width="1.1" />
<text x="614.5" y="1895.8" font-size="22.3" fill="#111" text-anchor="end" >-0.2</text>
<line x1="629.5" y1="1737.4" x2="880.6" y2="1737.4" stroke="#333" stroke-width="1.1" />
<line x1="619.8" y1="1887.8" x2="882" y2="1887.8" stroke="#333" stroke-width="1.1" />
<line x1="691.9" y1="1887.8" x2="691.9" y2="1898.3" stroke="#333" stroke-width="1.1" />
<line x1="817.6" y1="1887.8" x2="817.6" y2="1898.3" stroke="#333" stroke-width="1.1" />
<text transform="translate(711.5 1913) rotate(-45)" font-size="21.5" fill="#111" text-anchor="end" font-style="italic" >ZEB1</text>
<text transform="translate(840.5 1913) rotate(-45)" font-size="21.5" fill="#111" text-anchor="end" font-style="italic" >ZEB2</text>
<text transform="translate(575.3 1700.7) rotate(-90)" font-size="21.6" fill="#111" text-anchor="middle" >fold change (log2)</text>
</g>
<!-- panel_g -->
<g>
<text x="1094.8" y="1488" font-size="32" fill="#111" font-weight="bold" >g</text>
<rect x="1199.8" y="1498.5" width="26.4" height="12" fill="#7f3f98" stroke="#3a2145" stroke-width="0.9" />
<rect x="1199.3" y="1515.5" width="27.3" height="12.6" fill="#0a0a0c" />
<text x="1231" y="1511.4" font-size="21.5" fill="#111" >HK2</text>
<text x="1231" y="1529.6" font-size="21.5" fill="#111" >UOK 262</text>
<line x1="1227.87" y1="1593.72" x2="1227.87" y2="1639.5" stroke="#333" stroke-width="1.1" />
<line x1="1220.07" y1="1593.72" x2="1235.67" y2="1593.72" stroke="#333" stroke-width="1.1" />
<line x1="1271.98" y1="1739.65" x2="1271.98" y2="1756.29" stroke="#333" stroke-width="1.1" />
<line x1="1264.18" y1="1739.65" x2="1279.78" y2="1739.65" stroke="#333" stroke-width="1.1" />
<line x1="1344.11" y1="1600.38" x2="1344.11" y2="1639.5" stroke="#333" stroke-width="1.1" />
<line x1="1336.31" y1="1600.38" x2="1351.91" y2="1600.38" stroke="#333" stroke-width="1.1" />
<line x1="1387.94" y1="1709.68" x2="1387.94" y2="1725.5" stroke="#333" stroke-width="1.1" />
<line x1="1380.14" y1="1709.68" x2="1395.74" y2="1709.68" stroke="#333" stroke-width="1.1" />
<rect x="1213.62" y="1639.95" width="28.78" height="249.55" fill="#7f3f98" stroke="#3a2145" stroke-width="0.9" />
<rect x="1257" y="1756.29" width="29.68" height="133.21" fill="#0a0a0c" />
<rect x="1329.58" y="1639.95" width="28.78" height="249.55" fill="#7f3f98" stroke="#3a2145" stroke-width="0.9" />
<rect x="1372.96" y="1725.5" width="29.68" height="164" fill="#0a0a0c" />
<line x1="1191.8" y1="1514.4" x2="1191.8" y2="1889.5" stroke="#333" stroke-width="1.1" />
<line x1="1182.6" y1="1514.4" x2="1191.8" y2="1514.4" stroke="#333" stroke-width="1.1" />
<text x="1178.3" y="1522.2" font-size="21.5" fill="#111" text-anchor="end" >1.5</text>
<line x1="1182.6" y1="1639.43" x2="1191.8" y2="1639.43" stroke="#333" stroke-width="1.1" />
<text x="1178.3" y="1647.23" font-size="21.5" fill="#111" text-anchor="end" >1.0</text>
<line x1="1182.6" y1="1764.46" x2="1191.8" y2="1764.46" stroke="#333" stroke-width="1.1" />
<text x="1178.3" y="1772.26" font-size="21.5" fill="#111" text-anchor="end" >0.5</text>
<line x1="1182.6" y1="1889.49" x2="1191.8" y2="1889.49" stroke="#333" stroke-width="1.1" />
<text x="1178.3" y="1897.29" font-size="21.5" fill="#111" text-anchor="end" >0</text>
<line x1="1182.6" y1="1889.5" x2="1425.4" y2="1889.5" stroke="#333" stroke-width="1.1" />
<line x1="1250.1" y1="1889.5" x2="1250.1" y2="1899.7" stroke="#333" stroke-width="1.1" />
<line x1="1366.3" y1="1889.5" x2="1366.3" y2="1899.7" stroke="#333" stroke-width="1.1" />
<text x="1272.2" y="1733" font-size="21.5" fill="#111" text-anchor="middle" >*</text>
<text x="1388" y="1705" font-size="21.5" fill="#111" text-anchor="middle" >*</text>
<text transform="translate(1285.8 1910.5) rotate(-45)" font-size="22.4" fill="#111" text-anchor="end" >miR-200A</text>
<text transform="translate(1398.8 1910.5) rotate(-45)" font-size="22.4" fill="#111" text-anchor="end" >miR-200B</text>
<text transform="translate(1137.5 1703.4) rotate(-90)" font-size="21.8" fill="#111" text-anchor="middle" >miRNA (normalised to HK2)</text>
</g>
<!-- panel_h -->
<g>
<text x="1521.2" y="1489.2" font-size="32" fill="#111" font-weight="bold" >h</text>
<text x="1725" y="1501" font-size="20.65" fill="#222" text-anchor="middle" >UOK262 vs UOK262pFH</text>
<line x1="1725.3" y1="1511.9" x2="1725.3" y2="1887.5" stroke="#ececec" stroke-width="1" />
<line x1="1606.8" y1="1804" x2="1832" y2="1804" stroke="#e77f70" stroke-width="1.1" stroke-dasharray="24.5 25.5"/>
<line x1="1606.8" y1="1818.4" x2="1832" y2="1818.4" stroke="#f0a387" stroke-width="1.1" stroke-dasharray="24.5 25.5"/>
<text x="1610.2" y="1797.2" font-size="15.7" fill="#e9877a" >FDR 1%</text>
<text x="1610.2" y="1833.9" font-size="15.7" fill="#f4b79c" >FDR 5%</text>
<line x1="1606.8" y1="1511.9" x2="1606.8" y2="1887.5" stroke="#333" stroke-width="1.1" />
<line x1="1602.6" y1="1511.9" x2="1606.8" y2="1511.9" stroke="#333" stroke-width="1.1" />
<text x="1598.6" y="1519.9" font-size="22.3" fill="#111" text-anchor="end" >16</text>
<line x1="1602.6" y1="1553.63" x2="1606.8" y2="1553.63" stroke="#333" stroke-width="1.1" />
<text x="1598.6" y="1561.63" font-size="22.3" fill="#111" text-anchor="end" >14</text>
<line x1="1602.6" y1="1595.36" x2="1606.8" y2="1595.36" stroke="#333" stroke-width="1.1" />
<text x="1598.6" y="1603.36" font-size="22.3" fill="#111" text-anchor="end" >12</text>
<line x1="1602.6" y1="1637.09" x2="1606.8" y2="1637.09" stroke="#333" stroke-width="1.1" />
<text x="1598.6" y="1645.09" font-size="22.3" fill="#111" text-anchor="end" >10</text>
<line x1="1602.6" y1="1678.82" x2="1606.8" y2="1678.82" stroke="#333" stroke-width="1.1" />
<text x="1598.6" y="1686.82" font-size="22.3" fill="#111" text-anchor="end" >8</text>
<line x1="1602.6" y1="1720.55" x2="1606.8" y2="1720.55" stroke="#333" stroke-width="1.1" />
<text x="1598.6" y="1728.55" font-size="22.3" fill="#111" text-anchor="end" >6</text>
<line x1="1602.6" y1="1762.28" x2="1606.8" y2="1762.28" stroke="#333" stroke-width="1.1" />
<text x="1598.6" y="1770.28" font-size="22.3" fill="#111" text-anchor="end" >4</text>
<line x1="1602.6" y1="1804.01" x2="1606.8" y2="1804.01" stroke="#333" stroke-width="1.1" />
<text x="1598.6" y="1812.01" font-size="22.3" fill="#111" text-anchor="end" >2</text>
<line x1="1602.6" y1="1845.74" x2="1606.8" y2="1845.74" stroke="#333" stroke-width="1.1" />
<text x="1598.6" y="1853.74" font-size="22.3" fill="#111" text-anchor="end" >0</text>
<line x1="1602.6" y1="1887.47" x2="1606.8" y2="1887.47" stroke="#333" stroke-width="1.1" />
<text x="1598.6" y="1895.47" font-size="22.3" fill="#111" text-anchor="end" >-2</text>
<line x1="1606.8" y1="1887.5" x2="1844" y2="1887.5" stroke="#333" stroke-width="1.1" />
<line x1="1606.8" y1="1887.5" x2="1606.8" y2="1891.8" stroke="#333" stroke-width="1.1" />
<text x="1609.2" y="1909.6" font-size="22.3" fill="#111" text-anchor="end" >−4</text>
<line x1="1636.45" y1="1887.5" x2="1636.45" y2="1891.8" stroke="#333" stroke-width="1.1" />
<text x="1645.2" y="1909.6" font-size="22.3" fill="#111" text-anchor="end" >−3</text>
<line x1="1666.1" y1="1887.5" x2="1666.1" y2="1891.8" stroke="#333" stroke-width="1.1" />
<text x="1676.2" y="1909.6" font-size="22.3" fill="#111" text-anchor="end" >−2</text>
<line x1="1695.75" y1="1887.5" x2="1695.75" y2="1891.8" stroke="#333" stroke-width="1.1" />
<text x="1701.2" y="1909.6" font-size="22.3" fill="#111" text-anchor="end" >-1</text>
<line x1="1725.4" y1="1887.5" x2="1725.4" y2="1891.8" stroke="#333" stroke-width="1.1" />
<text x="1727" y="1909.6" font-size="22.3" fill="#111" text-anchor="middle" >0</text>
<line x1="1755.05" y1="1887.5" x2="1755.05" y2="1891.8" stroke="#333" stroke-width="1.1" />
<text x="1757.3" y="1909.6" font-size="22.3" fill="#111" text-anchor="middle" >1</text>
<line x1="1784.7" y1="1887.5" x2="1784.7" y2="1891.8" stroke="#333" stroke-width="1.1" />
<text x="1785" y="1909.6" font-size="22.3" fill="#111" text-anchor="middle" >2</text>
<line x1="1814.35" y1="1887.5" x2="1814.35" y2="1891.8" stroke="#333" stroke-width="1.1" />
<text x="1814.4" y="1909.6" font-size="22.3" fill="#111" text-anchor="middle" >3</text>
<line x1="1844" y1="1887.5" x2="1844" y2="1891.8" stroke="#333" stroke-width="1.1" />
<text x="1845.2" y="1909.6" font-size="22.3" fill="#111" text-anchor="middle" >4</text>
<g fill="#f3c285" fill-opacity="0.45" stroke="#1d1812" stroke-width="0.85"><circle cx="1716.52" cy="1845.58" r="6.6"/><circle cx="1738.83" cy="1845.63" r="6.6"/><circle cx="1712.02" cy="1845.45" r="6.6"/><circle cx="1743.67" cy="1846.28" r="6.6"/><circle cx="1743.29" cy="1845.92" r="6.6"/><circle cx="1717.94" cy="1845.09" r="6.6"/><circle cx="1704.82" cy="1846.09" r="6.6"/><circle cx="1731.47" cy="1845.59" r="6.6"/><circle cx="1718.96" cy="1845.64" r="6.6"/><circle cx="1734.95" cy="1845.48" r="6.6"/><circle cx="1729.97" cy="1845.65" r="6.6"/><circle cx="1724.28" cy="1845.72" r="6.6"/><circle cx="1734.21" cy="1845.78" r="6.6"/><circle cx="1734.62" cy="1845.86" r="6.6"/><circle cx="1727.54" cy="1845.89" r="6.6"/><circle cx="1737.09" cy="1845.71" r="6.6"/><circle cx="1733.24" cy="1845.34" r="6.6"/><circle cx="1710.05" cy="1845.68" r="6.6"/><circle cx="1719.35" cy="1846.06" r="6.6"/><circle cx="1733.33" cy="1845.7" r="6.6"/><circle cx="1695.65" cy="1834.32" r="6.6"/><circle cx="1709.28" cy="1846.24" r="6.6"/><circle cx="1724.28" cy="1845.65" r="6.6"/><circle cx="1744.97" cy="1845.27" r="6.6"/><circle cx="1725.26" cy="1845.93" r="6.6"/><circle cx="1743.66" cy="1845.71" r="6.6"/><circle cx="1711.22" cy="1846.34" r="6.6"/><circle cx="1730.41" cy="1845.69" r="6.6"/><circle cx="1749.32" cy="1844.18" r="6.6"/><circle cx="1720.24" cy="1846" r="6.6"/><circle cx="1710.7" cy="1845.46" r="6.6"/><circle cx="1750.78" cy="1843.7" r="6.6"/><circle cx="1729.18" cy="1845.96" r="6.6"/><circle cx="1718.33" cy="1845.72" r="6.6"/><circle cx="1735.32" cy="1845.32" r="6.6"/><circle cx="1710.31" cy="1846.09" r="6.6"/><circle cx="1722.7" cy="1846.82" r="6.6"/><circle cx="1745.19" cy="1845.84" r="6.6"/><circle cx="1744.94" cy="1844.68" r="6.6"/><circle cx="1715.72" cy="1846.32" r="6.6"/><circle cx="1724.02" cy="1845.9" r="6.6"/><circle cx="1714.53" cy="1845.51" r="6.6"/><circle cx="1716.71" cy="1845.77" r="6.6"/><circle cx="1740.06" cy="1846.13" r="6.6"/><circle cx="1718.63" cy="1845.85" r="6.6"/><circle cx="1727.29" cy="1845.62" r="6.6"/><circle cx="1721.87" cy="1846.04" r="6.6"/><circle cx="1734.33" cy="1846.72" r="6.6"/><circle cx="1722.49" cy="1845.89" r="6.6"/><circle cx="1754.39" cy="1843.92" r="6.6"/><circle cx="1737.85" cy="1846.26" r="6.6"/><circle cx="1714.75" cy="1846.22" r="6.6"/><circle cx="1715.87" cy="1845.73" r="6.6"/><circle cx="1730.47" cy="1846.2" r="6.6"/><circle cx="1733.88" cy="1845.91" r="6.6"/><circle cx="1742.1" cy="1846.73" r="6.6"/><circle cx="1742.62" cy="1845.51" r="6.6"/><circle cx="1746.35" cy="1845.59" r="6.6"/><circle cx="1710.48" cy="1845.24" r="6.6"/><circle cx="1713.77" cy="1845.42" r="6.6"/><circle cx="1744.83" cy="1845.65" r="6.6"/><circle cx="1718.52" cy="1845.72" r="6.6"/><circle cx="1709.18" cy="1845.53" r="6.6"/><circle cx="1716.21" cy="1845.94" r="6.6"/><circle cx="1749.61" cy="1844.78" r="6.6"/><circle cx="1731.82" cy="1845.74" r="6.6"/><circle cx="1698.62" cy="1836.41" r="6.6"/><circle cx="1722.86" cy="1845.86" r="6.6"/><circle cx="1722.02" cy="1846.99" r="6.6"/><circle cx="1738.17" cy="1845.93" r="6.6"/><circle cx="1724.42" cy="1846.29" r="6.6"/><circle cx="1716.6" cy="1846.03" r="6.6"/><circle cx="1712.31" cy="1846.02" r="6.6"/><circle cx="1736.59" cy="1845.87" r="6.6"/><circle cx="1714.95" cy="1846.57" r="6.6"/><circle cx="1741.34" cy="1845.32" r="6.6"/><circle cx="1756.17" cy="1843.93" r="6.6"/><circle cx="1726.89" cy="1845.97" r="6.6"/><circle cx="1732.28" cy="1846.05" r="6.6"/><circle cx="1710.02" cy="1845.63" r="6.6"/><circle cx="1739.46" cy="1845.51" r="6.6"/><circle cx="1721.75" cy="1845.91" r="6.6"/><circle cx="1723.75" cy="1845.76" r="6.6"/><circle cx="1751.98" cy="1838.5" r="6.6"/><circle cx="1709.26" cy="1845.94" r="6.6"/><circle cx="1720.38" cy="1845.96" r="6.6"/><circle cx="1715.19" cy="1846.19" r="6.6"/><circle cx="1724.06" cy="1846.12" r="6.6"/><circle cx="1727.89" cy="1845.7" r="6.6"/><circle cx="1724.71" cy="1845.76" r="6.6"/><circle cx="1728.16" cy="1845.85" r="6.6"/><circle cx="1736.59" cy="1846.14" r="6.6"/><circle cx="1739.78" cy="1845.38" r="6.6"/><circle cx="1716.01" cy="1846.09" r="6.6"/><circle cx="1737.01" cy="1845.77" r="6.6"/><circle cx="1720.3" cy="1845.73" r="6.6"/><circle cx="1713.2" cy="1845.7" r="6.6"/><circle cx="1717.06" cy="1845.68" r="6.6"/><circle cx="1735.63" cy="1845.6" r="6.6"/><circle cx="1740.91" cy="1845.51" r="6.6"/><circle cx="1737.27" cy="1845.91" r="6.6"/><circle cx="1715.9" cy="1845.5" r="6.6"/><circle cx="1717.38" cy="1845.52" r="6.6"/><circle cx="1732.74" cy="1845.63" r="6.6"/><circle cx="1735.03" cy="1845.54" r="6.6"/><circle cx="1712.69" cy="1845.81" r="6.6"/><circle cx="1731.81" cy="1845.65" r="6.6"/><circle cx="1742.08" cy="1846.26" r="6.6"/><circle cx="1742.2" cy="1846.19" r="6.6"/><circle cx="1715.5" cy="1845.05" r="6.6"/><circle cx="1722.9" cy="1846.07" r="6.6"/><circle cx="1725.31" cy="1845.96" r="6.6"/><circle cx="1736.56" cy="1845.47" r="6.6"/><circle cx="1709.5" cy="1845.8" r="6.6"/><circle cx="1733.22" cy="1845.75" r="6.6"/><circle cx="1721.12" cy="1845.8" r="6.6"/><circle cx="1713.31" cy="1845.81" r="6.6"/><circle cx="1737.51" cy="1845.85" r="6.6"/><circle cx="1753.47" cy="1840.58" r="6.6"/><circle cx="1716.67" cy="1845.99" r="6.6"/><circle cx="1734.24" cy="1845.97" r="6.6"/><circle cx="1708.84" cy="1845.41" r="6.6"/><circle cx="1710.42" cy="1846.16" r="6.6"/><circle cx="1727.64" cy="1846.13" r="6.6"/><circle cx="1739.97" cy="1845.28" r="6.6"/><circle cx="1721.45" cy="1845.54" r="6.6"/><circle cx="1723.5" cy="1846.1" r="6.6"/><circle cx="1720.74" cy="1846.27" r="6.6"/><circle cx="1727.69" cy="1845.64" r="6.6"/><circle cx="1715.74" cy="1845.65" r="6.6"/><circle cx="1740.34" cy="1845.77" r="6.6"/><circle cx="1741.64" cy="1846.03" r="6.6"/><circle cx="1738.04" cy="1845.99" r="6.6"/><circle cx="1729.33" cy="1845.95" r="6.6"/><circle cx="1737.5" cy="1845.92" r="6.6"/><circle cx="1697.91" cy="1844.87" r="6.6"/><circle cx="1717.09" cy="1846.34" r="6.6"/><circle cx="1735.79" cy="1845.49" r="6.6"/><circle cx="1715.52" cy="1845.61" r="6.6"/><circle cx="1713.88" cy="1845.8" r="6.6"/><circle cx="1734.64" cy="1845.66" r="6.6"/><circle cx="1716.36" cy="1845.86" r="6.6"/><circle cx="1718.82" cy="1845.66" r="6.6"/><circle cx="1728.7" cy="1845.7" r="6.6"/><circle cx="1734.54" cy="1846.06" r="6.6"/><circle cx="1733.57" cy="1847.06" r="6.6"/><circle cx="1716.28" cy="1845.96" r="6.6"/><circle cx="1713.34" cy="1845.69" r="6.6"/><circle cx="1728.93" cy="1846.36" r="6.6"/><circle cx="1736.18" cy="1845.86" r="6.6"/><circle cx="1739.51" cy="1845.94" r="6.6"/><circle cx="1752.13" cy="1845.28" r="6.6"/><circle cx="1717.84" cy="1845.87" r="6.6"/><circle cx="1731.78" cy="1845.02" r="6.6"/><circle cx="1730.38" cy="1846.13" r="6.6"/><circle cx="1734.78" cy="1845.67" r="6.6"/><circle cx="1711.29" cy="1845.53" r="6.6"/><circle cx="1739.48" cy="1845.42" r="6.6"/><circle cx="1719.45" cy="1845.86" r="6.6"/><circle cx="1749.25" cy="1845.31" r="6.6"/><circle cx="1742.14" cy="1846.14" r="6.6"/><circle cx="1729.66" cy="1845.58" r="6.6"/><circle cx="1726.12" cy="1845.8" r="6.6"/><circle cx="1723.77" cy="1845.65" r="6.6"/><circle cx="1709.9" cy="1845.73" r="6.6"/><circle cx="1716.46" cy="1845.6" r="6.6"/><circle cx="1726.07" cy="1845.83" r="6.6"/><circle cx="1736.73" cy="1845.96" r="6.6"/><circle cx="1732.08" cy="1845.82" r="6.6"/><circle cx="1727.37" cy="1845.16" r="6.6"/><circle cx="1747.87" cy="1845.4" r="6.6"/><circle cx="1726.76" cy="1845.79" r="6.6"/><circle cx="1727.03" cy="1845.56" r="6.6"/><circle cx="1729.6" cy="1845.74" r="6.6"/><circle cx="1719.3" cy="1845.96" r="6.6"/><circle cx="1741.14" cy="1845.74" r="6.6"/><circle cx="1736.11" cy="1845.56" r="6.6"/><circle cx="1729.86" cy="1845.77" r="6.6"/><circle cx="1720.53" cy="1845.85" r="6.6"/><circle cx="1736.67" cy="1845.94" r="6.6"/><circle cx="1727.22" cy="1845.84" r="6.6"/><circle cx="1730.89" cy="1845.05" r="6.6"/><circle cx="1730.3" cy="1846.88" r="6.6"/><circle cx="1733.42" cy="1845.42" r="6.6"/><circle cx="1698.45" cy="1842.42" r="6.6"/><circle cx="1742.21" cy="1845.64" r="6.6"/><circle cx="1729.93" cy="1846.21" r="6.6"/><circle cx="1720.55" cy="1845.95" r="6.6"/><circle cx="1738.53" cy="1845.36" r="6.6"/><circle cx="1739.76" cy="1845.56" r="6.6"/><circle cx="1741.93" cy="1845.52" r="6.6"/><circle cx="1728.12" cy="1845.88" r="6.6"/><circle cx="1745.58" cy="1846.04" r="6.6"/><circle cx="1710.62" cy="1845.04" r="6.6"/><circle cx="1713.33" cy="1845.38" r="6.6"/><circle cx="1717.05" cy="1845.78" r="6.6"/><circle cx="1741.52" cy="1845.91" r="6.6"/><circle cx="1745.18" cy="1845.45" r="6.6"/><circle cx="1747.77" cy="1845.43" r="6.6"/><circle cx="1734.25" cy="1845.38" r="6.6"/><circle cx="1739.53" cy="1845.86" r="6.6"/><circle cx="1739.05" cy="1845.6" r="6.6"/><circle cx="1720.58" cy="1845.67" r="6.6"/><circle cx="1713.8" cy="1845.18" r="6.6"/><circle cx="1729.65" cy="1844.16" r="6.6"/><circle cx="1733.95" cy="1846.01" r="6.6"/><circle cx="1729.4" cy="1845.76" r="6.6"/><circle cx="1739.36" cy="1846.37" r="6.6"/><circle cx="1712.73" cy="1846.16" r="6.6"/><circle cx="1736.94" cy="1845.15" r="6.6"/><circle cx="1738.63" cy="1845.94" r="6.6"/><circle cx="1746.5" cy="1846.15" r="6.6"/><circle cx="1709.08" cy="1845.75" r="6.6"/><circle cx="1739.48" cy="1845.25" r="6.6"/><circle cx="1734.29" cy="1846.03" r="6.6"/><circle cx="1715" cy="1844.57" r="6.6"/><circle cx="1712.53" cy="1845.38" r="6.6"/><circle cx="1723.65" cy="1846.07" r="6.6"/><circle cx="1744.52" cy="1845.64" r="6.6"/><circle cx="1727.1" cy="1844.67" r="6.6"/><circle cx="1738.92" cy="1845.72" r="6.6"/><circle cx="1745.02" cy="1845.54" r="6.6"/><circle cx="1729.4" cy="1845.62" r="6.6"/><circle cx="1731.31" cy="1846.33" r="6.6"/><circle cx="1711.35" cy="1845.95" r="6.6"/><circle cx="1719.23" cy="1845.78" r="6.6"/><circle cx="1747.92" cy="1846.12" r="6.6"/><circle cx="1722.28" cy="1845.48" r="6.6"/><circle cx="1750.72" cy="1844.69" r="6.6"/><circle cx="1728.28" cy="1845.75" r="6.6"/><circle cx="1737.27" cy="1845.53" r="6.6"/><circle cx="1719.1" cy="1845.93" r="6.6"/><circle cx="1746.73" cy="1846.68" r="6.6"/><circle cx="1708.24" cy="1844.69" r="6.6"/><circle cx="1745.95" cy="1846.17" r="6.6"/><circle cx="1746.56" cy="1845.47" r="6.6"/><circle cx="1734.93" cy="1846.44" r="6.6"/><circle cx="1727.72" cy="1845.57" r="6.6"/><circle cx="1739.02" cy="1845.82" r="6.6"/><circle cx="1715.63" cy="1845.94" r="6.6"/><circle cx="1719.29" cy="1846.06" r="6.6"/><circle cx="1738.18" cy="1845.49" r="6.6"/><circle cx="1711.64" cy="1845.89" r="6.6"/><circle cx="1727.39" cy="1845.75" r="6.6"/><circle cx="1739.18" cy="1845.63" r="6.6"/><circle cx="1712.48" cy="1845.8" r="6.6"/><circle cx="1708.02" cy="1846" r="6.6"/><circle cx="1739.12" cy="1845.36" r="6.6"/><circle cx="1714.17" cy="1846.08" r="6.6"/><circle cx="1714.27" cy="1846.59" r="6.6"/><circle cx="1722.57" cy="1845.61" r="6.6"/><circle cx="1732.59" cy="1845.9" r="6.6"/><circle cx="1731.98" cy="1845.8" r="6.6"/><circle cx="1714.03" cy="1844.65" r="6.6"/><circle cx="1718.63" cy="1845.87" r="6.6"/><circle cx="1717.95" cy="1845.91" r="6.6"/><circle cx="1750.48" cy="1846.18" r="6.6"/><circle cx="1714.56" cy="1845.65" r="6.6"/><circle cx="1739.87" cy="1845.99" r="6.6"/><circle cx="1715.56" cy="1845.72" r="6.6"/><circle cx="1728.92" cy="1846.17" r="6.6"/><circle cx="1721.47" cy="1845.82" r="6.6"/><circle cx="1724.92" cy="1845.6" r="6.6"/><circle cx="1697.41" cy="1842.04" r="6.6"/><circle cx="1730.81" cy="1845.29" r="6.6"/><circle cx="1739.74" cy="1846.43" r="6.6"/><circle cx="1714.44" cy="1845.39" r="6.6"/><circle cx="1742.9" cy="1845.68" r="6.6"/><circle cx="1722.34" cy="1845.5" r="6.6"/><circle cx="1721.77" cy="1845.86" r="6.6"/><circle cx="1727.95" cy="1846.17" r="6.6"/><circle cx="1745.27" cy="1846.1" r="6.6"/><circle cx="1730.32" cy="1846.27" r="6.6"/><circle cx="1734.72" cy="1846.09" r="6.6"/><circle cx="1717.99" cy="1845.52" r="6.6"/><circle cx="1711.24" cy="1846.38" r="6.6"/><circle cx="1715.79" cy="1845.74" r="6.6"/><circle cx="1723.38" cy="1846.15" r="6.6"/><circle cx="1743.34" cy="1845.72" r="6.6"/><circle cx="1735.75" cy="1846.05" r="6.6"/><circle cx="1731.65" cy="1845.85" r="6.6"/><circle cx="1701.58" cy="1839.54" r="6.6"/><circle cx="1744.91" cy="1845.42" r="6.6"/><circle cx="1711.75" cy="1846.03" r="6.6"/><circle cx="1745.09" cy="1846.18" r="6.6"/><circle cx="1737.5" cy="1846.05" r="6.6"/><circle cx="1750.5" cy="1839.54" r="6.6"/><circle cx="1750.3" cy="1845.49" r="6.6"/><circle cx="1712.63" cy="1845.84" r="6.6"/><circle cx="1725.05" cy="1845.82" r="6.6"/><circle cx="1714.22" cy="1845.93" r="6.6"/><circle cx="1743.69" cy="1845.59" r="6.6"/><circle cx="1715.48" cy="1845.58" r="6.6"/><circle cx="1717.67" cy="1844.73" r="6.6"/><circle cx="1719.02" cy="1845.26" r="6.6"/><circle cx="1715.18" cy="1845.58" r="6.6"/><circle cx="1741.91" cy="1845.79" r="6.6"/><circle cx="1718.04" cy="1845.88" r="6.6"/><circle cx="1735.62" cy="1845.79" r="6.6"/><circle cx="1697.13" cy="1838.5" r="6.6"/><circle cx="1729.71" cy="1845.79" r="6.6"/><circle cx="1723.35" cy="1845.99" r="6.6"/><circle cx="1712.38" cy="1846.18" r="6.6"/><circle cx="1724.54" cy="1845.62" r="6.6"/><circle cx="1719.6" cy="1845.67" r="6.6"/><circle cx="1722.53" cy="1846" r="6.6"/><circle cx="1694.17" cy="1833.28" r="6.6"/><circle cx="1734.52" cy="1845.46" r="6.6"/></g>
<circle cx="1685.87" cy="1841.63" r="6.6" fill="#fbd29a" stroke="#6e5a40" stroke-width="0.6" />
<circle cx="1704.54" cy="1845.17" r="6.6" fill="#fbd29a" stroke="#6e5a40" stroke-width="0.6" />
<circle cx="1725.3" cy="1845.59" r="6.6" fill="#fbd29a" stroke="#6e5a40" stroke-width="0.6" />
<circle cx="1760.78" cy="1814.55" r="7" fill="#f0826a" stroke="#4a2b26" stroke-width="0.9" />
<circle cx="1765.78" cy="1801.24" r="7" fill="#e0523f" stroke="#4a2b26" stroke-width="0.9" />
<circle cx="1638.16" cy="1559.04" r="7" fill="#e0523f" stroke="#4a2b26" stroke-width="0.9" />
<circle cx="1651.2" cy="1639.77" r="7" fill="#e0523f" stroke="#4a2b26" stroke-width="0.9" />
<circle cx="1811.55" cy="1559.04" r="7" fill="#e0523f" stroke="#4a2b26" stroke-width="0.9" />
<circle cx="1820.43" cy="1775.71" r="7" fill="#e0523f" stroke="#4a2b26" stroke-width="0.9" />
<text x="1681.5" y="1814.8" font-size="17.2" fill="#555" >miR-141</text>
<text x="1645" y="1879" font-size="17.4" fill="#555" >miR-200B</text>
<path d="M1712.23 1819.55L1707.52 1823.98" fill="none" stroke="#111" stroke-width="1" />
<path d="M1704.46 1827.04l7.4 -1.4l-4.8 -5.4z" fill="#111"/>
<path d="M1697.53 1861.99L1704.74 1857.55" fill="none" stroke="#111" stroke-width="1" />
<path d="M1708.63 1855.33l-7.6 0.6l3.8 6z" fill="#111"/>
<text x="1722" y="1935.2" font-size="22" fill="#111" text-anchor="middle" >fold change (log2)</text>
<text transform="translate(1567.3 1699.3) rotate(-90)" font-size="21.8" fill="#111" text-anchor="middle" >FDR (-log10)</text>
</g>
</svg>
</body>
</html>
